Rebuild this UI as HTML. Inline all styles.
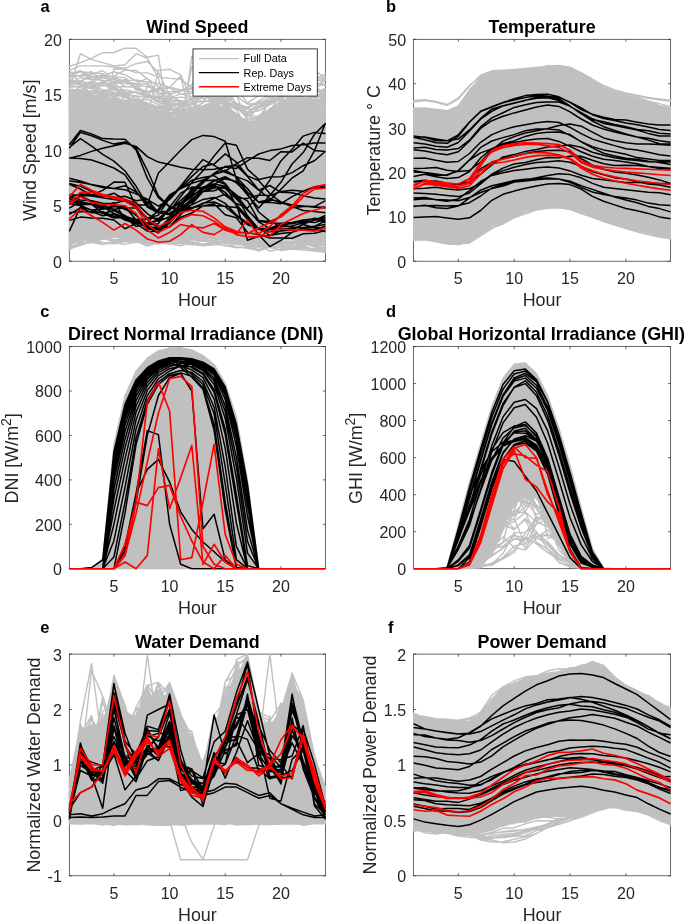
<!DOCTYPE html>
<html lang="en"><head><meta charset="utf-8"><title>Figure</title>
<style>html,body{margin:0;padding:0;background:#fff}svg{display:block;will-change:transform}text{font-family:"Liberation Sans", Arial, Helvetica, sans-serif;fill:#262626}.t{font-size:16.0px}.l{font-size:17.9px}.b{font-size:17.9px;font-weight:bold;fill:#000}.p{font-size:16.5px;font-weight:bold;fill:#000}.g{fill:none;stroke:#c0c0c0;stroke-width:1.4;stroke-linejoin:round;stroke-linecap:square}.k{fill:none;stroke:#000;stroke-width:1.5;stroke-linejoin:round}.r{fill:none;stroke:#f00;stroke-width:1.65;stroke-linejoin:round}.a{fill:none;stroke:#262626;stroke-width:0.7}</style></head><body>
<svg width="685" height="921" viewBox="0 0 685 921">
<rect width="685" height="921" fill="#fff"/>
<g id="panel-a">
<clipPath id="c0"><rect x="68.3" y="39.3" width="257.6" height="222.9"/></clipPath>
<rect class="a" x="69.3" y="39.3" width="256.2" height="221.9"/>
<path class="a" d="M113.9 261.2v-2.6 M113.9 39.3v2.6 M169.6 261.2v-2.6 M169.6 39.3v2.6 M225.2 261.2v-2.6 M225.2 39.3v2.6 M280.9 261.2v-2.6 M280.9 39.3v2.6 M69.3 261.2h2.6 M325.5 261.2h-2.6 M69.3 205.7h2.6 M325.5 205.7h-2.6 M69.3 150.2h2.6 M325.5 150.2h-2.6 M69.3 94.8h2.6 M325.5 94.8h-2.6 M69.3 39.3h2.6 M325.5 39.3h-2.6"/>
<g clip-path="url(#c0)">
<polygon points="69.3,99.2 80.4,98.7 91.6,98.1 102.7,99.2 113.9,100.3 125,103.1 136.1,105.9 147.3,110.3 158.4,113.6 169.6,117 180.7,117 191.8,115.3 203,113.6 214.1,109.2 225.2,112.5 236.4,121.4 247.5,129.2 258.7,125.8 269.8,117 280.9,110.3 292.1,107 303.2,103.7 314.4,102.5 325.5,101.4 325.5,241.8 314.4,240.7 303.2,239.6 292.1,239.6 280.9,239.6 269.8,240.1 258.7,240.7 247.5,239 236.4,237.3 225.2,235.4 214.1,233.5 203,233.5 191.8,233.5 180.7,234.6 169.6,235.7 158.4,235.1 147.3,234.6 136.1,233.7 125,232.9 113.9,232.6 102.7,232.4 91.6,233.5 80.4,234.6 69.3,239.6" fill="#c0c0c0" stroke="#c0c0c0" stroke-width="1.2" stroke-linejoin="round"/>
<path class="g" d="M69.3 105 80.4 99.7 91.6 100.7 102.7 93.6 113.9 100.3 125 106.3 136.1 104 147.3 111.7 158.4 118.1 169.6 118 180.7 120.3 191.8 120.3 203 118.5 214.1 113.9 225.2 115.1 236.4 125.3 247.5 133.3 258.7 131.2 269.8 119.5 280.9 113.6 292.1 110.8 303.2 111.1 314.4 106.3 325.5 102.3M69.3 99.7 80.4 103.3 91.6 101.8 102.7 107.8 113.9 101.8 125 105.2 136.1 109.2 147.3 109.1 158.4 118 169.6 117.8 180.7 123.5 191.8 120.7 203 120 214.1 108.3 225.2 107.2 236.4 119.9 247.5 126.2 258.7 125 269.8 115.1 280.9 111.7 292.1 112.8 303.2 111.9 314.4 105.8 325.5 96.7M69.3 99.4 80.4 93.9 91.6 95.7 102.7 98.3 113.9 101.3 125 103.7 136.1 104.3 147.3 114.8 158.4 112.8 169.6 117.3 180.7 118.8 191.8 118.9 203 111.1 214.1 109.1 225.2 116.2 236.4 123.8 247.5 134.6 258.7 132.4 269.8 123.2 280.9 115.4 292.1 113.8 303.2 113.8 314.4 106.1 325.5 101.9M69.3 94 80.4 96.5 91.6 96 102.7 95.9 113.9 99.1 125 107.5 136.1 106.1 147.3 107.7 158.4 111 169.6 118.2 180.7 118 191.8 117.4 203 115.4 214.1 106.2 225.2 106.5 236.4 116.3 247.5 124.9 258.7 121.6 269.8 114.8 280.9 109.3 292.1 108.3 303.2 104.3 314.4 96.3 325.5 95.7M69.3 93.3 80.4 97.3 91.6 96.6 102.7 98 113.9 101.4 125 101 136.1 101.6 147.3 105.3 158.4 109.2 169.6 114.4 180.7 116.1 191.8 114.6 203 112.2 214.1 110.6 225.2 109.2 236.4 116.5 247.5 123.5 258.7 124 269.8 113.6 280.9 102.9 292.1 99 303.2 99.6 314.4 100.3 325.5 99M69.3 103 80.4 103.7 91.6 104.5 102.7 99.3 113.9 103.4 125 109 136.1 108.9 147.3 113.4 158.4 117.4 169.6 118.5 180.7 118.3 191.8 116.9 203 113.6 214.1 110.3 225.2 116.8 236.4 126.5 247.5 135.2 258.7 130.2 269.8 124.2 280.9 121.1 292.1 114.1 303.2 113 314.4 114.8 325.5 108.4M69.3 97.9 80.4 97.9 91.6 100.1 102.7 103.2 113.9 104.8 125 105.8 136.1 110.9 147.3 112.6 158.4 111.1 169.6 114.4 180.7 109.9 191.8 113.9 203 107.4 214.1 103.2 225.2 107.8 236.4 116.1 247.5 122.4 258.7 124.6 269.8 112.3 280.9 102.9 292.1 102.2 303.2 98.4 314.4 100 325.5 98.6M69.3 92.2 80.4 89.2 91.6 92.7 102.7 92.1 113.9 97.1 125 101.1 136.1 104.5 147.3 106.4 158.4 109.2 169.6 109.3 180.7 113.1 191.8 111.1 203 106 214.1 101.1 225.2 109.6 236.4 115.3 247.5 124.8 258.7 119.8 269.8 110.4 280.9 100.8 292.1 99.2 303.2 102.4 314.4 103.1 325.5 96.9M69.3 92.3 80.4 93.8 91.6 97.7 102.7 94 113.9 95 125 93.9 136.1 96.6 147.3 104 158.4 108.3 169.6 114.3 180.7 114.2 191.8 112.2 203 109.1 214.1 100.5 225.2 105.6 236.4 113.5 247.5 125.5 258.7 118.1 269.8 108.6 280.9 105.1 292.1 100.4 303.2 99.4 314.4 102.4 325.5 96.1M69.3 107.9 80.4 106.4 91.6 102.7 102.7 104.8 113.9 104.2 125 109.1 136.1 113 147.3 116.2 158.4 119.6 169.6 120.7 180.7 120.8 191.8 114.6 203 116.4 214.1 113.7 225.2 120.2 236.4 127.6 247.5 132.8 258.7 132.2 269.8 122.7 280.9 113.6 292.1 111.4 303.2 109.8 314.4 105.3 325.5 105M69.3 100.6 80.4 92.9 91.6 93.2 102.7 94.7 113.9 95.2 125 96.8 136.1 101.8 147.3 108.1 158.4 107.1 169.6 122.1 180.7 119.2 191.8 112.8 203 113.9 214.1 103.2 225.2 109.6 236.4 116.5 247.5 127.7 258.7 123.5 269.8 112 280.9 107 292.1 105.1 303.2 100.9 314.4 102.1 325.5 98M69.3 101 80.4 98.6 91.6 95.4 102.7 96.4 113.9 104.9 125 105.2 136.1 103.6 147.3 109.8 158.4 115.8 169.6 118 180.7 119.8 191.8 115.8 203 114.8 214.1 106.6 225.2 110.7 236.4 123.4 247.5 129.3 258.7 124.1 269.8 118.6 280.9 113.2 292.1 116 303.2 106.4 314.4 106.5 325.5 110.4M69.3 101.7 80.4 101.7 91.6 102 102.7 107.4 113.9 101.6 125 101.2 136.1 106.9 147.3 117.2 158.4 118.5 169.6 120.1 180.7 117.5 191.8 115.4 203 114.9 214.1 104.3 225.2 113 236.4 118.1 247.5 131.7 258.7 125.6 269.8 117.9 280.9 109.8 292.1 109 303.2 110.4 314.4 113.5 325.5 108.8M69.3 102.8 80.4 104.6 91.6 97.9 102.7 98.9 113.9 103.3 125 107.1 136.1 100.3 147.3 110 158.4 116.3 169.6 118.1 180.7 116.4 191.8 115.1 203 116.8 214.1 114.8 225.2 114.3 236.4 123.1 247.5 135.5 258.7 126.3 269.8 115.6 280.9 111 292.1 108.8 303.2 104.6 314.4 105.7 325.5 107.6M69.3 107.2 80.4 103.3 91.6 100 102.7 101.4 113.9 104.1 125 110.4 136.1 114.6 147.3 111.7 158.4 118.2 169.6 124.4 180.7 121.1 191.8 119.9 203 119.7 214.1 109 225.2 113.4 236.4 118 247.5 135.5 258.7 129.3 269.8 119.3 280.9 113.1 292.1 108.3 303.2 104.5 314.4 104.5 325.5 107.1M69.3 101.4 80.4 102.7 91.6 99.1 102.7 97.5 113.9 101.6 125 103.8 136.1 108.9 147.3 114.8 158.4 116.4 169.6 117.6 180.7 119.6 191.8 123.8 203 116.9 214.1 116.2 225.2 116.4 236.4 119 247.5 128.7 258.7 129.8 269.8 123.9 280.9 111.1 292.1 108.2 303.2 103.4 314.4 100.5 325.5 101.3M69.3 105.3 80.4 111.2 91.6 108.7 102.7 107.3 113.9 110.2 125 114.7 136.1 112.3 147.3 115.8 158.4 120 169.6 120.1 180.7 120.5 191.8 122.4 203 113.4 214.1 109.7 225.2 113.9 236.4 124.2 247.5 126.2 258.7 129.8 269.8 123.7 280.9 118.6 292.1 118.3 303.2 111.6 314.4 109.5 325.5 108.4M69.3 94.2 80.4 96 91.6 92.5 102.7 91.2 113.9 97.3 125 104.6 136.1 105.6 147.3 106.4 158.4 111.3 169.6 116.2 180.7 113.8 191.8 120.3 203 116.7 214.1 113.3 225.2 112.3 236.4 122 247.5 131.3 258.7 126.5 269.8 120.2 280.9 110.6 292.1 107.7 303.2 103.7 314.4 103.2 325.5 97.8M69.3 97.9 80.4 96.3 91.6 91.4 102.7 90.7 113.9 92.3 125 95.5 136.1 100.8 147.3 110.6 158.4 115.2 169.6 113.4 180.7 111.5 191.8 107.9 203 107.9 214.1 100.5 225.2 109.7 236.4 117.2 247.5 121.3 258.7 122 269.8 108.5 280.9 104.4 292.1 101.9 303.2 103 314.4 96.1 325.5 95.5M69.3 102.9 80.4 103.4 91.6 106.2 102.7 107.9 113.9 104.4 125 103.9 136.1 107.9 147.3 115.6 158.4 117.9 169.6 121.6 180.7 119.6 191.8 118.1 203 118.7 214.1 113 225.2 119.7 236.4 124.5 247.5 129.2 258.7 131.1 269.8 120.2 280.9 116.7 292.1 108.9 303.2 103.9 314.4 105.2 325.5 101.8M69.3 105.4 80.4 107.9 91.6 104.4 102.7 105 113.9 107.5 125 112.2 136.1 111.2 147.3 111.7 158.4 117.4 169.6 125.6 180.7 123.2 191.8 120 203 116.5 214.1 114.1 225.2 117.4 236.4 128 247.5 138.9 258.7 131.4 269.8 120.7 280.9 112.2 292.1 110.6 303.2 108.2 314.4 106.5 325.5 107.3M69.3 98.3 80.4 99.4 91.6 102.8 102.7 108.4 113.9 110.3 125 115.2 136.1 109 147.3 114.3 158.4 120.4 169.6 125.8 180.7 126.2 191.8 122.6 203 122.7 214.1 110.6 225.2 117.1 236.4 127.7 247.5 133.2 258.7 125.4 269.8 114.7 280.9 112.3 292.1 109 303.2 106 314.4 103.9 325.5 103.1M69.3 103.2 80.4 102.3 91.6 99.6 102.7 92.6 113.9 99.5 125 100.4 136.1 106.7 147.3 114.8 158.4 117.4 169.6 120.6 180.7 121.6 191.8 118.3 203 116.3 214.1 110.9 225.2 112.1 236.4 123.9 247.5 132.8 258.7 131.2 269.8 121.9 280.9 113.4 292.1 103.7 303.2 102 314.4 104.7 325.5 106.8M69.3 102.4 80.4 99.1 91.6 95 102.7 99.3 113.9 100.6 125 107 136.1 100.3 147.3 105.9 158.4 108.6 169.6 112.3 180.7 111.6 191.8 110.6 203 112 214.1 105.9 225.2 110.4 236.4 116.3 247.5 128.5 258.7 126.8 269.8 115.2 280.9 105.5 292.1 103.9 303.2 103.9 314.4 102.7 325.5 102.7M69.3 101.7 80.4 98.3 91.6 97.2 102.7 100 113.9 98.9 125 100.4 136.1 101.2 147.3 113 158.4 112.7 169.6 115 180.7 112.5 191.8 112.7 203 115 214.1 111.5 225.2 110.3 236.4 122.6 247.5 129.6 258.7 122.7 269.8 117.3 280.9 108.8 292.1 114 303.2 105.8 314.4 107 325.5 104.1M69.3 94.1 80.4 91.3 91.6 94.6 102.7 92 113.9 95.4 125 96.7 136.1 102.6 147.3 105.2 158.4 113.1 169.6 114.2 180.7 116.2 191.8 114.6 203 110.8 214.1 106.6 225.2 110.8 236.4 117.7 247.5 124.3 258.7 126.7 269.8 115.1 280.9 106.8 292.1 106.7 303.2 101.7 314.4 104.7 325.5 97.7M69.3 101.5 80.4 96.8 91.6 99.2 102.7 99.3 113.9 104.5 125 103.9 136.1 104.3 147.3 111.2 158.4 112.3 169.6 117.7 180.7 122.8 191.8 116.8 203 111.8 214.1 108.4 225.2 113.3 236.4 127.1 247.5 133 258.7 128.1 269.8 112.4 280.9 109.1 292.1 107.2 303.2 106.8 314.4 107.2 325.5 102.5M69.3 101.8 80.4 104.2 91.6 97.7 102.7 108 113.9 110.5 125 113.7 136.1 109 147.3 113.3 158.4 118.4 169.6 125.5 180.7 122.7 191.8 120.3 203 120.6 214.1 119.5 225.2 123.3 236.4 128.7 247.5 134.4 258.7 130.7 269.8 122.3 280.9 120.6 292.1 114.5 303.2 112.9 314.4 109.5 325.5 106.1M69.3 99.1 80.4 104.4 91.6 103 102.7 100 113.9 98.3 125 103.8 136.1 113.6 147.3 117 158.4 120.7 169.6 119.7 180.7 121.2 191.8 120.9 203 120 214.1 113.1 225.2 120.5 236.4 127.8 247.5 137.2 258.7 131 269.8 124.3 280.9 119.5 292.1 108.8 303.2 104.4 314.4 104 325.5 105M69.3 96.7 80.4 91.6 91.6 92.3 102.7 90.8 113.9 96.1 125 101.7 136.1 99.9 147.3 99.4 158.4 104.6 169.6 108.1 180.7 112.2 191.8 115 203 112.4 214.1 102.5 225.2 112.8 236.4 121.2 247.5 132.9 258.7 125.6 269.8 112.6 280.9 110 292.1 106.2 303.2 97.7 314.4 98.1 325.5 101M69.3 105.4 80.4 103.4 91.6 103 102.7 100.4 113.9 103.9 125 103.2 136.1 105.6 147.3 114.2 158.4 116.6 169.6 118.2 180.7 123 191.8 118 203 116.2 214.1 106.2 225.2 107.2 236.4 122.7 247.5 134.4 258.7 128.6 269.8 117.3 280.9 111.3 292.1 107.9 303.2 100.5 314.4 104.1 325.5 101.6M69.3 103.5 80.4 97 91.6 98.6 102.7 101.5 113.9 103.4 125 100.6 136.1 106.8 147.3 109.4 158.4 112.9 169.6 116.4 180.7 119.7 191.8 115.2 203 109.5 214.1 107.7 225.2 114.9 236.4 126.8 247.5 131.8 258.7 128.4 269.8 119 280.9 111.8 292.1 112.5 303.2 104.6 314.4 102.8 325.5 102.3M69.3 96 80.4 96.8 91.6 90.9 102.7 90.6 113.9 101.4 125 100.8 136.1 105 147.3 106.1 158.4 112.9 169.6 116 180.7 113.4 191.8 112.1 203 108.3 214.1 107.1 225.2 113.2 236.4 120.3 247.5 126.3 258.7 122.4 269.8 113.6 280.9 112.1 292.1 107.1 303.2 102.6 314.4 96.4 325.5 91.6M69.3 101.3 80.4 101 91.6 101.9 102.7 105 113.9 105.3 125 106.3 136.1 109.3 147.3 113.9 158.4 118.2 169.6 119.7 180.7 119.1 191.8 120 203 115.2 214.1 109.1 225.2 111.6 236.4 122.7 247.5 131.8 258.7 131.9 269.8 119.3 280.9 119.1 292.1 113.9 303.2 109.5 314.4 104.4 325.5 103.8M69.3 98.3 80.4 105 91.6 106.4 102.7 100.3 113.9 102.6 125 106.6 136.1 105.7 147.3 109 158.4 118.5 169.6 120.4 180.7 121 191.8 117 203 117.3 214.1 110.8 225.2 122.6 236.4 127.4 247.5 127.9 258.7 123.9 269.8 111.8 280.9 107.3 292.1 107 303.2 107.1 314.4 106.5 325.5 100M69.3 100.4 80.4 95.6 91.6 94.5 102.7 92.1 113.9 88.1 125 92.4 136.1 99 147.3 103 158.4 106.8 169.6 108 180.7 114 191.8 114.6 203 116.6 214.1 106.3 225.2 108.5 236.4 118.6 247.5 127.3 258.7 123.9 269.8 116.1 280.9 108.2 292.1 104.7 303.2 95.9 314.4 95.1 325.5 97.5M69.3 72.9 80.4 71.8 91.6 72.8 102.7 73.6 113.9 84.7 125 81.3 136.1 84 147.3 83.7 158.4 92.9 169.6 98.4 180.7 93.7 191.8 97.2 203 101.8 214.1 99.3 225.2 96.5 236.4 96 247.5 104.2 258.7 103.2 269.8 97.8 280.9 97.8 292.1 95.1 303.2 84.4 314.4 82.7 325.5 77.8M69.3 82.5 80.4 80.6 91.6 84.7 102.7 84.3 113.9 89.8 125 93.7 136.1 102.4 147.3 106.4 158.4 107.3 169.6 110.6 180.7 106.5 191.8 97.3 203 93.7 214.1 95.3 225.2 104.1 236.4 116 247.5 127 258.7 121.1 269.8 108.9 280.9 101.4 292.1 97.5 303.2 93.9 314.4 94 325.5 96.3M69.3 75.4 80.4 70.5 91.6 78 102.7 74.6 113.9 77.7 125 81.2 136.1 85.2 147.3 86.6 158.4 90.1 169.6 87.7 180.7 90.1 191.8 91.7 203 86 214.1 79 225.2 80.8 236.4 88.3 247.5 103.2 258.7 95.5 269.8 90 280.9 82.7 292.1 83.6 303.2 88.4 314.4 80.3 325.5 76.4M69.3 89 80.4 90.7 91.6 82.5 102.7 83.2 113.9 83.4 125 91.6 136.1 92.8 147.3 96.9 158.4 98.2 169.6 98.7 180.7 97.1 191.8 98.7 203 96.7 214.1 100.2 225.2 100.4 236.4 107.2 247.5 118.4 258.7 118.9 269.8 109.2 280.9 107.1 292.1 99.6 303.2 94 314.4 97.1 325.5 94M69.3 90.2 80.4 91.5 91.6 92.8 102.7 84.8 113.9 86.4 125 96.9 136.1 103.6 147.3 105.3 158.4 106.3 169.6 105.9 180.7 114.1 191.8 104.3 203 106.8 214.1 101.1 225.2 100.1 236.4 117 247.5 120.4 258.7 106.5 269.8 102.7 280.9 100.1 292.1 99.7 303.2 93.7 314.4 96.6 325.5 98.3M69.3 74.8 80.4 76.3 91.6 74.1 102.7 70.7 113.9 78.9 125 86.6 136.1 86.8 147.3 96.2 158.4 101.2 169.6 102.7 180.7 100.5 191.8 103.7 203 101.1 214.1 91.8 225.2 88.9 236.4 108.7 247.5 108.5 258.7 102.3 269.8 100.4 280.9 99.6 292.1 91.4 303.2 88.9 314.4 85.8 325.5 80.3M69.3 77.8 80.4 71.1 91.6 79.8 102.7 80.1 113.9 81.5 125 79.6 136.1 90 147.3 92.2 158.4 101.7 169.6 100.1 180.7 101.2 191.8 100.6 203 93.5 214.1 91.4 225.2 94.9 236.4 104.7 247.5 112.7 258.7 110.8 269.8 104.8 280.9 98.4 292.1 102.3 303.2 95.2 314.4 87.6 325.5 92M69.3 96.1 80.4 90 91.6 85.4 102.7 93.4 113.9 93.3 125 97.5 136.1 104.1 147.3 107.3 158.4 109.5 169.6 107.9 180.7 103.6 191.8 108.7 203 108 214.1 100.1 225.2 98.4 236.4 120.3 247.5 119.4 258.7 117.3 269.8 101.6 280.9 99.6 292.1 100.8 303.2 96.3 314.4 89.5 325.5 90.1M69.3 87.2 80.4 86.2 91.6 88.8 102.7 81.2 113.9 88.7 125 97.1 136.1 104.7 147.3 108 158.4 108.3 169.6 116.3 180.7 106.7 191.8 104.3 203 94.4 214.1 101.3 225.2 101.9 236.4 109.1 247.5 112.6 258.7 103.8 269.8 103.8 280.9 95.1 292.1 91.3 303.2 92.3 314.4 92.1 325.5 89.2M69.3 70.1 80.4 83.4 91.6 81.7 102.7 95.6 113.9 86.7 125 86.5 136.1 87.4 147.3 91.6 158.4 88.4 169.6 94.9 180.7 90.9 191.8 89 203 88.1 214.1 83.6 225.2 88.4 236.4 103.6 247.5 107.1 258.7 101.2 269.8 94.6 280.9 85.4 292.1 79.8 303.2 84.8 314.4 83.7 325.5 83.9M69.3 85.3 80.4 87.4 91.6 82.2 102.7 77.7 113.9 79.2 125 83.9 136.1 84.1 147.3 95.4 158.4 97.4 169.6 104.1 180.7 104 191.8 99 203 92.1 214.1 84.6 225.2 91.6 236.4 106.6 247.5 116.2 258.7 108.2 269.8 96.2 280.9 85.4 292.1 89.4 303.2 84.7 314.4 81.1 325.5 80M69.3 90.7 80.4 91.2 91.6 91.8 102.7 91.8 113.9 86.8 125 101.1 136.1 108 147.3 115.6 158.4 117.1 169.6 123.9 180.7 115.9 191.8 111.4 203 109.6 214.1 107 225.2 107.7 236.4 114.9 247.5 121 258.7 121.4 269.8 108.6 280.9 109 292.1 97.8 303.2 109 314.4 105.6 325.5 105.8M69.3 97 80.4 85.3 91.6 82.2 102.7 75.5 113.9 71.8 125 74.7 136.1 81.1 147.3 82.1 158.4 99.6 169.6 107.2 180.7 114.6 191.8 109.2 203 102.8 214.1 97.6 225.2 99.2 236.4 107 247.5 115.4 258.7 120 269.8 109.7 280.9 105.5 292.1 102.1 303.2 88.8 314.4 89.7 325.5 95M69.3 92.2 80.4 91.6 91.6 91 102.7 94.9 113.9 93.3 125 91.7 136.1 99.4 147.3 104.2 158.4 107.3 169.6 105.1 180.7 102.6 191.8 107.5 203 106.2 214.1 108.9 225.2 114.2 236.4 119.9 247.5 123 258.7 115.5 269.8 109.7 280.9 109.5 292.1 102.3 303.2 99.1 314.4 95.5 325.5 94M69.3 84 80.4 77.5 91.6 79.8 102.7 76.6 113.9 76.8 125 77.6 136.1 88.8 147.3 92.3 158.4 87.9 169.6 88 180.7 94 191.8 93.1 203 91.1 214.1 95.1 225.2 98.4 236.4 102.9 247.5 109.4 258.7 108.4 269.8 103.5 280.9 96 292.1 93.6 303.2 93.5 314.4 98 325.5 93.8M69.3 78.2 80.4 75.3 91.6 71.7 102.7 82 113.9 77.5 125 81.9 136.1 87.7 147.3 92.6 158.4 91 169.6 87.1 180.7 89.9 191.8 88.1 203 92.4 214.1 85.8 225.2 86.3 236.4 103.8 247.5 112.4 258.7 103.8 269.8 103 280.9 95.1 292.1 86.7 303.2 90.5 314.4 87.9 325.5 83.9M69.3 86.8 80.4 86.6 91.6 86.1 102.7 89.6 113.9 90 125 89.6 136.1 92.1 147.3 94.4 158.4 97 169.6 101.7 180.7 106.4 191.8 98.9 203 98.6 214.1 96.9 225.2 104.8 236.4 119.4 247.5 126.1 258.7 124.4 269.8 118.2 280.9 105.8 292.1 92.2 303.2 96.9 314.4 88.7 325.5 92.3M69.3 79.1 80.4 85.3 91.6 92.9 102.7 81.5 113.9 86.1 125 94.2 136.1 92.1 147.3 96 158.4 102.6 169.6 106.5 180.7 104.6 191.8 102.1 203 97 214.1 95.4 225.2 100.3 236.4 106 247.5 113.1 258.7 106 269.8 100.7 280.9 95.6 292.1 97.9 303.2 86.1 314.4 92.8 325.5 89.3M69.3 92.1 80.4 95.5 91.6 95.6 102.7 98.6 113.9 104.7 125 100.6 136.1 113.2 147.3 115.9 158.4 116.8 169.6 110.5 180.7 108.8 191.8 112.9 203 116.6 214.1 103.2 225.2 102.9 236.4 109.7 247.5 128.8 258.7 124.6 269.8 109 280.9 109.3 292.1 101.7 303.2 96.3 314.4 92.6 325.5 88.3M69.3 83.5 80.4 84.5 91.6 87.8 102.7 82 113.9 86 125 94.8 136.1 95.8 147.3 97.9 158.4 96.2 169.6 95.8 180.7 101.2 191.8 103.1 203 101.5 214.1 101 225.2 101.8 236.4 106.6 247.5 113.8 258.7 117.5 269.8 111 280.9 94.7 292.1 95.8 303.2 87.4 314.4 83.7 325.5 85.3M69.3 110.5 80.4 105.8 91.6 117.3 102.7 118.5 113.9 110 125 120.5 136.1 126.4 147.3 85.7 158.4 93 169.6 93.9 180.7 91.4 191.8 84.5 203 73.2 214.1 71.2 225.2 71.5 236.4 76.4 247.5 85.9 258.7 79.3 269.8 71 280.9 72.5 292.1 63.1 303.2 118 314.4 108.2 325.5 120.2M69.3 120.3 80.4 118.4 91.6 112.4 102.7 117.3 113.9 120.8 125 113.7 136.1 121 147.3 131.8 158.4 122.9 169.6 125 180.7 138.3 191.8 56.2 203 68.2 214.1 71.7 225.2 76.2 236.4 76.3 247.5 80.5 258.7 78.8 269.8 80 280.9 78 292.1 114.1 303.2 112.1 314.4 112.9 325.5 122.4M69.3 107.5 80.4 111.8 91.6 116.6 102.7 112.6 113.9 68.7 125 69 136.1 72.6 147.3 72.9 158.4 76.9 169.6 78.4 180.7 79.1 191.8 87.6 203 86.1 214.1 92.9 225.2 94.2 236.4 137.1 247.5 141.5 258.7 141 269.8 136.4 280.9 121 292.1 121.7 303.2 118.4 314.4 113.3 325.5 115.1M69.3 82.8 80.4 82.5 91.6 73.3 102.7 77.3 113.9 75.9 125 70.1 136.1 70.4 147.3 78.6 158.4 86.3 169.6 94.3 180.7 104 191.8 128.9 203 131.9 214.1 130.3 225.2 131.2 236.4 139.9 247.5 141.1 258.7 145.7 269.8 134.8 280.9 121.2 292.1 114 303.2 115.6 314.4 118.2 325.5 109.9M69.3 110.2 80.4 113 91.6 118.8 102.7 109.9 113.9 115.5 125 124.2 136.1 127.3 147.3 127.2 158.4 135.5 169.6 91.6 180.7 90.9 191.8 85 203 74.7 214.1 79.5 225.2 84.4 236.4 78.2 247.5 92.4 258.7 79.5 269.8 87.2 280.9 78.5 292.1 118.4 303.2 124.9 314.4 119.4 325.5 109.6M69.3 116.7 80.4 107.9 91.6 111.6 102.7 109.6 113.9 112 125 117.1 136.1 114.6 147.3 128 158.4 121 169.6 135.1 180.7 123.3 191.8 66.7 203 71.6 214.1 67.6 225.2 63.5 236.4 81.9 247.5 93.9 258.7 89.8 269.8 79.9 280.9 75.4 292.1 118.3 303.2 111.9 314.4 115.3 325.5 119M69.3 106.3 80.4 118.1 91.6 113.4 102.7 118.6 113.9 114.2 125 118 136.1 126.9 147.3 126.2 158.4 129.9 169.6 136.4 180.7 137.6 191.8 124.9 203 71.4 214.1 65.9 225.2 73 236.4 75 247.5 84.6 258.7 85.4 269.8 86.8 280.9 74.2 292.1 71.8 303.2 114.6 314.4 112.7 325.5 118.8M69.3 66.4 80.4 62.6 91.6 58.1 102.7 52.7 113.9 52.5 125 48.2 136.1 48.2 147.3 57.3 158.4 55.1 169.6 130 180.7 125.4 191.8 130.1 203 121.1 214.1 125.9 225.2 121 236.4 141.8 247.5 136 258.7 136.5 269.8 126.1 280.9 125.3 292.1 119.3 303.2 116.7 314.4 115.5 325.5 117.2M69.3 79.6 80.4 81.1 91.6 76 102.7 80.7 113.9 81.2 125 80.6 136.1 79.9 147.3 81.9 158.4 83.5 169.6 87.3 180.7 76.1 191.8 123.5 203 121.4 214.1 121.2 225.2 119.5 236.4 134.7 247.5 144.1 258.7 134.6 269.8 135.3 280.9 117.1 292.1 122.1 303.2 122.7 314.4 118.3 325.5 107.1M69.3 89.2 80.4 53.7 91.6 59.3 102.7 62.6 113.9 65.9 125 64.8 136.1 53.7 147.3 58.2 158.4 78.1 169.6 117 180.7 122.5 191.8 122.9 203 123.4 214.1 123.8 225.2 124.2 236.4 124.6 247.5 125.1 258.7 125.5 269.8 125.9 280.9 126.4 292.1 126.8 303.2 127.2 314.4 127.6 325.5 128.1M69.3 70.4 80.4 65.9 91.6 65.9 102.7 65.9 113.9 67 125 68.1 136.1 63.7 147.3 61.5 158.4 72.6 169.6 94.8 180.7 117 191.8 117.8 203 118.7 214.1 119.5 225.2 120.4 236.4 121.2 247.5 122.1 258.7 122.9 269.8 123.8 280.9 124.6 292.1 125.5 303.2 126.4 314.4 127.2 325.5 128.1M69.3 128.1 80.4 126.5 91.6 124.9 102.7 123.3 113.9 121.7 125 120.1 136.1 118.5 147.3 117 158.4 70.4 169.6 69.3 180.7 74.8 191.8 100.3 203 78.1 214.1 54.8 225.2 67 236.4 94.8 247.5 122.5 258.7 123.3 269.8 124.1 280.9 124.9 292.1 125.7 303.2 126.5 314.4 127.3 325.5 128.1M69.3 128.1 80.4 127.1 91.6 126 102.7 125 113.9 124 125 123 136.1 122 147.3 121 158.4 120 169.6 119 180.7 118 191.8 117 203 67 214.1 59.3 225.2 59.3 236.4 78.1 247.5 92.6 258.7 83.7 269.8 72.6 280.9 70.4 292.1 69.3 303.2 67 314.4 70.4 325.5 78.1M69.3 128.1 80.4 127.7 91.6 127.4 102.7 127.1 113.9 126.8 125 126.4 136.1 126.1 147.3 125.8 158.4 125.4 169.6 125.1 180.7 124.8 191.8 124.5 203 124.1 214.1 123.8 225.2 123.5 236.4 123.2 247.5 122.8 258.7 122.5 269.8 100.3 280.9 83.7 292.1 74.8 303.2 72.6 314.4 79.2 325.5 73.7M69.3 80.4 80.4 83.7 91.6 89.2 102.7 85.9 113.9 82.6 125 81.5 136.1 83.7 147.3 78.1 158.4 94.8 169.6 105.9 180.7 117 191.8 117.8 203 118.7 214.1 119.5 225.2 120.4 236.4 121.2 247.5 122.1 258.7 122.9 269.8 123.8 280.9 124.6 292.1 125.5 303.2 126.4 314.4 127.2 325.5 128.1M69.3 239.8 80.4 235.5 91.6 232.5 102.7 233.9 113.9 236 125 235.6 136.1 235.7 147.3 236.3 158.4 237.7 169.6 236.6 180.7 237.1 191.8 231.1 203 232.9 214.1 236.7 225.2 237.6 236.4 242.7 247.5 240.1 258.7 243.6 269.8 244.5 280.9 242.1 292.1 243.8 303.2 241.1 314.4 243 325.5 241.8M69.3 241.2 80.4 235.6 91.6 233.5 102.7 232.6 113.9 234.9 125 236.9 136.1 237.3 147.3 236 158.4 235.1 169.6 233.6 180.7 237.3 191.8 235.1 203 235.4 214.1 235.7 225.2 236.9 236.4 239.2 247.5 241 258.7 243.4 269.8 241.3 280.9 239.1 292.1 237.7 303.2 240.9 314.4 243.9 325.5 244.2M69.3 248.1 80.4 242.5 91.6 242.2 102.7 244.4 113.9 242.9 125 241.4 136.1 241.6 147.3 244.4 158.4 241 169.6 243.3 180.7 243.5 191.8 244.2 203 245.9 214.1 244.8 225.2 244.9 236.4 246.9 247.5 247.6 258.7 246.9 269.8 247 280.9 250.4 292.1 246.7 303.2 246.2 314.4 249.5 325.5 251.7M69.3 240.8 80.4 237 91.6 233.9 102.7 232.9 113.9 232.5 125 233.9 136.1 233.8 147.3 236.8 158.4 230.7 169.6 236.5 180.7 236.5 191.8 233.3 203 232.3 214.1 235.4 225.2 239.7 236.4 241.9 247.5 243 258.7 244.1 269.8 242.4 280.9 239.4 292.1 238.6 303.2 241.2 314.4 241.2 325.5 241.4M69.3 248.8 80.4 245.4 91.6 241.9 102.7 242.5 113.9 242.7 125 244.4 136.1 242.1 147.3 242.1 158.4 243.5 169.6 243.6 180.7 245.9 191.8 242.3 203 245.3 214.1 243.9 225.2 245.5 236.4 247.9 247.5 246.6 258.7 244.7 269.8 251.2 280.9 248.6 292.1 246.8 303.2 248.3 314.4 248.5 325.5 252.6M69.3 246.6 80.4 244.7 91.6 240.4 102.7 237.7 113.9 239.5 125 239.2 136.1 240 147.3 241.6 158.4 243.9 169.6 242.4 180.7 243.7 191.8 238.5 203 241.2 214.1 239.7 225.2 243.2 236.4 243.8 247.5 246 258.7 246.6 269.8 247.9 280.9 249.4 292.1 247.7 303.2 247.3 314.4 250.3 325.5 250.5M69.3 244.3 80.4 241.5 91.6 238.3 102.7 237.4 113.9 235.4 125 236.1 136.1 238.1 147.3 238.3 158.4 236.8 169.6 240.1 180.7 238.9 191.8 237.4 203 237.4 214.1 238.2 225.2 241.4 236.4 242.2 247.5 244.6 258.7 247.3 269.8 246 280.9 242.7 292.1 242.5 303.2 242.5 314.4 243.3 325.5 246M69.3 242.3 80.4 236.7 91.6 237 102.7 235.9 113.9 233.5 125 233.2 136.1 236.8 147.3 238.5 158.4 233 169.6 237.1 180.7 237.5 191.8 234.5 203 236.1 214.1 235.9 225.2 235.6 236.4 236.7 247.5 240.2 258.7 239.8 269.8 241.1 280.9 241.3 292.1 241.1 303.2 241.6 314.4 241.4 325.5 242.5M69.3 244 80.4 239 91.6 237.2 102.7 236.9 113.9 235.1 125 237.2 136.1 239.8 147.3 234.8 158.4 239.3 169.6 238.9 180.7 237.8 191.8 237.8 203 240.5 214.1 236.2 225.2 236.9 236.4 239.6 247.5 242.6 258.7 241.6 269.8 245.7 280.9 243.2 292.1 241.9 303.2 243.4 314.4 246.3 325.5 248M69.3 244 80.4 239.3 91.6 239.4 102.7 236.2 113.9 235 125 234.2 136.1 236.2 147.3 235.4 158.4 235.4 169.6 240.2 180.7 238.3 191.8 238.6 203 238.5 214.1 236.5 225.2 238.4 236.4 237.6 247.5 237.5 258.7 241.4 269.8 242.5 280.9 242.4 292.1 242.3 303.2 241.3 314.4 244.3 325.5 243.7M69.3 247.4 80.4 244.2 91.6 239.6 102.7 242.5 113.9 243.8 125 241.5 136.1 242.3 147.3 243.1 158.4 244 169.6 241.8 180.7 243.6 191.8 244.7 203 244.7 214.1 243.3 225.2 241.9 236.4 247.1 247.5 247.6 258.7 249.1 269.8 247.4 280.9 246.8 292.1 247.6 303.2 249.9 314.4 251.1 325.5 252.2M69.3 245.5 80.4 235.5 91.6 238.3 102.7 237.7 113.9 236.1 125 235.3 136.1 235.8 147.3 236.8 158.4 239.2 169.6 237.4 180.7 236.6 191.8 238.4 203 234.1 214.1 236.1 225.2 236.4 236.4 241.9 247.5 244.2 258.7 245 269.8 244.4 280.9 241 292.1 244.6 303.2 242.6 314.4 245.1 325.5 244.1M69.3 241 80.4 231.9 91.6 234.6 102.7 233.1 113.9 234.8 125 232.7 136.1 232.9 147.3 233 158.4 236.5 169.6 233.2 180.7 237 191.8 235.1 203 233.7 214.1 234.9 225.2 236.2 236.4 238.6 247.5 240 258.7 244 269.8 239.6 280.9 238.5 292.1 239 303.2 239 314.4 240.3 325.5 244M69.3 242.4 80.4 235.7 91.6 239 102.7 236.5 113.9 236.2 125 236 136.1 240 147.3 242.5 158.4 244.1 169.6 242 180.7 235.5 191.8 236.3 203 239.3 214.1 237.6 225.2 240.1 236.4 241.4 247.5 243.9 258.7 247.3 269.8 246 280.9 243.1 292.1 243 303.2 241.5 314.4 246 325.5 244.5M69.3 249.7 80.4 243.6 91.6 242.7 102.7 239.1 113.9 240.1 125 240 136.1 240.3 147.3 241.6 158.4 242.5 169.6 241.9 180.7 241.9 191.8 239.7 203 241 214.1 242.1 225.2 245.9 236.4 246.9 247.5 248.4 258.7 250.6 269.8 245.7 280.9 250.5 292.1 249 303.2 250 314.4 249.9 325.5 247.7M69.3 247.3 80.4 242.8 91.6 242.9 102.7 238.3 113.9 242 125 241.3 136.1 241.4 147.3 246 158.4 242.8 169.6 244.1 180.7 242.2 191.8 241.8 203 244.1 214.1 241.8 225.2 243.2 236.4 243.5 247.5 245.5 258.7 251 269.8 246.8 280.9 245.7 292.1 245.6 303.2 246 314.4 249.3 325.5 249M69.3 245.9 80.4 239.6 91.6 235.6 102.7 236.6 113.9 240.6 125 240.2 136.1 234.5 147.3 239.5 158.4 238.7 169.6 239.1 180.7 240.4 191.8 239.8 203 237.1 214.1 238.3 225.2 240.4 236.4 240.7 247.5 242.8 258.7 242.8 269.8 243.7 280.9 242.8 292.1 243.4 303.2 242.3 314.4 242.9 325.5 246.2M69.3 241.9 80.4 234.6 91.6 235.7 102.7 238.2 113.9 236.7 125 235 136.1 236.7 147.3 238 158.4 235.4 169.6 237.7 180.7 235.1 191.8 235.1 203 238.1 214.1 238.2 225.2 239.1 236.4 239.7 247.5 242.8 258.7 245.9 269.8 245.2 280.9 243.7 292.1 244 303.2 243.6 314.4 240.5 325.5 243M69.3 243.3 80.4 239.7 91.6 239.2 102.7 235.9 113.9 235.7 125 236.6 136.1 237.9 147.3 236.5 158.4 239.7 169.6 240.7 180.7 239.7 191.8 244.3 203 239.8 214.1 240.3 225.2 238 236.4 241.3 247.5 241 258.7 244.1 269.8 245.3 280.9 243.5 292.1 243.3 303.2 244.6 314.4 243.1 325.5 243.1M69.3 240.2 80.4 235.7 91.6 237.7 102.7 235.5 113.9 239.6 125 238.1 136.1 242 147.3 240.3 158.4 237.6 169.6 238.9 180.7 235.3 191.8 236.2 203 236.6 214.1 237.4 225.2 238.2 236.4 240.8 247.5 240.5 258.7 240.9 269.8 242.1 280.9 244.6 292.1 242.6 303.2 240.7 314.4 242.4 325.5 244.3M69.3 244.6 80.4 236.4 91.6 235 102.7 237.5 113.9 237.3 125 237 136.1 239.5 147.3 241.1 158.4 239.1 169.6 237.6 180.7 238.8 191.8 237.3 203 237.4 214.1 237.9 225.2 241.5 236.4 244.6 247.5 245.1 258.7 247 269.8 246.5 280.9 246.1 292.1 246.6 303.2 243.6 314.4 246.8 325.5 249.7M69.3 240.9 80.4 239.1 91.6 238.2 102.7 233.9 113.9 235.3 125 235.1 136.1 237.8 147.3 238.9 158.4 238.3 169.6 235.2 180.7 235 191.8 237.8 203 235.3 214.1 233.8 225.2 235.7 236.4 240.8 247.5 241.5 258.7 239.2 269.8 242.6 280.9 241.1 292.1 242.6 303.2 244 314.4 244.1 325.5 242.4M69.3 243.2 80.4 236.8 91.6 235 102.7 237.9 113.9 234.3 125 238.1 136.1 238.9 147.3 237.4 158.4 237.2 169.6 238.8 180.7 239.2 191.8 237.1 203 236.6 214.1 237.5 225.2 239.1 236.4 239.4 247.5 238.7 258.7 241.1 269.8 244.9 280.9 242.4 292.1 241.3 303.2 245.1 314.4 244.4 325.5 243.2M69.3 243.5 80.4 238.5 91.6 235.8 102.7 233.1 113.9 234.8 125 235 136.1 237.3 147.3 235.6 158.4 234.9 169.6 237.8 180.7 238.2 191.8 232.7 203 233.4 214.1 236.7 225.2 240.9 236.4 241.2 247.5 239.8 258.7 243.5 269.8 243.1 280.9 243 292.1 241.2 303.2 239.4 314.4 244.5 325.5 245.1M69.3 237.8 80.4 236.3 91.6 234 102.7 233.8 113.9 235.3 125 230.8 136.1 235.3 147.3 234.1 158.4 236.3 169.6 235.5 180.7 233.8 191.8 234.1 203 234.7 214.1 235 225.2 235 236.4 238.1 247.5 239.9 258.7 243.3 269.8 242.7 280.9 238.8 292.1 238.9 303.2 240.3 314.4 238.5 325.5 241.3M69.3 245.6 80.4 239 91.6 241.1 102.7 238.1 113.9 236.5 125 238.8 136.1 239.5 147.3 239.8 158.4 240.2 169.6 238.4 180.7 240.9 191.8 236.8 203 240.3 214.1 240.4 225.2 242.5 236.4 243.3 247.5 245.4 258.7 245.5 269.8 245.3 280.9 241.1 292.1 243.1 303.2 244.8 314.4 245.3 325.5 245.9M69.3 237.2 80.4 235.7 91.6 234.3 102.7 234.6 113.9 235.1 125 234.6 136.1 234.2 147.3 236.6 158.4 236.1 169.6 238.7 180.7 237.7 191.8 232 203 234.6 214.1 234.3 225.2 239.1 236.4 236.9 247.5 240.4 258.7 240.3 269.8 241.9 280.9 242.9 292.1 242.9 303.2 241.5 314.4 241.6 325.5 241.5M69.3 241.6 80.4 236.8 91.6 238.4 102.7 232.7 113.9 232.5 125 233.2 136.1 237.3 147.3 236.2 158.4 235.2 169.6 237.8 180.7 237.2 191.8 236.6 203 234.9 214.1 235.8 225.2 238.2 236.4 242.2 247.5 244.8 258.7 242.4 269.8 239.5 280.9 239.5 292.1 238.7 303.2 241.8 314.4 243 325.5 243.4"/>
<path class="k" d="M69.3 144.8 80.4 130.4 91.6 133.9 102.7 138.6 113.9 139.1 125 139.3 136.1 149.9 147.3 178.2 158.4 197.7 169.6 207 180.7 211.6 191.8 208.7 203 203.1 214.1 202 225.2 206.6 236.4 215.8 247.5 224.7 258.7 228.8 269.8 228.3 280.9 226.5 292.1 225.9 303.2 222.8 314.4 220.2 325.5 218.8M69.3 148.2 80.4 132.2 91.6 135.7 102.7 140.4 113.9 144.1 125 141.9 136.1 148.1 147.3 170.3 158.4 195.7 169.6 206.5 180.7 209.2 191.8 204.9 203 199.4 214.1 197.4 225.2 203.4 236.4 214.8 247.5 223.2 258.7 228.7 269.8 229.6 280.9 228.6 292.1 228.2 303.2 227.5 314.4 226.5 325.5 224.3M69.3 147.5 80.4 138.6 91.6 146.2 102.7 154.3 113.9 161.1 125 171 136.1 186.3 147.3 204.8 158.4 212.4 169.6 214.8 180.7 208.6 191.8 198.9 203 191.5 214.1 186.3 225.2 188.4 236.4 198.9 247.5 210.2 258.7 220.9 269.8 223 280.9 223.3 292.1 222.4 303.2 220 314.4 218.8 325.5 217.8M69.3 158.3 80.4 155.4 91.6 151.4 102.7 148.2 113.9 145.7 125 143.2 136.1 146.4 147.3 156.6 158.4 162.1 169.6 164.5 180.7 167.3 191.8 169.3 203 169.7 214.1 169.3 225.2 166.9 236.4 168.4 247.5 160.8 258.7 154 269.8 150.6 280.9 148.9 292.1 145.5 303.2 144.7 314.4 143.1 325.5 143.1M69.3 158 80.4 158.5 91.6 160 102.7 163.8 113.9 168 125 174.9 136.1 191 147.3 207 158.4 213.1 169.6 213.4 180.7 206.2 191.8 194.1 203 182.9 214.1 173.3 225.2 166.5 236.4 165.4 247.5 176.4 258.7 190 269.8 198.5 280.9 202.9 292.1 205.3 303.2 206 314.4 207.3 325.5 207M69.3 194.5 80.4 195.6 91.6 196 102.7 197.8 113.9 199.6 125 200.9 136.1 205 147.3 205.1 158.4 173 169.6 161.7 180.7 150.3 191.8 139.6 203 135.4 214.1 136.6 225.2 141.2 236.4 179.3 247.5 192.2 258.7 202.1 269.8 199.6 280.9 201.9 292.1 204.9 303.2 206 314.4 206.7 325.5 208M69.3 180.7 80.4 182.4 91.6 184.4 102.7 186.4 113.9 188.4 125 185.7 136.1 192.2 147.3 202 158.4 211.9 169.6 210.9 180.7 196.5 191.8 182.6 203 170.7 214.1 156 225.2 143.1 236.4 145.3 247.5 169.1 258.7 179.4 269.8 177.1 280.9 176.8 292.1 172.6 303.2 165.7 314.4 160.8 325.5 151.3M69.3 183.5 80.4 186.3 91.6 191.3 102.7 195.1 113.9 197.4 125 196.2 136.1 200.7 147.3 199.1 158.4 212.9 169.6 213.9 180.7 209.2 191.8 200.6 203 188.1 214.1 180.3 225.2 178.8 236.4 181.5 247.5 195.1 258.7 208.1 269.8 195.5 280.9 182.3 292.1 164 303.2 152.6 314.4 134.5 325.5 123.4M69.3 198.8 80.4 201.7 91.6 204.1 102.7 209.3 113.9 206.4 125 207.7 136.1 215.5 147.3 224.9 158.4 223.7 169.6 207 180.7 193.1 191.8 187.1 203 187.6 214.1 184.8 225.2 195.5 236.4 203.5 247.5 207.9 258.7 195.2 269.8 180.2 280.9 160.9 292.1 149.3 303.2 136.1 314.4 132.4 325.5 133.4M69.3 197.2 80.4 193.9 91.6 194.4 102.7 196.7 113.9 193.2 125 199.7 136.1 202.8 147.3 213.6 158.4 221.4 169.6 216.7 180.7 203.5 191.8 191.8 203 180.5 214.1 174.2 225.2 170.1 236.4 176.9 247.5 188.7 258.7 202.6 269.8 200.4 280.9 189.3 292.1 178 303.2 170.9 314.4 150.9 325.5 123M69.3 202.7 80.4 201.9 91.6 204.5 102.7 206.7 113.9 213.4 125 217.5 136.1 226.5 147.3 223.6 158.4 209.1 169.6 195 180.7 188.5 191.8 183.2 203 180 214.1 174.3 225.2 171.1 236.4 163.6 247.5 157.7 258.7 158.3 269.8 160.5 280.9 151.7 292.1 151.9 303.2 143.2 314.4 150.4 325.5 151.6M69.3 212.4 80.4 211.7 91.6 211.4 102.7 215.8 113.9 214 125 220 136.1 223.6 147.3 231.2 158.4 231.4 169.6 223.2 180.7 208.7 191.8 187.9 203 188.2 214.1 184.4 225.2 178.3 236.4 181.5 247.5 188.4 258.7 202.5 269.8 202.3 280.9 203.7 292.1 196.6 303.2 191.2 314.4 186.8 325.5 186M69.3 200.6 80.4 204.7 91.6 204.3 102.7 208.7 113.9 206.8 125 206.8 136.1 220 147.3 224.5 158.4 220.3 169.6 217.5 180.7 204.3 191.8 196.9 203 187 214.1 184.1 225.2 186.2 236.4 194.8 247.5 209.5 258.7 221.9 269.8 228.6 280.9 225.2 292.1 227.1 303.2 227.8 314.4 226.3 325.5 220.9M69.3 204.4 80.4 195.9 91.6 201.2 102.7 208.3 113.9 209.2 125 207.8 136.1 208.1 147.3 219.3 158.4 228.3 169.6 226.5 180.7 214.5 191.8 204.2 203 191.5 214.1 188 225.2 186.7 236.4 195.7 247.5 215.8 258.7 228.7 269.8 231.7 280.9 230.9 292.1 230 303.2 224.1 314.4 220.1 325.5 215.5M69.3 198.5 80.4 204.1 91.6 203.9 102.7 205.8 113.9 202.6 125 218.5 136.1 222.1 147.3 223.5 158.4 219.8 169.6 209.9 180.7 200.6 191.8 190.5 203 180.9 214.1 180 225.2 184.4 236.4 205.9 247.5 219.4 258.7 228.4 269.8 235.3 280.9 230.7 292.1 230.1 303.2 224.5 314.4 227.7 325.5 231.8M69.3 214.4 80.4 207.8 91.6 212.7 102.7 211.8 113.9 216.2 125 218.5 136.1 219.3 147.3 227.1 158.4 233 169.6 220.2 180.7 209.6 191.8 202.2 203 191.6 214.1 190.8 225.2 186.6 236.4 195.3 247.5 200.9 258.7 220.6 269.8 221.6 280.9 216.6 292.1 207.7 303.2 206.5 314.4 206.6 325.5 200.7M69.3 220.4 80.4 217.1 91.6 218.1 102.7 218.3 113.9 220 125 228.7 136.1 223.5 147.3 222.8 158.4 226 169.6 227 180.7 217.2 191.8 213 203 205.9 214.1 205.4 225.2 206.3 236.4 207.4 247.5 218.4 258.7 234.6 269.8 238.1 280.9 238 292.1 238.2 303.2 233.7 314.4 233.2 325.5 230.5M69.3 208.2 80.4 201.6 91.6 204.2 102.7 205.2 113.9 209.4 125 215.7 136.1 222.2 147.3 226.1 158.4 229.2 169.6 218 180.7 209.7 191.8 207.5 203 206.1 214.1 203.8 225.2 214.8 236.4 217.7 247.5 232.4 258.7 234.8 269.8 246.6 280.9 240.3 292.1 232.4 303.2 228.1 314.4 227.4 325.5 228.6M69.3 231.4 80.4 206.9 91.6 210.1 102.7 209.3 113.9 205.1 125 209.3 136.1 214.7 147.3 226.8 158.4 228 169.6 222.4 180.7 211.8 191.8 199.7 203 189.3 214.1 185.1 225.2 192.3 236.4 204.2 247.5 240.3 258.7 236.1 269.8 235.6 280.9 233.4 292.1 232.2 303.2 228.9 314.4 229.9 325.5 225.9M69.3 184.2 80.4 189 91.6 195.3 102.7 190.4 113.9 182.1 125 182.2 136.1 206.8 147.3 218.7 158.4 215.1 169.6 198.2 180.7 186 191.8 172.3 203 159.6 214.1 165.4 225.2 172.3 236.4 176.6 247.5 180.9 258.7 190.3 269.8 185.5 280.9 192.3 292.1 192.8 303.2 195.7 314.4 197.9 325.5 199M69.3 201.8 80.4 203.7 91.6 204.2 102.7 213.4 113.9 210.5 125 216.3 136.1 219.6 147.3 219.1 158.4 211 169.6 197.3 180.7 188 191.8 180.3 203 177.4 214.1 175.6 225.2 183.5 236.4 198 247.5 198.4 258.7 195 269.8 195.6 280.9 191.5 292.1 190.3 303.2 191.2 314.4 187.6 325.5 187.7M69.3 196.7 80.4 200 91.6 200.8 102.7 203.3 113.9 203.4 125 200.5 136.1 207.3 147.3 217.7 158.4 218.5 169.6 209.1 180.7 203 191.8 195.2 203 189.5 214.1 181 225.2 176.7 236.4 182.8 247.5 193.9 258.7 212 269.8 221.2 280.9 226.8 292.1 222.5 303.2 221.2 314.4 218.2 325.5 222.5M69.3 203.8 80.4 205.4 91.6 210.2 102.7 213.3 113.9 218 125 217.3 136.1 220 147.3 228.9 158.4 229.5 169.6 219.1 180.7 212.7 191.8 207.8 203 203.7 214.1 198.4 225.2 194.3 236.4 204.4 247.5 217.2 258.7 229.5 269.8 228.3 280.9 224.2 292.1 223.8 303.2 221.3 314.4 222.6 325.5 219.5M69.3 178.3 80.4 180.9 91.6 184.7 102.7 187.5 113.9 188.4 125 189.8 136.1 193.9 147.3 199.3 158.4 206.1 169.6 199.5 180.7 187.5 191.8 176.4 203 166.5 214.1 164.1 225.2 153.9 236.4 162.1 247.5 175.9 258.7 180.6 269.8 193.6 280.9 202.2 292.1 206.6 303.2 210.5 314.4 211.5 325.5 212.7"/>
<path class="r" d="M69.3 196.8 80.4 184.6 91.6 190.2 102.7 194.6 113.9 196.8 125 199.1 136.1 204.6 147.3 219 158.4 226.8 169.6 221.3 180.7 212.4 191.8 210.2 203 211.3 214.1 217.9 225.2 226.8 236.4 231.2 247.5 233.5 258.7 233.5 269.8 226.8 280.9 214.6 292.1 205.7 303.2 193.5 314.4 186.9 325.5 184.6M69.3 203.5 80.4 192.4 91.6 192.4 102.7 195.7 113.9 198 125 201.3 136.1 207.9 147.3 224.6 158.4 232.4 169.6 226.8 180.7 219 191.8 214.6 203 215.7 214.1 221.3 225.2 229 236.4 232.4 247.5 233.5 258.7 227.9 269.8 222.4 280.9 216.8 292.1 207.9 303.2 196.8 314.4 189.1 325.5 188M69.3 204.6 80.4 196.8 91.6 202.4 102.7 204.6 113.9 204.6 125 205.7 136.1 213.5 147.3 230.1 158.4 237.9 169.6 232.4 180.7 224.6 191.8 226.8 203 227.9 214.1 223.5 225.2 230.1 236.4 233.5 247.5 219.9 258.7 235.7 269.8 236.2 280.9 224.6 292.1 219 303.2 213.5 314.4 210.2 325.5 206.8M69.3 219 80.4 209.1 91.6 215.7 102.7 222.4 113.9 230.1 125 223.5 136.1 230.1 147.3 239 158.4 242.3 169.6 241.2 180.7 234.6 191.8 224.6 203 232.4 214.1 234.6 225.2 227.9 236.4 234.6 247.5 236.8 258.7 236.8 269.8 231.2 280.9 229 292.1 230.1 303.2 230.1 314.4 231.2 325.5 227.9"/>
</g>
<rect x="193" y="48.9" width="124.3" height="47.2" fill="#fff" stroke="#262626" stroke-width="0.9"/>
<line x1="198.8" x2="239" y1="58.6" y2="58.6" stroke="#c0c0c0" stroke-width="1.2"/><text x="243.6" y="62.4" style="font-size:10.8px;fill:#000">Full Data</text>
<line x1="198.8" x2="239" y1="72.7" y2="72.7" stroke="#000" stroke-width="1.3"/><text x="243.6" y="76.5" style="font-size:10.8px;fill:#000">Rep. Days</text>
<line x1="198.8" x2="239" y1="86.8" y2="86.8" stroke="#f00" stroke-width="1.4"/><text x="243.6" y="90.6" style="font-size:10.8px;fill:#000">Extreme Days</text>
<text class="t" text-anchor="middle" x="113.9" y="284.2">5</text><text class="t" text-anchor="middle" x="169.6" y="284.2">10</text><text class="t" text-anchor="middle" x="225.2" y="284.2">15</text><text class="t" text-anchor="middle" x="280.9" y="284.2">20</text>
<text class="t" text-anchor="end" x="61.8" y="267.6">0</text><text class="t" text-anchor="end" x="61.8" y="212.1">5</text><text class="t" text-anchor="end" x="61.8" y="156.7">10</text><text class="t" text-anchor="end" x="61.8" y="101.2">15</text><text class="t" text-anchor="end" x="61.8" y="45.7">20</text>
<text class="l" text-anchor="middle" x="197.4" y="306">Hour</text>
<text class="b" text-anchor="middle" x="197.4" y="32.8">Wind Speed</text>
<text class="l" text-anchor="middle" transform="translate(36 150.2) rotate(-90)">Wind Speed [m/s]</text>
<text class="p" x="40.4" y="12.3">a</text>
</g>
<g id="panel-b">
<clipPath id="c1"><rect x="412.6" y="39.3" width="258.4" height="222.9"/></clipPath>
<rect class="a" x="413.6" y="39.3" width="257" height="221.9"/>
<path class="a" d="M458.3 261.2v-2.6 M458.3 39.3v2.6 M514.2 261.2v-2.6 M514.2 39.3v2.6 M570 261.2v-2.6 M570 39.3v2.6 M625.9 261.2v-2.6 M625.9 39.3v2.6 M413.6 261.2h2.6 M670.6 261.2h-2.6 M413.6 216.8h2.6 M670.6 216.8h-2.6 M413.6 172.4h2.6 M670.6 172.4h-2.6 M413.6 128.1h2.6 M670.6 128.1h-2.6 M413.6 83.7h2.6 M670.6 83.7h-2.6 M413.6 39.3h2.6 M670.6 39.3h-2.6"/>
<g clip-path="url(#c1)">
<polygon points="413.6,109.9 424.8,109 435.9,110.3 447.1,111.6 458.3,106.8 469.5,90.8 480.6,79.2 491.8,74.4 503,72.1 514.2,71.3 525.3,69.9 536.5,68.6 547.7,66.8 558.9,66.8 570,69 581.2,74.4 592.4,81 603.6,88.1 614.7,92.6 625.9,96.1 637.1,99.7 648.3,102.8 659.4,105.9 670.6,108.5 670.6,236.3 659.4,234.1 648.3,231.5 637.1,228.8 625.9,225.7 614.7,222.6 603.6,219 592.4,215 581.2,210.6 570,206.6 558.9,204.4 547.7,204.8 536.5,207.1 525.3,210.6 514.2,215 503,220.4 491.8,225.7 480.6,232.8 469.5,239.9 458.3,241.7 447.1,240.8 435.9,239 424.8,237.2 413.6,238.1" fill="#c0c0c0" stroke="#c0c0c0" stroke-width="1.2" stroke-linejoin="round"/>
<path class="g" d="M413.6 110 424.8 108.8 435.9 110.4 447.1 111.4 458.3 106.1 469.5 91.2 480.6 79.8 491.8 74.8 503 73.5 514.2 73.9 525.3 71.9 536.5 70.5 547.7 68 558.9 67.8 570 69.8 581.2 75.2 592.4 81.6 603.6 89 614.7 93.6 625.9 96.6 637.1 100.2 648.3 102.9 659.4 106 670.6 108.8M413.6 109.8 424.8 109.5 435.9 110.7 447.1 112.8 458.3 107.8 469.5 91.7 480.6 80.6 491.8 76.5 503 74 514.2 72.8 525.3 71.6 536.5 70.4 547.7 67.9 558.9 67.9 570 70.3 581.2 75.1 592.4 81.7 603.6 89.1 614.7 93.1 625.9 96.8 637.1 99.9 648.3 103.4 659.4 106.4 670.6 108.5M413.6 109.3 424.8 108.3 435.9 109.3 447.1 110.8 458.3 105.8 469.5 90.1 480.6 77.7 491.8 73.6 503 71 514.2 70.9 525.3 69.3 536.5 67.4 547.7 66.4 558.9 65.6 570 68.5 581.2 74.3 592.4 80.8 603.6 88.4 614.7 92.3 625.9 95.6 637.1 100.5 648.3 104.1 659.4 107.2 670.6 109.4M413.6 111.2 424.8 109.9 435.9 111.7 447.1 112.8 458.3 108.6 469.5 92.2 480.6 79.8 491.8 75.7 503 74.6 514.2 74.2 525.3 72 536.5 70.7 547.7 68.1 558.9 68.7 570 71.2 581.2 76.3 592.4 82.2 603.6 89.3 614.7 94.2 625.9 97.4 637.1 100.8 648.3 103.6 659.4 106.8 670.6 109.7M413.6 110.9 424.8 109.5 435.9 110 447.1 111 458.3 106.6 469.5 91.3 480.6 78.8 491.8 74.1 503 71.9 514.2 70.8 525.3 69.7 536.5 68.2 547.7 65.6 558.9 65.9 570 67.2 581.2 72.6 592.4 79.3 603.6 86.1 614.7 90.4 625.9 93.7 637.1 97.3 648.3 101 659.4 103.6 670.6 106.6M413.6 109.6 424.8 108.6 435.9 110.1 447.1 111.5 458.3 106.5 469.5 89.8 480.6 78.6 491.8 74.7 503 72.8 514.2 71.6 525.3 70.4 536.5 69.4 547.7 67.2 558.9 66.9 570 69.3 581.2 74.6 592.4 81.6 603.6 88.9 614.7 93.5 625.9 97.6 637.1 100.8 648.3 103.8 659.4 107 670.6 109.5M413.6 109.7 424.8 109 435.9 110.6 447.1 111.1 458.3 107 469.5 91 480.6 78.9 491.8 74.6 503 72.7 514.2 72 525.3 71.3 536.5 69 547.7 67.2 558.9 67.5 570 69.8 581.2 74.8 592.4 81.4 603.6 88.8 614.7 92.7 625.9 96.6 637.1 100.1 648.3 103 659.4 106.3 670.6 108.8M413.6 108.3 424.8 108 435.9 109.4 447.1 111.4 458.3 107.3 469.5 91.6 480.6 80.3 491.8 75.6 503 73.3 514.2 71.9 525.3 69.6 536.5 67.5 547.7 66.1 558.9 65.5 570 67.3 581.2 73.5 592.4 80.7 603.6 88.1 614.7 91.8 625.9 95.7 637.1 99.6 648.3 102.2 659.4 105.7 670.6 108.6M413.6 109.6 424.8 109.9 435.9 111.7 447.1 112.5 458.3 108.2 469.5 91.6 480.6 80.1 491.8 74.9 503 72.5 514.2 72.5 525.3 71.3 536.5 70.3 547.7 68.1 558.9 67.1 570 69.5 581.2 74.7 592.4 82.3 603.6 89.3 614.7 93.7 625.9 97.1 637.1 100.2 648.3 102.6 659.4 105.8 670.6 108.3M413.6 111.4 424.8 110.7 435.9 113 447.1 114.1 458.3 109.7 469.5 93.5 480.6 81.8 491.8 76.9 503 73.8 514.2 73.2 525.3 72.1 536.5 70.8 547.7 69 558.9 69.5 570 71.4 581.2 76.6 592.4 83.5 603.6 91.2 614.7 94.9 625.9 97.9 637.1 101.1 648.3 103.9 659.4 106.4 670.6 109.2M413.6 111.5 424.8 111 435.9 112.3 447.1 113.7 458.3 108.6 469.5 91.9 480.6 80.4 491.8 75.1 503 72 514.2 70.6 525.3 69.7 536.5 69.1 547.7 66.5 558.9 67.5 570 70.8 581.2 77.1 592.4 82.9 603.6 90.6 614.7 95 625.9 98.4 637.1 101.2 648.3 105 659.4 107.9 670.6 110.3M413.6 111.3 424.8 110.3 435.9 111.7 447.1 112.6 458.3 107.4 469.5 92 480.6 80.3 491.8 76.3 503 74 514.2 73.4 525.3 72.1 536.5 70.1 547.7 67.2 558.9 67.3 570 69.8 581.2 75.4 592.4 81.8 603.6 89 614.7 93.1 625.9 96.1 637.1 99.6 648.3 103.1 659.4 106.1 670.6 109.3M413.6 110.9 424.8 109.3 435.9 110.4 447.1 112.3 458.3 109.4 469.5 94.1 480.6 82.2 491.8 77.4 503 74.2 514.2 73.8 525.3 72.1 536.5 70.6 547.7 68.7 558.9 69.5 570 71.7 581.2 76.8 592.4 83.5 603.6 91.1 614.7 95.6 625.9 99.4 637.1 102.5 648.3 105 659.4 107.9 670.6 110.4M413.6 109.3 424.8 109.3 435.9 110.5 447.1 111.3 458.3 106.7 469.5 90.4 480.6 79.7 491.8 74.7 503 72.4 514.2 71.1 525.3 69.7 536.5 67.2 547.7 67.3 558.9 67.8 570 70.1 581.2 75.1 592.4 81.9 603.6 89 614.7 93.9 625.9 97.8 637.1 101.3 648.3 103.3 659.4 106.6 670.6 107.8M413.6 110.8 424.8 109.5 435.9 110.4 447.1 112.5 458.3 108.5 469.5 91.8 480.6 80.9 491.8 75.4 503 72.8 514.2 72.8 525.3 71 536.5 69.3 547.7 66.9 558.9 67.1 570 69.2 581.2 74.5 592.4 81.4 603.6 87.8 614.7 92 625.9 95.1 637.1 98.9 648.3 101.7 659.4 105.7 670.6 108.8M413.6 110.7 424.8 110 435.9 111.2 447.1 113.2 458.3 108.2 469.5 92.1 480.6 80.7 491.8 76.3 503 72.9 514.2 71.8 525.3 71 536.5 69.9 547.7 68.9 558.9 69.5 570 72.3 581.2 77.5 592.4 83.5 603.6 89.8 614.7 94.1 625.9 97 637.1 100.3 648.3 103.9 659.4 107.3 670.6 109.7M413.6 236.6 424.8 236.6 435.9 239.3 447.1 239.9 458.3 241 469.5 238.5 480.6 231.4 491.8 225.2 503 219.1 514.2 213.7 525.3 208.7 536.5 205.1 547.7 203.6 558.9 203.3 570 205.1 581.2 209.6 592.4 214.1 603.6 217.6 614.7 221.9 625.9 225.2 637.1 228.2 648.3 230.4 659.4 233.2 670.6 235.9M413.6 238.2 424.8 237 435.9 238.6 447.1 240.4 458.3 240.8 469.5 238.3 480.6 232.1 491.8 224.7 503 219.6 514.2 214.5 525.3 210.1 536.5 205.9 547.7 203.9 558.9 203.7 570 206.6 581.2 210.6 592.4 215 603.6 219.4 614.7 222.9 625.9 225.6 637.1 228 648.3 230.9 659.4 232.6 670.6 234.6M413.6 236.3 424.8 235.5 435.9 237.6 447.1 239.4 458.3 240.2 469.5 238.1 480.6 230 491.8 222.1 503 216.9 514.2 211.5 525.3 207.9 536.5 205.6 547.7 203.4 558.9 202.8 570 204.3 581.2 207.3 592.4 212 603.6 215.8 614.7 219.2 625.9 222.6 637.1 225.6 648.3 228.5 659.4 230.7 670.6 233.8M413.6 233 424.8 231.7 435.9 233 447.1 235.2 458.3 235.6 469.5 233.6 480.6 225.9 491.8 219.5 503 214.9 514.2 209.1 525.3 205.5 536.5 202.7 547.7 199.8 558.9 199.2 570 202.5 581.2 205.7 592.4 210.7 603.6 214.8 614.7 218.2 625.9 220.2 637.1 223.4 648.3 225.7 659.4 228.6 670.6 230.7M413.6 235.5 424.8 234.8 435.9 237 447.1 238.5 458.3 238.6 469.5 236.2 480.6 229.2 491.8 221.8 503 217.3 514.2 211.8 525.3 207.2 536.5 203.8 547.7 201.8 558.9 201.3 570 203.8 581.2 207.9 592.4 212 603.6 217 614.7 219.8 625.9 222.7 637.1 225.8 648.3 229 659.4 231.8 670.6 234.2M413.6 236.5 424.8 235.2 435.9 237.1 447.1 240 458.3 241.2 469.5 239.3 480.6 231.8 491.8 225.4 503 220 514.2 214.5 525.3 210.2 536.5 206.6 547.7 203.1 558.9 202.7 570 204.1 581.2 208.2 592.4 213.3 603.6 217.2 614.7 221.1 625.9 224.3 637.1 228.5 648.3 230.9 659.4 233.7 670.6 235.3M413.6 239 424.8 238.5 435.9 240.1 447.1 241.9 458.3 243.1 469.5 240.2 480.6 233.2 491.8 225.6 503 219.6 514.2 214.4 525.3 209.9 536.5 206.3 547.7 203.9 558.9 203.5 570 205.7 581.2 209.9 592.4 214.9 603.6 219.2 614.7 223.2 625.9 226.2 637.1 228.7 648.3 231.9 659.4 234.9 670.6 237.5M413.6 238.1 424.8 237.5 435.9 239.2 447.1 242.2 458.3 243 469.5 240.9 480.6 234.1 491.8 227.8 503 221.9 514.2 216.5 525.3 211 536.5 207.8 547.7 205.6 558.9 205.4 570 207.5 581.2 212.4 592.4 215.9 603.6 219.6 614.7 223.3 625.9 226.6 637.1 229.4 648.3 231.9 659.4 234.9 670.6 237.2M413.6 238.5 424.8 237.7 435.9 239.5 447.1 241.4 458.3 242.8 469.5 241.3 480.6 233.7 491.8 225.9 503 220.6 514.2 217.1 525.3 212.9 536.5 208.7 547.7 205.3 558.9 204.1 570 206.5 581.2 210.7 592.4 215.3 603.6 218.4 614.7 222 625.9 225.7 637.1 228.3 648.3 230.7 659.4 234.5 670.6 236.9M413.6 235.7 424.8 235.5 435.9 237.3 447.1 238.6 458.3 239.3 469.5 237.9 480.6 230.8 491.8 223.3 503 217.8 514.2 213.2 525.3 207.6 536.5 204.2 547.7 202.9 558.9 202.6 570 206.2 581.2 210.2 592.4 214.4 603.6 217 614.7 220.6 625.9 223.5 637.1 226.4 648.3 229.1 659.4 232.2 670.6 233.8M413.6 236.4 424.8 235.3 435.9 237.7 447.1 239.9 458.3 240.9 469.5 239.2 480.6 231.8 491.8 224.8 503 220 514.2 213.8 525.3 208.8 536.5 205.5 547.7 204 558.9 203.9 570 206.4 581.2 210.8 592.4 215.5 603.6 219.2 614.7 222.4 625.9 225.3 637.1 228.8 648.3 231.2 659.4 232.9 670.6 235.1M413.6 236 424.8 235.4 435.9 237.8 447.1 239.4 458.3 240.8 469.5 239.2 480.6 231.6 491.8 225 503 220.6 514.2 214.8 525.3 210 536.5 207.2 547.7 205.1 558.9 204 570 206.2 581.2 209.8 592.4 214.5 603.6 218.9 614.7 222.7 625.9 225.9 637.1 228.9 648.3 232.7 659.4 236 670.6 237.8M413.6 237.6 424.8 236.6 435.9 238.7 447.1 241 458.3 241.5 469.5 239.4 480.6 232.3 491.8 225.7 503 220.1 514.2 214.6 525.3 210.1 536.5 206.5 547.7 204.3 558.9 203.5 570 205.4 581.2 208.6 592.4 212.5 603.6 216.9 614.7 221.2 625.9 224.1 637.1 227.6 648.3 229.6 659.4 233.1 670.6 235.5M413.6 235 424.8 233.7 435.9 235.2 447.1 237.3 458.3 237.7 469.5 236 480.6 228.9 491.8 220.7 503 215.8 514.2 210.6 525.3 207 536.5 202.8 547.7 201.2 558.9 201.2 570 203.6 581.2 208 592.4 213 603.6 216.9 614.7 220.5 625.9 223.4 637.1 226.8 648.3 229.7 659.4 232.2 670.6 234.2M413.6 236.7 424.8 235.9 435.9 237.2 447.1 238.7 458.3 239.4 469.5 236.9 480.6 230.3 491.8 222.6 503 217.5 514.2 212.8 525.3 208.3 536.5 205.5 547.7 202.4 558.9 202 570 205.1 581.2 209.6 592.4 214.2 603.6 218.4 614.7 221.6 625.9 224.2 637.1 226.8 648.3 229.4 659.4 232.6 670.6 234.3M413.6 237.3 424.8 236.4 435.9 238.1 447.1 239.9 458.3 239.9 469.5 237.5 480.6 230.2 491.8 223.7 503 219.4 514.2 214.2 525.3 209.9 536.5 206.5 547.7 204.9 558.9 204.7 570 206.6 581.2 209.9 592.4 214.3 603.6 218.1 614.7 221.4 625.9 224.4 637.1 226.8 648.3 229.7 659.4 232.2 670.6 235M413.6 100.5 424.8 99.7 435.9 101.4 447.1 104.5 458.3 97.9 469.5 85.5 480.6 76.6 491.8 72.1 503 71 514.2 69.9 525.3 68.7 536.5 67.6 547.7 66.4 558.9 67 570 67.7 581.2 72.6 592.4 79.2 603.6 85.5 614.7 89.9 625.9 93 637.1 95.2 648.3 97.4 659.4 99 670.6 100.5M413.6 101.9 424.8 100.5 435.9 102.3 447.1 105.4 458.3 99.2 469.5 86.3 480.6 75.2 491.8 70.8 503 70.1 514.2 69.5 525.3 68.4 536.5 67.4 547.7 66.4 558.9 67.5 570 68.6 581.2 73.9 592.4 80.1 603.6 85.9 614.7 90.3 625.9 93.9 637.1 96.1 648.3 98.3 659.4 99.9 670.6 101.4M413.6 240.5 424.8 239.5 435.9 241 447.1 243 458.3 244.1 469.5 243 480.6 235.8 491.8 228.2 503 224 514.2 217.9 525.3 213.9 536.5 210.1 547.7 208.2 558.9 207.8 570 209.6 581.2 213.7 592.4 217.4 603.6 221.6 614.7 225 625.9 228.5 637.1 231.8 648.3 234.7 659.4 237.1 670.6 238.7M413.6 240.3 424.8 239.9 435.9 241.9 447.1 244 458.3 244.5 469.5 242.6 480.6 235.8 491.8 228.7 503 222.9 514.2 217.3 525.3 213.1 536.5 209.2 547.7 206.8 558.9 206.6 570 208.8 581.2 212.1 592.4 217.1 603.6 220.7 614.7 224.4 625.9 227.4 637.1 230.4 648.3 233.1 659.4 235.9 670.6 238.2"/>
<path class="k" d="M413.6 136 424.8 137.4 435.9 140.7 447.1 140.8 458.3 134.8 469.5 122.1 480.6 111.3 491.8 106.8 503 102.5 514.2 98.8 525.3 95.6 536.5 94.5 547.7 94.3 558.9 96.8 570 102.3 581.2 109.5 592.4 114.3 603.6 117.3 614.7 119.4 625.9 120.1 637.1 122.2 648.3 124.1 659.4 125.1 670.6 125M413.6 137.3 424.8 139.8 435.9 142.8 447.1 143.3 458.3 136.4 469.5 122.2 480.6 111.6 491.8 107.1 503 102.8 514.2 99.9 525.3 97.6 536.5 95.7 547.7 96.3 558.9 99 570 106 581.2 113.8 592.4 119.6 603.6 121.7 614.7 124.5 625.9 126.8 637.1 129.4 648.3 130.7 659.4 133.3 670.6 133.9M413.6 142.8 424.8 144.1 435.9 146.2 447.1 147.3 458.3 142.5 469.5 131 480.6 119.2 491.8 111.4 503 105.9 514.2 103.2 525.3 100.2 536.5 98.3 547.7 97.7 558.9 100.4 570 106.3 581.2 112.6 592.4 118.8 603.6 123.4 614.7 125.4 625.9 127.7 637.1 130.1 648.3 133.4 659.4 136 670.6 135.9M413.6 147.9 424.8 147.2 435.9 149.4 447.1 150.1 458.3 148.5 469.5 140.2 480.6 126.9 491.8 117.9 503 112.8 514.2 107.4 525.3 104.8 536.5 102.5 547.7 101.9 558.9 102 570 106 581.2 113.6 592.4 121 603.6 126.7 614.7 130.4 625.9 133.9 637.1 137 648.3 138.2 659.4 140.7 670.6 142.3M413.6 149.8 424.8 151 435.9 153.2 447.1 154.8 458.3 151.7 469.5 141 480.6 128.4 491.8 120.7 503 116.3 514.2 112.9 525.3 110 536.5 107.1 547.7 105.1 558.9 106.4 570 111.8 581.2 119 592.4 125 603.6 129.1 614.7 131.9 625.9 134.4 637.1 137.1 648.3 140.1 659.4 143.7 670.6 144M413.6 136.9 424.8 137 435.9 139 447.1 140.8 458.3 139.1 469.5 129.9 480.6 118.4 491.8 109.2 503 105.7 514.2 103.1 525.3 100.4 536.5 97.1 547.7 96.4 558.9 97.2 570 102.2 581.2 108 592.4 114.7 603.6 118.6 614.7 120.5 625.9 123.1 637.1 124.8 648.3 127.1 659.4 129.5 670.6 130.6M413.6 158.3 424.8 157.9 435.9 160.2 447.1 162.2 458.3 161.5 469.5 153.5 480.6 142.3 491.8 134.6 503 130.1 514.2 126.7 525.3 124.8 536.5 122.8 547.7 121.6 558.9 122.5 570 127.3 581.2 133.6 592.4 139.1 603.6 142.5 614.7 145.6 625.9 148.8 637.1 150 648.3 152.2 659.4 154.8 670.6 155.9M413.6 168.4 424.8 168.2 435.9 167.6 447.1 170.2 458.3 171.5 469.5 170.4 480.6 162.1 491.8 150.2 503 141.1 514.2 136.6 525.3 133 536.5 130.8 547.7 128.4 558.9 125.6 570 124.1 581.2 126.2 592.4 132.1 603.6 137.9 614.7 140.7 625.9 142.7 637.1 144 648.3 144.1 659.4 144.5 670.6 145.2M413.6 172 424.8 172.6 435.9 173.9 447.1 175.4 458.3 170.6 469.5 159.7 480.6 147.4 491.8 141 503 137.6 514.2 134.6 525.3 130.8 536.5 128.9 547.7 128.9 558.9 129.9 570 135.4 581.2 141.7 592.4 146.6 603.6 149.9 614.7 152.1 625.9 154.3 637.1 157.6 648.3 158.9 659.4 160.5 670.6 160.6M413.6 176.5 424.8 174.3 435.9 176.8 447.1 178.5 458.3 177.6 469.5 171.5 480.6 158 491.8 148.7 503 143.6 514.2 140.9 525.3 136.4 536.5 133.6 547.7 132.3 558.9 132 570 134.6 581.2 141.9 592.4 147.9 603.6 153.3 614.7 155.9 625.9 158.3 637.1 159.3 648.3 161.3 659.4 162.5 670.6 164.4M413.6 170.4 424.8 172.7 435.9 175.4 447.1 174.8 458.3 171 469.5 160 480.6 152.9 491.8 148.9 503 144.9 514.2 142.5 525.3 140.6 536.5 139.1 547.7 138.6 558.9 141.4 570 146.4 581.2 151.8 592.4 156.3 603.6 159.2 614.7 160.5 625.9 162 637.1 163.8 648.3 166.4 659.4 168.6 670.6 169.1M413.6 181.9 424.8 181.2 435.9 181 447.1 183.2 458.3 184.5 469.5 181.7 480.6 174.2 491.8 164.9 503 156.9 514.2 154.6 525.3 151.4 536.5 149.5 547.7 147.1 558.9 146.1 570 144.9 581.2 147.3 592.4 152.3 603.6 155.2 614.7 157.8 625.9 159.4 637.1 160.5 648.3 161.7 659.4 162.1 670.6 161.9M413.6 181.5 424.8 180.3 435.9 182 447.1 183.6 458.3 184.4 469.5 178.8 480.6 168.7 491.8 162.5 503 158.6 514.2 156.4 525.3 153.6 536.5 151.5 547.7 150.4 558.9 150.2 570 151.7 581.2 158.5 592.4 165.2 603.6 169.2 614.7 172 625.9 173.2 637.1 175.1 648.3 177.3 659.4 179.9 670.6 183.4M413.6 188.7 424.8 188.3 435.9 187.2 447.1 188.9 458.3 190 469.5 188.6 480.6 183.4 491.8 174.1 503 168.1 514.2 164 525.3 162.6 536.5 159.7 547.7 157.6 558.9 157.7 570 156.3 581.2 156.3 592.4 160.3 603.6 163.7 614.7 165.4 625.9 165.3 637.1 165.6 648.3 166.4 659.4 167.4 670.6 168.3M413.6 193.1 424.8 193.5 435.9 194.3 447.1 195.5 458.3 196.6 469.5 193 480.6 183.9 491.8 174.6 503 170.6 514.2 167.3 525.3 164.6 536.5 162.4 547.7 161.7 558.9 160.7 570 162.2 581.2 166.3 592.4 171.9 603.6 174.9 614.7 177.9 625.9 179 637.1 181.7 648.3 183.9 659.4 184.9 670.6 187.2M413.6 197.9 424.8 197.6 435.9 199.8 447.1 201.2 458.3 198.9 469.5 190.6 480.6 181.5 491.8 175.4 503 172.7 514.2 170.6 525.3 169.2 536.5 167.7 547.7 167.1 558.9 168 570 170.9 581.2 175.2 592.4 178.5 603.6 179.8 614.7 181.2 625.9 182.4 637.1 182.4 648.3 182.4 659.4 183.6 670.6 183.5M413.6 205.9 424.8 205.7 435.9 205.6 447.1 206 458.3 205.5 469.5 202.7 480.6 196 491.8 188 503 184.4 514.2 181.6 525.3 179.9 536.5 177.8 547.7 175.4 558.9 173.8 570 174.6 581.2 177.8 592.4 183.4 603.6 187.3 614.7 188.6 625.9 189.7 637.1 190.9 648.3 192.2 659.4 192.8 670.6 194.7M413.6 206.4 424.8 205.2 435.9 207.8 447.1 208.4 458.3 206.1 469.5 197.8 480.6 190.2 491.8 185.8 503 183.2 514.2 180.4 525.3 179.2 536.5 178.6 547.7 177.9 558.9 179 570 182.2 581.2 187.4 592.4 192 603.6 194.6 614.7 196.6 625.9 198.1 637.1 200.1 648.3 203.1 659.4 204.8 670.6 205.4M413.6 199.7 424.8 198.7 435.9 199.6 447.1 200.1 458.3 200.7 469.5 197.5 480.6 192.5 491.8 188.6 503 186.1 514.2 182.1 525.3 180.9 536.5 179.8 547.7 178.8 558.9 178.9 570 181.2 581.2 185.6 592.4 189.4 603.6 193.3 614.7 197 625.9 199.9 637.1 202.7 648.3 206.4 659.4 208.6 670.6 211.9M413.6 217.6 424.8 217.1 435.9 216.6 447.1 217.9 458.3 219.2 469.5 217.8 480.6 210.5 491.8 200.3 503 194.3 514.2 191.1 525.3 188.3 536.5 186.1 547.7 184 558.9 183.4 570 184.6 581.2 189.1 592.4 196.4 603.6 201.3 614.7 204.9 625.9 208.5 637.1 210.8 648.3 213.4 659.4 216.9 670.6 218.7"/>
<path class="r" d="M413.6 189.3 424.8 183.1 435.9 184.4 447.1 185.8 458.3 186.6 469.5 181.8 480.6 165.8 491.8 150.2 503 145.8 514.2 143.6 525.3 142.7 536.5 143.1 547.7 143.6 558.9 144.5 570 150.2 581.2 160.9 592.4 165.3 603.6 167.1 614.7 168 625.9 168.4 637.1 168.9 648.3 169.3 659.4 169.8 670.6 170.2M413.6 186.6 424.8 180.4 435.9 181.8 447.1 183.1 458.3 184 469.5 178.7 480.6 162.7 491.8 152 503 147.6 514.2 145.4 525.3 144.5 536.5 144.5 547.7 145.8 558.9 147.6 570 152.9 581.2 162.7 592.4 167.1 603.6 169.3 614.7 170.7 625.9 172 637.1 172.9 648.3 173.8 659.4 174.7 670.6 175.5M413.6 188.4 424.8 184 435.9 185.3 447.1 186.6 458.3 188.4 469.5 185.8 480.6 174.2 491.8 161.8 503 159.1 514.2 156.5 525.3 153.8 536.5 152.5 547.7 152.9 558.9 154.7 570 158.2 581.2 166.2 592.4 170.7 603.6 174.2 614.7 176.9 625.9 179.1 637.1 180.9 648.3 182.2 659.4 183.5 670.6 184.4M413.6 184.9 424.8 181.3 435.9 183.1 447.1 184.9 458.3 186.2 469.5 183.5 480.6 170.7 491.8 163.6 503 162.2 514.2 160 525.3 157.4 536.5 155.6 547.7 155.1 558.9 156 570 159.1 581.2 168 592.4 174.2 603.6 178.2 614.7 180.9 625.9 183.1 637.1 185.3 648.3 187.1 659.4 188.9 670.6 190.2"/>
</g>
<text class="t" text-anchor="middle" x="458.3" y="284.2">5</text><text class="t" text-anchor="middle" x="514.2" y="284.2">10</text><text class="t" text-anchor="middle" x="570" y="284.2">15</text><text class="t" text-anchor="middle" x="625.9" y="284.2">20</text>
<text class="t" text-anchor="end" x="406.1" y="267.6">0</text><text class="t" text-anchor="end" x="406.1" y="223.2">10</text><text class="t" text-anchor="end" x="406.1" y="178.8">20</text><text class="t" text-anchor="end" x="406.1" y="134.5">30</text><text class="t" text-anchor="end" x="406.1" y="90.1">40</text><text class="t" text-anchor="end" x="406.1" y="45.7">50</text>
<text class="l" text-anchor="middle" x="542.1" y="306">Hour</text>
<text class="b" text-anchor="middle" x="542.1" y="32.8">Temperature</text>
<text class="l" text-anchor="middle" transform="translate(380 150.2) rotate(-90)">Temperature ° C</text>
<text class="p" x="386" y="11.7">b</text>
</g>
<g id="panel-c">
<clipPath id="c2"><rect x="68.3" y="346.6" width="257.6" height="223.1"/></clipPath>
<rect class="a" x="69.3" y="346.6" width="256.2" height="222.1"/>
<path class="a" d="M113.9 568.7v-2.6 M113.9 346.6v2.6 M169.6 568.7v-2.6 M169.6 346.6v2.6 M225.2 568.7v-2.6 M225.2 346.6v2.6 M280.9 568.7v-2.6 M280.9 346.6v2.6 M69.3 568.7h2.6 M325.5 568.7h-2.6 M69.3 524.3h2.6 M325.5 524.3h-2.6 M69.3 479.9h2.6 M325.5 479.9h-2.6 M69.3 435.4h2.6 M325.5 435.4h-2.6 M69.3 391h2.6 M325.5 391h-2.6 M69.3 346.6h2.6 M325.5 346.6h-2.6"/>
<g clip-path="url(#c2)">
<polygon points="69.3,568.7 80.4,568.7 91.6,567.6 102.7,558.7 113.9,444.3 125,395.5 136.1,371 147.3,358.1 158.4,350.8 169.6,348.2 180.7,347.5 191.8,349.9 203,355.5 214.1,364.4 225.2,383.2 236.4,417 247.5,479.9 258.7,568.7 269.8,568.7 280.9,568.7 292.1,568.7 303.2,568.7 314.4,568.7 325.5,568.7 325.5,568.7 314.4,568.7 303.2,568.7 292.1,568.7 280.9,568.7 269.8,568.7 258.7,568.7 247.5,568.7 236.4,568.7 225.2,568.7 214.1,568.7 203,568.7 191.8,568.7 180.7,568.7 169.6,568.7 158.4,568.7 147.3,568.7 136.1,568.7 125,568.7 113.9,568.7 102.7,568.7 91.6,568.7 80.4,568.7 69.3,568.7" fill="#c0c0c0" stroke="#c0c0c0" stroke-width="1.2" stroke-linejoin="round"/>
<path class="k" d="M69.3 568.7 80.4 568.7 91.6 567.6 102.7 559.8 113.9 451.9 125 404.3 136.1 379.9 147.3 367.7 158.4 361 169.6 357.7 180.7 357.7 191.8 358.8 203 362.1 214.1 368.9 225.2 387 236.4 424.4 247.5 484.3 258.7 568.7 269.8 568.7 280.9 568.7 292.1 568.7 303.2 568.7 314.4 568.7 325.5 568.7M69.3 568.7 80.4 568.7 91.6 568.7 102.7 568.7 113.9 454.2 125 406.5 136.1 381.2 147.3 368.4 158.4 361.5 169.6 358.1 180.7 358.1 191.8 359.3 203 362.8 214.1 370.1 225.2 389.4 236.4 428.6 247.5 490.7 258.7 568.7 269.8 568.7 280.9 568.7 292.1 568.7 303.2 568.7 314.4 568.7 325.5 568.7M69.3 568.7 80.4 568.7 91.6 568.7 102.7 568.7 113.9 456.5 125 408.7 136.1 382.5 147.3 369.2 158.4 362 169.6 358.4 180.7 361.9 191.8 367.7 203 374.4 214.1 392.3 225.2 434.6 236.4 502.8 247.5 568.7 258.7 568.7 269.8 568.7 280.9 568.7 292.1 568.7 303.2 568.7 314.4 568.7 325.5 568.7M69.3 568.7 80.4 568.7 91.6 568.7 102.7 568.7 113.9 460.1 125 412 136.1 384.4 147.3 370.3 158.4 362.7 169.6 358.9 180.7 358.7 191.8 359.8 203 363.5 214.1 371.3 225.2 391.8 236.4 433 247.5 497.1 258.7 568.7 269.8 568.7 280.9 568.7 292.1 568.7 303.2 568.7 314.4 568.7 325.5 568.7M69.3 568.7 80.4 568.7 91.6 568.7 102.7 568.7 113.9 463.6 125 415.2 136.1 386.4 147.3 371.4 158.4 363.4 169.6 359.5 180.7 365.1 191.8 374.3 203 384.5 214.1 413.9 225.2 484 236.4 559.7 247.5 568.7 258.7 568.7 269.8 568.7 280.9 568.7 292.1 568.7 303.2 568.7 314.4 568.7 325.5 568.7M69.3 568.7 80.4 568.7 91.6 568.7 102.7 568.7 113.9 468.2 125 419.6 136.1 388.9 147.3 372.8 158.4 364.3 169.6 360.2 180.7 359.6 191.8 360.5 203 364.4 214.1 372.9 225.2 395.2 236.4 438.9 247.5 505.6 258.7 568.7 269.8 568.7 280.9 568.7 292.1 568.7 303.2 568.7 314.4 568.7 325.5 568.7M69.3 568.7 80.4 568.7 91.6 568.7 102.7 568.7 113.9 474.1 125 425 136.1 392.2 147.3 374.7 158.4 365.5 169.6 361.1 180.7 361.9 191.8 364.9 203 370.5 214.1 384.4 225.2 418.6 236.4 478.3 247.5 553.1 258.7 568.7 269.8 568.7 280.9 568.7 292.1 568.7 303.2 568.7 314.4 568.7 325.5 568.7M69.3 568.7 80.4 568.7 91.6 568.7 102.7 568.7 113.9 481.1 125 431.6 136.1 396 147.3 376.9 158.4 366.9 169.6 362.1 180.7 367.4 191.8 377.2 203 389.3 214.1 430.3 225.2 509.8 236.4 568.7 247.5 568.7 258.7 568.7 269.8 568.7 280.9 568.7 292.1 568.7 303.2 568.7 314.4 568.7 325.5 568.7M69.3 568.7 80.4 568.7 91.6 568.7 102.7 568.7 113.9 489.3 125 439.2 136.1 400.5 147.3 379.4 158.4 368.5 169.6 363.4 180.7 361.4 191.8 361.4 203 365.6 214.1 375.1 225.2 399.5 236.4 446.4 247.5 516 258.7 568.7 269.8 568.7 280.9 568.7 292.1 568.7 303.2 568.7 314.4 568.7 325.5 568.7M69.3 568.7 80.4 568.7 91.6 568.7 102.7 568.7 113.9 498.6 125 447.9 136.1 405.7 147.3 382.4 158.4 370.4 169.6 364.8 180.7 365.6 191.8 369.9 203 377.7 214.1 399.1 225.2 448.4 236.4 523.3 247.5 568.7 258.7 568.7 269.8 568.7 280.9 568.7 292.1 568.7 303.2 568.7 314.4 568.7 325.5 568.7M69.3 568.7 80.4 568.7 91.6 568.7 102.7 568.7 113.9 510.3 125 458.8 136.1 412.1 147.3 386 158.4 372.7 169.6 366.6 180.7 363.3 191.8 362.6 203 367.3 214.1 378.2 225.2 405.9 236.4 457.4 247.5 530.1 258.7 568.7 269.8 568.7 280.9 568.7 292.1 568.7 303.2 568.7 314.4 568.7 325.5 568.7M69.3 568.7 80.4 568.7 91.6 568.7 102.7 568.7 113.9 524.3 125 471.8 136.1 419.8 147.3 390.4 158.4 375.5 169.6 368.7 180.7 366 191.8 366.7 203 373.1 214.1 389.5 225.2 429.1 236.4 494.7 247.5 565.6 258.7 568.7 269.8 568.7 280.9 568.7 292.1 568.7 303.2 568.7 314.4 568.7 325.5 568.7M69.3 568.7 80.4 568.7 91.6 568.7 102.7 568.7 113.9 540.7 125 487.1 136.1 428.9 147.3 395.6 158.4 378.8 169.6 371.2 180.7 365.8 191.8 363.7 203 368.8 214.1 381 225.2 411.6 236.4 467 247.5 541.4 258.7 568.7 269.8 568.7 280.9 568.7 292.1 568.7 303.2 568.7 314.4 568.7 325.5 568.7M69.3 568.7 80.4 568.7 91.6 568.7 102.7 568.7 113.9 557 125 502.3 136.1 437.9 147.3 400.7 158.4 382 169.6 373.7 180.7 370.5 191.8 372.3 203 381.5 214.1 407.2 225.2 466.6 236.4 546.4 247.5 568.7 258.7 568.7 269.8 568.7 280.9 568.7 292.1 568.7 303.2 568.7 314.4 568.7 325.5 568.7M69.3 568.7 80.4 568.7 91.6 568.7 102.7 568.7 113.9 568.7 125 513.2 136.1 444.3 147.3 404.3 158.4 384.4 169.6 375.5 180.7 372.9 191.8 376.2 203 387.7 214.1 424.3 225.2 501.3 236.4 567.5 247.5 568.7 258.7 568.7 269.8 568.7 280.9 568.7 292.1 568.7 303.2 568.7 314.4 568.7 325.5 568.7M69.3 568.7 80.4 568.7 91.6 568.7 102.7 568.7 113.9 568.7 125 546.5 136.1 493.2 147.3 430.6 158.4 434.6 169.6 524.3 180.7 564.3 191.8 568.7 203 568.7 214.1 568.7 225.2 568.7 236.4 568.7 247.5 568.7 258.7 568.7 269.8 568.7 280.9 568.7 292.1 568.7 303.2 568.7 314.4 568.7 325.5 568.7M69.3 568.7 80.4 568.7 91.6 568.7 102.7 568.7 113.9 568.7 125 550.9 136.1 493.2 147.3 469.4 158.4 459.4 169.6 482.1 180.7 511.8 191.8 529.4 203 542 214.1 551.8 225.2 562 236.4 568.7 247.5 568.7 258.7 568.7 269.8 568.7 280.9 568.7 292.1 568.7 303.2 568.7 314.4 568.7 325.5 568.7M69.3 568.7 80.4 568.7 91.6 568.7 102.7 568.7 113.9 568.7 125 555.4 136.1 502.1 147.3 435.4 158.4 395.5 169.6 377.7 180.7 373.3 191.8 391 203 528.7 214.1 514.3 225.2 559.8 236.4 568.7 247.5 568.7 258.7 568.7 269.8 568.7 280.9 568.7 292.1 568.7 303.2 568.7 314.4 568.7 325.5 568.7"/>
<path class="r" d="M69.3 568.7 80.4 568.7 91.6 568.7 102.7 568.7 113.9 568.7 125 544.3 136.1 502.1 147.3 402.1 158.4 382.1 169.6 411 180.7 559.8 191.8 557.6 203 502.1 214.1 444.3 225.2 534.3 236.4 564.3 247.5 568.7 258.7 568.7 269.8 568.7 280.9 568.7 292.1 568.7 303.2 568.7 314.4 568.7 325.5 568.7M69.3 568.7 80.4 568.7 91.6 568.7 102.7 568.7 113.9 568.7 125 555.4 136.1 513.2 147.3 462.1 158.4 413.2 169.6 378.8 180.7 376.4 191.8 386.6 203 546.5 214.1 564.3 225.2 568.7 236.4 568.7 247.5 568.7 258.7 568.7 269.8 568.7 280.9 568.7 292.1 568.7 303.2 568.7 314.4 568.7 325.5 568.7M69.3 568.7 80.4 568.7 91.6 568.7 102.7 568.7 113.9 568.7 125 562 136.1 568.7 147.3 555.4 158.4 448.8 169.6 508.7 180.7 477.6 191.8 445.4 203 564.3 214.1 544.3 225.2 562 236.4 568.7 247.5 568.7 258.7 568.7 269.8 568.7 280.9 568.7 292.1 568.7 303.2 568.7 314.4 568.7 325.5 568.7M69.3 568.7 80.4 568.7 91.6 568.7 102.7 568.7 113.9 568.7 125 554.3 136.1 502.1 147.3 505.6 158.4 487.6 169.6 485.4 180.7 516.5 191.8 540.9 203 562 214.1 568.7 225.2 555.4 236.4 568.7 247.5 568.7 258.7 568.7 269.8 568.7 280.9 568.7 292.1 568.7 303.2 568.7 314.4 568.7 325.5 568.7"/>
</g>
<text class="t" text-anchor="middle" x="113.9" y="591.7">5</text><text class="t" text-anchor="middle" x="169.6" y="591.7">10</text><text class="t" text-anchor="middle" x="225.2" y="591.7">15</text><text class="t" text-anchor="middle" x="280.9" y="591.7">20</text>
<text class="t" text-anchor="end" x="61.8" y="575.1">0</text><text class="t" text-anchor="end" x="61.8" y="530.7">200</text><text class="t" text-anchor="end" x="61.8" y="486.3">400</text><text class="t" text-anchor="end" x="61.8" y="441.8">600</text><text class="t" text-anchor="end" x="61.8" y="397.4">800</text><text class="t" text-anchor="end" x="61.8" y="353">1000</text>
<text class="l" text-anchor="middle" x="197.4" y="613.5">Hour</text>
<text class="b" text-anchor="middle" x="195.8" y="340.1">Direct Normal Irradiance (DNI)</text>
<text class="l" text-anchor="middle" transform="translate(17.5 458.3) rotate(-90)">DNI [W/m<tspan dy="-7" style="font-size:14px">2</tspan><tspan dy="7">]</tspan></text>
<text class="p" x="40.3" y="316.7">c</text>
</g>
<g id="panel-d">
<clipPath id="c3"><rect x="412.6" y="346.6" width="258.4" height="223.1"/></clipPath>
<rect class="a" x="413.6" y="346.6" width="257" height="222.1"/>
<path class="a" d="M458.3 568.7v-2.6 M458.3 346.6v2.6 M514.2 568.7v-2.6 M514.2 346.6v2.6 M570 568.7v-2.6 M570 346.6v2.6 M625.9 568.7v-2.6 M625.9 346.6v2.6 M413.6 568.7h2.6 M670.6 568.7h-2.6 M413.6 531.7h2.6 M670.6 531.7h-2.6 M413.6 494.7h2.6 M670.6 494.7h-2.6 M413.6 457.7h2.6 M670.6 457.7h-2.6 M413.6 420.6h2.6 M670.6 420.6h-2.6 M413.6 383.6h2.6 M670.6 383.6h-2.6 M413.6 346.6h2.6 M670.6 346.6h-2.6"/>
<g clip-path="url(#c3)">
<polygon points="413.6,568.7 424.8,568.7 435.9,568.7 447.1,566.8 458.3,524.3 469.5,481.7 480.6,443.8 491.8,406.2 503,378.1 514.2,364.2 525.3,362.9 536.5,373.4 547.7,395.6 558.9,428 570,465.1 581.2,507.6 592.4,548.3 603.6,567.8 614.7,568.7 625.9,568.7 637.1,568.7 648.3,568.7 659.4,568.7 670.6,568.7 670.6,568.7 659.4,568.7 648.3,568.7 637.1,568.7 625.9,568.7 614.7,568.7 603.6,568.7 592.4,568.7 581.2,568.7 570,564.1 558.9,544.6 547.7,518.7 536.5,498.4 525.3,494.7 514.2,503.9 503,528 491.8,553.9 480.6,566.8 469.5,568.7 458.3,568.7 447.1,568.7 435.9,568.7 424.8,568.7 413.6,568.7" fill="#c0c0c0" stroke="#c0c0c0" stroke-width="1.2" stroke-linejoin="round"/>
<path class="g" d="M413.6 568.7 424.8 568.7 435.9 568.7 447.1 568.7 458.3 567.9 469.5 566.2 480.6 562.9 491.8 555.6 503 547.8 514.2 539.2 525.3 538.8 536.5 518.2 547.7 516.7 558.9 537.3 570 559.7 581.2 565 592.4 568.7 603.6 568.7 614.7 568.7 625.9 568.7 637.1 568.7 648.3 568.7 659.4 568.7 670.6 568.7M413.6 568.7 424.8 568.7 435.9 568.7 447.1 568.7 458.3 566.9 469.5 565 480.6 562.9 491.8 548 503 525.8 514.2 521.5 525.3 512.4 536.5 537.8 547.7 529.9 558.9 545.3 570 559.7 581.2 565 592.4 568.7 603.6 568.7 614.7 568.7 625.9 568.7 637.1 568.7 648.3 568.7 659.4 568.7 670.6 568.7M413.6 568.7 424.8 568.7 435.9 568.7 447.1 568.7 458.3 566.2 469.5 565 480.6 562.9 491.8 556.1 503 548.1 514.2 538.6 525.3 540 536.5 533.4 547.7 541.8 558.9 554.5 570 561.3 581.2 565 592.4 568.7 603.6 568.7 614.7 568.7 625.9 568.7 637.1 568.7 648.3 568.7 659.4 568.7 670.6 568.7M413.6 568.7 424.8 568.7 435.9 568.7 447.1 568.7 458.3 566.9 469.5 565 480.6 562.9 491.8 548 503 518.2 514.2 490.5 525.3 505.8 536.5 505.9 547.7 508.6 558.9 537.3 570 559.7 581.2 565 592.4 568.7 603.6 568.7 614.7 568.7 625.9 568.7 637.1 568.7 648.3 568.7 659.4 568.7 670.6 568.7M413.6 568.7 424.8 568.7 435.9 568.7 447.1 568.7 458.3 568.5 469.5 567.9 480.6 566.7 491.8 563.9 503 553.6 514.2 532.6 525.3 532.4 536.5 523.4 547.7 507.5 558.9 537.3 570 559.7 581.2 565 592.4 568.7 603.6 568.7 614.7 568.7 625.9 568.7 637.1 568.7 648.3 568.7 659.4 568.7 670.6 568.7M413.6 568.7 424.8 568.7 435.9 568.7 447.1 568.7 458.3 566.6 469.5 565 480.6 562.9 491.8 548 503 518.2 514.2 493.9 525.3 504.4 536.5 484.1 547.7 526.1 558.9 537.3 570 559.7 581.2 565 592.4 568.7 603.6 568.7 614.7 568.7 625.9 568.7 637.1 568.7 648.3 568.7 659.4 568.7 670.6 568.7M413.6 568.7 424.8 568.7 435.9 568.7 447.1 568.7 458.3 567.5 469.5 566.1 480.6 563.5 491.8 565.5 503 557.5 514.2 545.9 525.3 543.6 536.5 536.1 547.7 534.5 558.9 543.1 570 559.7 581.2 565 592.4 568.7 603.6 568.7 614.7 568.7 625.9 568.7 637.1 568.7 648.3 568.7 659.4 568.7 670.6 568.7M413.6 568.7 424.8 568.7 435.9 568.7 447.1 568.7 458.3 567.6 469.5 565 480.6 562.9 491.8 548 503 518.2 514.2 514.1 525.3 511.5 536.5 493.6 547.7 522 558.9 538 570 559.7 581.2 565 592.4 568.7 603.6 568.7 614.7 568.7 625.9 568.7 637.1 568.7 648.3 568.7 659.4 568.7 670.6 568.7M413.6 568.7 424.8 568.7 435.9 568.7 447.1 568.7 458.3 566.6 469.5 565 480.6 562.9 491.8 548 503 546.5 514.2 535.7 525.3 537.6 536.5 543.9 547.7 552.4 558.9 559.6 570 565.3 581.2 567.5 592.4 568.7 603.6 568.7 614.7 568.7 625.9 568.7 637.1 568.7 648.3 568.7 659.4 568.7 670.6 568.7M413.6 568.7 424.8 568.7 435.9 568.7 447.1 568.7 458.3 568.5 469.5 568.1 480.6 566.9 491.8 564.8 503 558.8 514.2 552.5 525.3 533.2 536.5 516.6 547.7 521.5 558.9 537.3 570 559.7 581.2 565 592.4 568.7 603.6 568.7 614.7 568.7 625.9 568.7 637.1 568.7 648.3 568.7 659.4 568.7 670.6 568.7M413.6 568.7 424.8 568.7 435.9 568.7 447.1 568.7 458.3 565 469.5 565 480.6 562.9 491.8 548 503 518.2 514.2 506.5 525.3 481 536.5 506.3 547.7 520 558.9 537.3 570 559.7 581.2 565 592.4 568.7 603.6 568.7 614.7 568.7 625.9 568.7 637.1 568.7 648.3 568.7 659.4 568.7 670.6 568.7M413.6 568.7 424.8 568.7 435.9 568.7 447.1 568.7 458.3 565 469.5 565 480.6 562.9 491.8 548 503 518.2 514.2 490.5 525.3 479.9 536.5 521.4 547.7 507.5 558.9 537.3 570 559.7 581.2 565 592.4 568.7 603.6 568.7 614.7 568.7 625.9 568.7 637.1 568.7 648.3 568.7 659.4 568.7 670.6 568.7M413.6 568.7 424.8 568.7 435.9 568.7 447.1 568.7 458.3 566.1 469.5 565 480.6 562.9 491.8 548 503 518.2 514.2 501 525.3 481.9 536.5 485.7 547.7 522.5 558.9 537.3 570 559.7 581.2 565 592.4 568.7 603.6 568.7 614.7 568.7 625.9 568.7 637.1 568.7 648.3 568.7 659.4 568.7 670.6 568.7M413.6 568.7 424.8 568.7 435.9 568.7 447.1 568.7 458.3 567.9 469.5 565.1 480.6 562.9 491.8 551.1 503 524.5 514.2 518.6 525.3 544.7 536.5 523.9 547.7 518.9 558.9 543 570 559.7 581.2 565 592.4 568.7 603.6 568.7 614.7 568.7 625.9 568.7 637.1 568.7 648.3 568.7 659.4 568.7 670.6 568.7M413.6 568.7 424.8 568.7 435.9 568.7 447.1 568.7 458.3 565 469.5 565 480.6 562.9 491.8 549.6 503 523.8 514.2 529.8 525.3 518.4 536.5 532 547.7 548.8 558.9 559.1 570 565.9 581.2 567.8 592.4 568.7 603.6 568.7 614.7 568.7 625.9 568.7 637.1 568.7 648.3 568.7 659.4 568.7 670.6 568.7M413.6 568.7 424.8 568.7 435.9 568.7 447.1 568.7 458.3 565 469.5 565 480.6 562.9 491.8 548 503 518.2 514.2 519.5 525.3 495 536.5 509 547.7 522.2 558.9 550 570 560.8 581.2 565.4 592.4 568.7 603.6 568.7 614.7 568.7 625.9 568.7 637.1 568.7 648.3 568.7 659.4 568.7 670.6 568.7M413.6 568.7 424.8 568.7 435.9 568.7 447.1 568.7 458.3 565 469.5 565 480.6 562.9 491.8 548 503 518.2 514.2 490.5 525.3 512 536.5 522 547.7 526.5 558.9 542.1 570 559.7 581.2 565 592.4 568.7 603.6 568.7 614.7 568.7 625.9 568.7 637.1 568.7 648.3 568.7 659.4 568.7 670.6 568.7M413.6 568.7 424.8 568.7 435.9 568.7 447.1 568.7 458.3 565 469.5 565 480.6 562.9 491.8 548 503 536.7 514.2 547.4 525.3 550.1 536.5 538.1 547.7 543.3 558.9 555.2 570 563.1 581.2 565.4 592.4 568.7 603.6 568.7 614.7 568.7 625.9 568.7 637.1 568.7 648.3 568.7 659.4 568.7 670.6 568.7M413.6 568.7 424.8 568.7 435.9 568.7 447.1 568.7 458.3 566.8 469.5 565 480.6 562.9 491.8 548 503 525 514.2 499.9 525.3 498.1 536.5 484.1 547.7 538.1 558.9 537.3 570 559.7 581.2 565 592.4 568.7 603.6 568.7 614.7 568.7 625.9 568.7 637.1 568.7 648.3 568.7 659.4 568.7 670.6 568.7M413.6 568.7 424.8 568.7 435.9 568.7 447.1 568.7 458.3 566.7 469.5 565 480.6 562.9 491.8 548 503 518.2 514.2 528.7 525.3 519.8 536.5 542.4 547.7 549.2 558.9 562.5 570 566.9 581.2 568.3 592.4 568.7 603.6 568.7 614.7 568.7 625.9 568.7 637.1 568.7 648.3 568.7 659.4 568.7 670.6 568.7M413.6 568.7 424.8 568.7 435.9 568.7 447.1 568.7 458.3 565.4 469.5 565 480.6 562.9 491.8 548 503 524 514.2 510 525.3 484.2 536.5 508.9 547.7 525.3 558.9 540.6 570 560.2 581.2 565 592.4 568.7 603.6 568.7 614.7 568.7 625.9 568.7 637.1 568.7 648.3 568.7 659.4 568.7 670.6 568.7M413.6 568.7 424.8 568.7 435.9 568.7 447.1 568.7 458.3 568.1 469.5 567.2 480.6 562.9 491.8 554.7 503 530.1 514.2 512 525.3 501.6 536.5 504.8 547.7 515 558.9 545.7 570 559.7 581.2 565 592.4 568.7 603.6 568.7 614.7 568.7 625.9 568.7 637.1 568.7 648.3 568.7 659.4 568.7 670.6 568.7M413.6 568.7 424.8 568.7 435.9 568.7 447.1 568.7 458.3 565 469.5 565 480.6 562.9 491.8 548 503 519.8 514.2 515.5 525.3 507.1 536.5 494.4 547.7 523.8 558.9 543.1 570 559.7 581.2 565 592.4 568.7 603.6 568.7 614.7 568.7 625.9 568.7 637.1 568.7 648.3 568.7 659.4 568.7 670.6 568.7M413.6 568.7 424.8 568.7 435.9 568.7 447.1 568.7 458.3 567.7 469.5 565 480.6 562.9 491.8 551.9 503 542.6 514.2 533.5 525.3 548.1 536.5 532.3 547.7 545.1 558.9 557.5 570 563.2 581.2 566.5 592.4 568.7 603.6 568.7 614.7 568.7 625.9 568.7 637.1 568.7 648.3 568.7 659.4 568.7 670.6 568.7M413.6 568.7 424.8 568.7 435.9 568.7 447.1 568.7 458.3 568.6 469.5 568.3 480.6 567.7 491.8 562.9 503 558 514.2 550 525.3 537.8 536.5 537.1 547.7 535.2 558.9 537.3 570 559.7 581.2 565 592.4 568.7 603.6 568.7 614.7 568.7 625.9 568.7 637.1 568.7 648.3 568.7 659.4 568.7 670.6 568.7M413.6 568.7 424.8 568.7 435.9 568.7 447.1 568.7 458.3 565 469.5 565 480.6 562.9 491.8 548 503 518.2 514.2 514.7 525.3 500.4 536.5 484.1 547.7 507.5 558.9 544.8 570 563.1 581.2 565 592.4 568.7 603.6 568.7 614.7 568.7 625.9 568.7 637.1 568.7 648.3 568.7 659.4 568.7 670.6 568.7M413.6 568.7 424.8 568.7 435.9 568.7 447.1 568.7 458.3 566.9 469.5 565 480.6 562.9 491.8 548 503 542.5 514.2 499.6 525.3 500.9 536.5 514.8 547.7 507.5 558.9 537.3 570 559.7 581.2 565 592.4 568.7 603.6 568.7 614.7 568.7 625.9 568.7 637.1 568.7 648.3 568.7 659.4 568.7 670.6 568.7M413.6 568.7 424.8 568.7 435.9 568.7 447.1 568.7 458.3 565 469.5 565 480.6 562.9 491.8 548 503 518.2 514.2 494.4 525.3 490.7 536.5 495.6 547.7 515.6 558.9 543.9 570 559.7 581.2 565 592.4 568.7 603.6 568.7 614.7 568.7 625.9 568.7 637.1 568.7 648.3 568.7 659.4 568.7 670.6 568.7"/>
<path class="k" d="M413.6 568.7 424.8 568.7 435.9 568.7 447.1 567.8 458.3 528.9 469.5 487.3 480.6 449.3 491.8 412.3 503 384.5 514.2 370.7 525.3 369 536.5 379.5 547.7 401.9 558.9 434.5 570 472.5 581.2 513.2 592.4 552 603.6 568.7 614.7 568.7 625.9 568.7 637.1 568.7 648.3 568.7 659.4 568.7 670.6 568.7M413.6 568.7 424.8 568.7 435.9 568.7 447.1 567.8 458.3 531.3 469.5 491.8 480.6 454.1 491.8 417 503 389.1 514.2 374 525.3 371 536.5 380.5 547.7 401.9 558.9 434.5 570 472.5 581.2 513.2 592.4 552 603.6 568.7 614.7 568.7 625.9 568.7 637.1 568.7 648.3 568.7 659.4 568.7 670.6 568.7M413.6 568.7 424.8 568.7 435.9 568.7 447.1 567.9 458.3 534.3 469.5 497.4 480.6 459.9 491.8 422.8 503 394.8 514.2 377.9 525.3 373.3 536.5 381.9 547.7 402.5 558.9 435.1 570 473 581.2 513.6 592.4 552.2 603.6 568.7 614.7 568.7 625.9 568.7 637.1 568.7 648.3 568.7 659.4 568.7 670.6 568.7M413.6 568.7 424.8 568.7 435.9 568.7 447.1 567.9 458.3 534.9 469.5 498.4 480.6 460.9 491.8 423.9 503 395.8 514.2 379.5 525.3 375.5 536.5 385.2 547.7 407 558.9 440.1 570 478 581.2 517.1 592.4 553.2 603.6 568.7 614.7 568.7 625.9 568.7 637.1 568.7 648.3 568.7 659.4 568.7 670.6 568.7M413.6 568.7 424.8 568.7 435.9 568.7 447.1 567.9 458.3 535.2 469.5 499 480.6 461.5 491.8 424.5 503 396.4 514.2 381.1 525.3 378.1 536.5 388.2 547.7 410.4 558.9 443.9 570 481.8 581.2 519.7 592.4 554 603.6 568.7 614.7 568.7 625.9 568.7 637.1 568.7 648.3 568.7 659.4 568.7 670.6 568.7M413.6 568.7 424.8 568.7 435.9 568.7 447.1 568 458.3 540.1 469.5 508.2 480.6 471.1 491.8 434 503 405.6 514.2 387.1 525.3 380.8 536.5 392.2 547.7 415.9 558.9 450 570 487.8 581.2 523.9 592.4 555.3 603.6 568.7 614.7 568.7 625.9 568.7 637.1 568.7 648.3 568.7 659.4 568.7 670.6 568.7M413.6 568.7 424.8 568.7 435.9 568.7 447.1 568 458.3 538.9 469.5 506.1 480.6 468.9 491.8 431.8 503 403.5 514.2 387.5 525.3 383.6 536.5 395.8 547.7 420.6 558.9 455.1 570 492.9 581.2 527.5 592.4 556.3 603.6 568.7 614.7 568.7 625.9 568.7 637.1 568.7 648.3 568.7 659.4 568.7 670.6 568.7M413.6 568.7 424.8 568.7 435.9 568.7 447.1 568.2 458.3 546.1 469.5 519.5 480.6 482.8 491.8 445.6 503 416.9 514.2 402.3 525.3 399.5 536.5 408.7 547.7 430.9 558.9 466.5 570 504.3 581.2 535.4 592.4 558.7 603.6 568.7 614.7 568.7 625.9 568.7 637.1 568.7 648.3 568.7 659.4 568.7 670.6 568.7M413.6 568.7 424.8 568.7 435.9 568.7 447.1 568.2 458.3 549.3 469.5 525.5 480.6 489 491.8 451.8 503 422.9 514.2 407.8 525.3 404.5 536.5 417.2 547.7 443.2 558.9 480 570 517.8 581.2 544.9 592.4 561.5 603.6 568.7 614.7 568.7 625.9 568.7 637.1 568.7 648.3 568.7 659.4 568.7 670.6 568.7M413.6 568.7 424.8 568.7 435.9 568.7 447.1 568.5 458.3 559.9 469.5 545.4 480.6 509.7 491.8 472.4 503 443 514.2 426.6 525.3 421.9 536.5 433 547.7 458.2 558.9 496.5 570 534.1 581.2 556.3 592.4 565 603.6 568.7 614.7 568.7 625.9 568.7 637.1 568.7 648.3 568.7 659.4 568.7 670.6 568.7M413.6 568.7 424.8 568.7 435.9 568.7 447.1 568.5 458.3 561.3 469.5 548 480.6 512.5 491.8 475.2 503 445.6 514.2 431.1 525.3 428.2 536.5 439.7 547.7 465.5 558.9 504.5 570 542.1 581.2 561.9 592.4 566.7 603.6 568.7 614.7 568.7 625.9 568.7 637.1 568.7 648.3 568.7 659.4 568.7 670.6 568.7M413.6 568.7 424.8 568.7 435.9 568.7 447.1 568.5 458.3 561.1 469.5 547.5 480.6 512 491.8 474.7 503 445.1 514.2 432.2 525.3 430.8 536.5 440.1 547.7 463.9 558.9 502.8 570 540.4 581.2 560.7 592.4 566.3 603.6 568.7 614.7 568.7 625.9 568.7 637.1 568.7 648.3 568.7 659.4 568.7 670.6 568.7M413.6 568.7 424.8 568.7 435.9 568.7 447.1 568.5 458.3 560.3 469.5 546.1 480.6 510.5 491.8 473.2 503 443.7 514.2 432.7 525.3 433.2 536.5 440.6 547.7 462.5 558.9 501.2 570 538.9 581.2 559.6 592.4 566 603.6 568.7 614.7 568.7 625.9 568.7 637.1 568.7 648.3 568.7 659.4 568.7 670.6 568.7M413.6 568.7 424.8 568.7 435.9 568.7 447.1 568.6 458.3 565.5 469.5 555.9 480.6 520.6 491.8 483.3 503 453.5 514.2 438.9 525.3 435.8 536.5 441.1 547.7 460.9 558.9 499.5 570 537.1 581.2 558.4 592.4 565.6 603.6 568.7 614.7 568.7 625.9 568.7 637.1 568.7 648.3 568.7 659.4 568.7 670.6 568.7M413.6 568.7 424.8 568.7 435.9 568.7 447.1 568.6 458.3 564.9 469.5 554.7 480.6 519.4 491.8 482 503 452.3 514.2 439.5 525.3 438.2 536.5 448.9 547.7 474.3 558.9 514.3 570 551.9 581.2 568.7 592.4 568.7 603.6 568.7 614.7 568.7 625.9 568.7 637.1 568.7 648.3 568.7 659.4 568.7 670.6 568.7M413.6 568.7 424.8 568.7 435.9 568.7 447.1 568.7 458.3 568.7 469.5 561.9 480.6 526.9 491.8 489.5 503 459.5 514.2 444.4 525.3 440.8 536.5 450.2 547.7 474.3 558.9 514.3 570 551.9 581.2 568.7 592.4 568.7 603.6 568.7 614.7 568.7 625.9 568.7 637.1 568.7 648.3 568.7 659.4 568.7 670.6 568.7M413.6 568.7 424.8 568.7 435.9 568.7 447.1 568.7 458.3 568.7 469.5 561.9 480.6 526.9 491.8 489.5 503 459.5 514.2 445.5 525.3 442.8 536.5 451.2 547.7 474.3 558.9 514.3 570 551.9 581.2 568.7 592.4 568.7 603.6 568.7 614.7 568.7 625.9 568.7 637.1 568.7 648.3 568.7 659.4 568.7 670.6 568.7M413.6 568.7 424.8 568.7 435.9 568.7 447.1 567.9 458.3 536.5 469.5 505.1 480.6 475.2 491.8 449.4 503 432.6 514.2 426.1 525.3 424.6 536.5 437 547.7 465.2 558.9 508.6 570 549 581.2 567.7 592.4 568.5 603.6 568.7 614.7 568.7 625.9 568.7 637.1 568.7 648.3 568.7 659.4 568.7 670.6 568.7M413.6 568.7 424.8 568.7 435.9 568.7 447.1 567.8 458.3 530.7 469.5 496.3 480.6 470.7 491.8 451.7 503 442.3 514.2 440.6 525.3 438.8 536.5 447.1 547.7 469.6 558.9 507.6 570 544.2 581.2 563 592.4 567 603.6 568.7 614.7 568.7 625.9 568.7 637.1 568.7 648.3 568.7 659.4 568.7 670.6 568.7M413.6 568.7 424.8 568.7 435.9 568.7 447.1 568 458.3 537.4 469.5 507.9 480.6 480.5 491.8 458.1 503 444.9 514.2 440.7 525.3 438.5 536.5 446.8 547.7 469.2 558.9 507 570 543.6 581.2 562.6 592.4 566.8 603.6 568.7 614.7 568.7 625.9 568.7 637.1 568.7 648.3 568.7 659.4 568.7 670.6 568.7M413.6 568.7 424.8 568.7 435.9 568.7 447.1 568 458.3 539.1 469.5 510.8 480.6 483.1 491.8 460 503 446.1 514.2 441.5 525.3 439.2 536.5 447 547.7 468.7 558.9 505.9 570 542.1 581.2 561.3 592.4 566.4 603.6 568.7 614.7 568.7 625.9 568.7 637.1 568.7 648.3 568.7 659.4 568.7 670.6 568.7M413.6 568.7 424.8 568.7 435.9 568.7 447.1 568.2 458.3 547.1 469.5 523.3 480.6 491 491.8 460.2 503 438 514.2 427.9 525.3 425.5 536.5 435.3 547.7 459.5 558.9 498.5 570 536.4 581.2 558 592.4 565.5 603.6 568.7 614.7 568.7 625.9 568.7 637.1 568.7 648.3 568.7 659.4 568.7 670.6 568.7M413.6 568.7 424.8 568.7 435.9 568.7 447.1 568 458.3 539.2 469.5 510.8 480.6 482.8 491.8 459.3 503 444.9 514.2 439.9 525.3 437.6 536.5 445.2 547.7 466.5 558.9 503 570 538.9 581.2 559.1 592.4 565.7 603.6 568.7 614.7 568.7 625.9 568.7 637.1 568.7 648.3 568.7 659.4 568.7 670.6 568.7M413.6 568.7 424.8 568.7 435.9 568.7 447.1 568.7 458.3 568.7 469.5 557.6 480.6 522.4 491.8 485.4 503 459.5 514.2 461.4 525.3 476.2 536.5 491 547.7 513.2 558.9 535.4 570 557.6 581.2 568.7 592.4 568.7 603.6 568.7 614.7 568.7 625.9 568.7 637.1 568.7 648.3 568.7 659.4 568.7 670.6 568.7"/>
<path class="r" d="M413.6 568.7 424.8 568.7 435.9 568.7 447.1 568.7 458.3 568.7 469.5 564.3 480.6 539.5 491.8 501.9 503 464.5 514.2 448.2 525.3 444.5 536.5 457.7 547.7 491 558.9 521.9 570 551.9 581.2 568.7 592.4 568.7 603.6 568.7 614.7 568.7 625.9 568.7 637.1 568.7 648.3 568.7 659.4 568.7 670.6 568.7M413.6 568.7 424.8 568.7 435.9 568.7 447.1 568.7 458.3 568.7 469.5 563.1 480.6 535.4 491.8 494.7 503 459.5 514.2 446.9 525.3 457.7 536.5 458.2 547.7 494.5 558.9 516.9 570 551.9 581.2 568.7 592.4 568.7 603.6 568.7 614.7 568.7 625.9 568.7 637.1 568.7 648.3 568.7 659.4 568.7 670.6 568.7M413.6 568.7 424.8 568.7 435.9 568.7 447.1 568.7 458.3 568.7 469.5 565 480.6 542.8 491.8 505.8 503 468.8 514.2 450.2 525.3 479.3 536.5 486.9 547.7 501.9 558.9 513.2 570 550.2 581.2 568.7 592.4 568.7 603.6 568.7 614.7 568.7 625.9 568.7 637.1 568.7 648.3 568.7 659.4 568.7 670.6 568.7M413.6 568.7 424.8 568.7 435.9 568.7 447.1 568.7 458.3 568.7 469.5 563.5 480.6 537.2 491.8 498.4 503 462.3 514.2 453.9 525.3 455.8 536.5 465.1 547.7 471.9 558.9 506.9 570 551.9 581.2 568.7 592.4 568.7 603.6 568.7 614.7 568.7 625.9 568.7 637.1 568.7 648.3 568.7 659.4 568.7 670.6 568.7"/>
</g>
<text class="t" text-anchor="middle" x="458.3" y="591.7">5</text><text class="t" text-anchor="middle" x="514.2" y="591.7">10</text><text class="t" text-anchor="middle" x="570" y="591.7">15</text><text class="t" text-anchor="middle" x="625.9" y="591.7">20</text>
<text class="t" text-anchor="end" x="406.1" y="575.1">0</text><text class="t" text-anchor="end" x="406.1" y="538.1">200</text><text class="t" text-anchor="end" x="406.1" y="501.1">400</text><text class="t" text-anchor="end" x="406.1" y="464.1">600</text><text class="t" text-anchor="end" x="406.1" y="427">800</text><text class="t" text-anchor="end" x="406.1" y="390">1000</text><text class="t" text-anchor="end" x="406.1" y="353">1200</text>
<text class="l" text-anchor="middle" x="542.1" y="613.5">Hour</text>
<text class="b" text-anchor="middle" x="541.3" y="340.1">Global Horizontal Irradiance (GHI)</text>
<text class="l" text-anchor="middle" transform="translate(361.5 458.3) rotate(-90)">GHI [W/m<tspan dy="-7" style="font-size:14px">2</tspan><tspan dy="7">]</tspan></text>
<text class="p" x="386" y="316.7">d</text>
</g>
<g id="panel-e">
<clipPath id="c4"><rect x="68.3" y="654.1" width="257.6" height="222.7"/></clipPath>
<rect class="a" x="69.3" y="654.1" width="256.2" height="221.7"/>
<path class="a" d="M113.9 875.8v-2.6 M113.9 654.1v2.6 M169.6 875.8v-2.6 M169.6 654.1v2.6 M225.2 875.8v-2.6 M225.2 654.1v2.6 M280.9 875.8v-2.6 M280.9 654.1v2.6 M69.3 875.8h2.6 M325.5 875.8h-2.6 M69.3 820.4h2.6 M325.5 820.4h-2.6 M69.3 765h2.6 M325.5 765h-2.6 M69.3 709.5h2.6 M325.5 709.5h-2.6 M69.3 654.1h2.6 M325.5 654.1h-2.6"/>
<g clip-path="url(#c4)">
<polygon points="69.3,784 80.4,735.6 91.6,725.6 102.7,723.1 113.9,689.7 125,715.6 136.1,715.6 147.3,698.7 158.4,696.2 169.6,696.2 180.7,723.1 191.8,739.1 203,766 214.1,725.6 225.2,695.7 236.4,675.7 247.5,670.7 258.7,720.6 269.8,725.6 280.9,712.1 292.1,687.7 303.2,712.1 314.4,761.5 325.5,788.5 325.5,822 314.4,822 303.2,822 292.1,822 280.9,822 269.8,822 258.7,822 247.5,822 236.4,822 225.2,822 214.1,822 203,822 191.8,822 180.7,822 169.6,822 158.4,822 147.3,822 136.1,822 125,822 113.9,822 102.7,822 91.6,822 80.4,822 69.3,822" fill="#c0c0c0" stroke="#c0c0c0" stroke-width="1.2" stroke-linejoin="round"/>
<path class="g" d="M69.3 816.1 80.4 769.7 91.6 771.9 102.7 776.4 113.9 693.3 125 774 136.1 727.9 147.3 711.1 158.4 760.4 169.6 730.7 180.7 729 191.8 774.3 203 791 214.1 735 225.2 768.8 236.4 746.3 247.5 746.4 258.7 754.6 269.8 760.1 280.9 771.3 292.1 699.3 303.2 736.1 314.4 764.2 325.5 818.9M69.3 815.4 80.4 776.4 91.6 731.7 102.7 770.9 113.9 710.1 125 752.2 136.1 754.7 147.3 754.2 158.4 704.3 169.6 731.9 180.7 772.5 191.8 788 203 806.3 214.1 726.4 225.2 753.4 236.4 689.6 247.5 714 258.7 744.3 269.8 718.7 280.9 789 292.1 693.3 303.2 761.9 314.4 798.3 325.5 814.9M69.3 814.7 80.4 778.6 91.6 730.5 102.7 744.2 113.9 693.1 125 737.8 136.1 770.5 147.3 706.9 158.4 746.2 169.6 735.1 180.7 716.2 191.8 742 203 787 214.1 758.1 225.2 740.4 236.4 659.6 247.5 654.1 258.7 731.6 269.8 759.8 280.9 759.3 292.1 672.9 303.2 745 314.4 789.1 325.5 807M69.3 812.7 80.4 742.3 91.6 768 102.7 781.5 113.9 730.4 125 766.3 136.1 721.5 147.3 708.4 158.4 736.9 169.6 707 180.7 759.9 191.8 790.4 203 789.3 214.1 768.7 225.2 697.4 236.4 752.5 247.5 710.1 258.7 711.5 269.8 717.8 280.9 775.9 292.1 672.9 303.2 740.1 314.4 793.5 325.5 814.7M69.3 781.9 80.4 739.5 91.6 746.5 102.7 775.6 113.9 675.2 125 712.8 136.1 721.9 147.3 744.8 158.4 748.9 169.6 691.1 180.7 774.8 191.8 776.5 203 792.9 214.1 752.8 225.2 686.4 236.4 733.7 247.5 656.8 258.7 738.2 269.8 763.1 280.9 720.7 292.1 712.2 303.2 729.2 314.4 799.4 325.5 817M69.3 810.7 80.4 736.6 91.6 787.8 102.7 760.4 113.9 720 125 762.7 136.1 744.3 147.3 777.8 158.4 753.2 169.6 736.8 180.7 768.8 191.8 796.7 203 801.8 214.1 750 225.2 790.6 236.4 683.8 247.5 663.2 258.7 727.9 269.8 763.4 280.9 768.3 292.1 762.6 303.2 776 314.4 761.7 325.5 810.9M69.3 801.9 80.4 763 91.6 745 102.7 752.3 113.9 698.7 125 739.9 136.1 752.3 147.3 687.5 158.4 712.4 169.6 743.9 180.7 767.6 191.8 787.1 203 785.4 214.1 721.6 225.2 777.9 236.4 737.4 247.5 733.5 258.7 736 269.8 738 280.9 768.7 292.1 682.8 303.2 700.4 314.4 774.4 325.5 805.8M69.3 785 80.4 743.1 91.6 770.8 102.7 759.5 113.9 675.2 125 739.3 136.1 780.7 147.3 713.4 158.4 701.3 169.6 713.8 180.7 758 191.8 770.8 203 791.1 214.1 742.5 225.2 735.1 236.4 670.7 247.5 734.7 258.7 752.7 269.8 739.8 280.9 746.2 292.1 702.3 303.2 741.3 314.4 773.3 325.5 786.3M69.3 810.4 80.4 739.8 91.6 756 102.7 712.3 113.9 698.4 125 742 136.1 734.2 147.3 748.6 158.4 690.6 169.6 686.6 180.7 726.4 191.8 731.5 203 775 214.1 766.4 225.2 708.5 236.4 724.8 247.5 673 258.7 721.5 269.8 745.4 280.9 770 292.1 672.9 303.2 727.3 314.4 755 325.5 804.4M69.3 812.5 80.4 747.5 91.6 773.7 102.7 752.2 113.9 708.9 125 749.1 136.1 752.4 147.3 723.8 158.4 732.3 169.6 706.3 180.7 725.1 191.8 758.4 203 760.5 214.1 732.8 225.2 691.5 236.4 667.3 247.5 655.4 258.7 733 269.8 753.8 280.9 799.5 292.1 680.1 303.2 725.6 314.4 772 325.5 807.6M69.3 810.7 80.4 752.4 91.6 778.8 102.7 751 113.9 688.9 125 704.5 136.1 749.6 147.3 711.7 158.4 682.4 169.6 694.5 180.7 756 191.8 777.8 203 769.4 214.1 723.2 225.2 736.4 236.4 706.4 247.5 672 258.7 738.7 269.8 756.3 280.9 711.2 292.1 715.2 303.2 710.8 314.4 779.2 325.5 816.2M69.3 819.6 80.4 737.3 91.6 747.5 102.7 762.7 113.9 680.6 125 764.5 136.1 718 147.3 734.7 158.4 700.9 169.6 708.4 180.7 763 191.8 775.6 203 786.6 214.1 739 225.2 681.8 236.4 674 247.5 689.9 258.7 755.3 269.8 721 280.9 703.8 292.1 742.1 303.2 717.1 314.4 761.5 325.5 812.9M69.3 812.1 80.4 743.5 91.6 718.3 102.7 765 113.9 704.8 125 749.1 136.1 727 147.3 752.4 158.4 717.3 169.6 687.4 180.7 774.4 191.8 776.4 203 785.8 214.1 768 225.2 764.5 236.4 698.7 247.5 655.4 258.7 751.9 269.8 756.8 280.9 748.6 292.1 691.2 303.2 700.1 314.4 764.3 325.5 802.5M69.3 808.9 80.4 746.2 91.6 729.2 102.7 769.7 113.9 707.5 125 760 136.1 738.4 147.3 730.7 158.4 690.2 169.6 701.8 180.7 774.7 191.8 795 203 798 214.1 758.1 225.2 753 236.4 723.9 247.5 728.3 258.7 744.1 269.8 764.5 280.9 769.6 292.1 694.4 303.2 709.8 314.4 766.2 325.5 815.4M69.3 820.6 80.4 768.2 91.6 780.5 102.7 771.9 113.9 687 125 738.7 136.1 706.7 147.3 722.4 158.4 743.9 169.6 710.7 180.7 759.6 191.8 772.3 203 794.2 214.1 740.7 225.2 732.7 236.4 677.7 247.5 656.5 258.7 709.5 269.8 759.3 280.9 715.9 292.1 710.8 303.2 741.3 314.4 799.6 325.5 818.4M69.3 808.7 80.4 751.4 91.6 780.3 102.7 761.5 113.9 705.9 125 735.5 136.1 752.4 147.3 691 158.4 704.5 169.6 694 180.7 737.6 191.8 768.4 203 762.7 214.1 753.3 225.2 731.9 236.4 736 247.5 654.1 258.7 716.4 269.8 769.8 280.9 718.5 292.1 676.6 303.2 710.7 314.4 794.6 325.5 818.1M69.3 781.6 80.4 726.2 91.6 736 102.7 760.8 113.9 675.2 125 746.5 136.1 707.6 147.3 685.1 158.4 700.2 169.6 692.5 180.7 713.2 191.8 775.4 203 781.6 214.1 733 225.2 727.8 236.4 725.5 247.5 660.9 258.7 727.2 269.8 763.3 280.9 710.3 292.1 683.8 303.2 749.9 314.4 786.8 325.5 814.6M69.3 814.1 80.4 771.9 91.6 755.5 102.7 754 113.9 718.4 125 717.6 136.1 762.2 147.3 736.1 158.4 727.8 169.6 735.3 180.7 750.5 191.8 744.8 203 804.1 214.1 764.1 225.2 726.5 236.4 663.6 247.5 709.4 258.7 722.2 269.8 769.5 280.9 713.7 292.1 727.3 303.2 701.3 314.4 767.5 325.5 809.8M69.3 810.3 80.4 742.6 91.6 746.9 102.7 756.9 113.9 722.9 125 749.6 136.1 715.3 147.3 685.5 158.4 682.4 169.6 713.1 180.7 757.6 191.8 791 203 769.3 214.1 757.4 225.2 753.7 236.4 716 247.5 727.6 258.7 761.1 269.8 756 280.9 768.6 292.1 730.7 303.2 721.1 314.4 755.6 325.5 787.8M69.3 781.1 80.4 748.5 91.6 769.4 102.7 745.7 113.9 745.7 125 751 136.1 721.9 147.3 718.8 158.4 765.3 169.6 688.4 180.7 785 191.8 743.4 203 794.4 214.1 727.1 225.2 752.6 236.4 771 247.5 767.7 258.7 771.2 269.8 725.9 280.9 791.1 292.1 766.4 303.2 745.8 314.4 755 325.5 804.8M69.3 809.1 80.4 726.2 91.6 751.1 102.7 765.8 113.9 695.6 125 711.9 136.1 717.7 147.3 692.4 158.4 727.4 169.6 682.4 180.7 731.4 191.8 735.1 203 764.8 214.1 751.1 225.2 681.8 236.4 662.7 247.5 660.7 258.7 709.5 269.8 748.7 280.9 745.4 292.1 672.9 303.2 731.2 314.4 778.3 325.5 817.8M69.3 782.7 80.4 741.1 91.6 730 102.7 738.9 113.9 680.5 125 754.5 136.1 718.2 147.3 696.9 158.4 732.9 169.6 682.4 180.7 737.3 191.8 777.6 203 768.6 214.1 751.3 225.2 722.5 236.4 710.8 247.5 664.7 258.7 709.5 269.8 743.2 280.9 760.3 292.1 747.7 303.2 700.1 314.4 760.6 325.5 814.1M69.3 781.4 80.4 754 91.6 780.4 102.7 779.8 113.9 682 125 740.1 136.1 746.4 147.3 699.3 158.4 763.7 169.6 759.2 180.7 756.6 191.8 743.9 203 800.7 214.1 748 225.2 739.9 236.4 757.1 247.5 752.6 258.7 768.4 269.8 744.5 280.9 772.2 292.1 754.7 303.2 700.6 314.4 755 325.5 803.8M69.3 797.7 80.4 744 91.6 735.8 102.7 759.6 113.9 730.5 125 704.2 136.1 761.6 147.3 713.4 158.4 717.1 169.6 684.1 180.7 768.2 191.8 772.7 203 789.3 214.1 741.6 225.2 766.1 236.4 665.9 247.5 706.8 258.7 739.1 269.8 764.8 280.9 714.3 292.1 732.6 303.2 724.8 314.4 760.9 325.5 800.1M69.3 811.8 80.4 771.1 91.6 771.6 102.7 719.8 113.9 699.8 125 766.7 136.1 724.3 147.3 763.7 158.4 764.7 169.6 721.5 180.7 762.3 191.8 737.4 203 790.5 214.1 745.1 225.2 766.7 236.4 690 247.5 709.8 258.7 727 269.8 758.7 280.9 783.1 292.1 672.9 303.2 720.4 314.4 791.3 325.5 804.9M69.3 818.1 80.4 760.5 91.6 727.4 102.7 775.3 113.9 719.9 125 756.3 136.1 780.4 147.3 735 158.4 682.9 169.6 740 180.7 766 191.8 791.1 203 784.8 214.1 769 225.2 696 236.4 728.4 247.5 700.2 258.7 714.1 269.8 783.3 280.9 748.9 292.1 694.2 303.2 727 314.4 774.5 325.5 821M69.3 780.8 80.4 726.2 91.6 757.4 102.7 768.8 113.9 711.5 125 737.1 136.1 728.7 147.3 685.1 158.4 701.5 169.6 682.4 180.7 722.8 191.8 779.6 203 781.5 214.1 750.4 225.2 688.1 236.4 684 247.5 681.5 258.7 722.6 269.8 762 280.9 731.7 292.1 693.8 303.2 700.1 314.4 772.1 325.5 790.1M69.3 804.1 80.4 751 91.6 718.3 102.7 738.9 113.9 675.2 125 705.6 136.1 741.6 147.3 688.5 158.4 712.9 169.6 706 180.7 725.8 191.8 780.3 203 786.8 214.1 719 225.2 716.8 236.4 693.5 247.5 654.1 258.7 711 269.8 749.6 280.9 754.7 292.1 718.5 303.2 718.1 314.4 782.4 325.5 819M69.3 812 80.4 730.1 91.6 762.7 102.7 782.5 113.9 696.1 125 716.3 136.1 763.5 147.3 742.6 158.4 704.9 169.6 700 180.7 763.8 191.8 785.5 203 770.3 214.1 752.1 225.2 748.8 236.4 684.9 247.5 709 258.7 760.2 269.8 752.7 280.9 776.4 292.1 708.5 303.2 721.5 314.4 779.7 325.5 810.4M69.3 809.7 80.4 730.3 91.6 780.9 102.7 778.3 113.9 709.3 125 732.6 136.1 739.6 147.3 699.4 158.4 690.6 169.6 756.9 180.7 719.1 191.8 780.4 203 774 214.1 766.7 225.2 699.2 236.4 704.6 247.5 654.1 258.7 714.6 269.8 720.8 280.9 785.1 292.1 699.7 303.2 737.8 314.4 799 325.5 815.8M69.3 781 80.4 762.9 91.6 777.7 102.7 794.2 113.9 753.7 125 767.5 136.1 776.3 147.3 734.9 158.4 744 169.6 688.3 180.7 762.7 191.8 756.8 203 788.4 214.1 748.3 225.2 768.9 236.4 681.7 247.5 654.2 258.7 724.8 269.8 721.9 280.9 781 292.1 757 303.2 751.8 314.4 798.7 325.5 819.7M69.3 815.1 80.4 752.5 91.6 736.4 102.7 761.4 113.9 675.2 125 738.4 136.1 746.4 147.3 692.9 158.4 710 169.6 691.5 180.7 773.7 191.8 733.7 203 794 214.1 749.2 225.2 726.3 236.4 734.6 247.5 732.5 258.7 762.3 269.8 718.9 280.9 763 292.1 757.9 303.2 700.1 314.4 772.4 325.5 817.1M69.3 815.9 80.4 743.8 91.6 771.3 102.7 719.5 113.9 722.2 125 706.7 136.1 756.8 147.3 714.1 158.4 767.2 169.6 687.8 180.7 756.5 191.8 789.6 203 787.5 214.1 744 225.2 754.5 236.4 714.5 247.5 717.2 258.7 724 269.8 782.8 280.9 716.1 292.1 675.5 303.2 738.4 314.4 780.3 325.5 818.8M69.3 809.3 80.4 770.6 91.6 770 102.7 774.2 113.9 760.7 125 787.1 136.1 751.1 147.3 706 158.4 760.3 169.6 705.2 180.7 717.4 191.8 789.6 203 810 214.1 778.3 225.2 767.2 236.4 758.7 247.5 673.5 258.7 768 269.8 781.6 280.9 789.4 292.1 789 303.2 713.9 314.4 776 325.5 788.7M69.3 813.2 80.4 740.4 91.6 751.8 102.7 769.7 113.9 741.1 125 764.3 136.1 763.6 147.3 718.5 158.4 759.7 169.6 697.6 180.7 748.4 191.8 785.4 203 790.4 214.1 746.1 225.2 760.2 236.4 670.1 247.5 672 258.7 770.5 269.8 728.7 280.9 781.8 292.1 701.2 303.2 705.3 314.4 761.4 325.5 803.7M69.3 804.4 80.4 746.3 91.6 762.1 102.7 715.3 113.9 714.7 125 743.8 136.1 760.5 147.3 700.9 158.4 725.7 169.6 733.7 180.7 756.2 191.8 744.1 203 764.6 214.1 731.1 225.2 751.7 236.4 681.4 247.5 658.8 258.7 763.1 269.8 715.6 280.9 788.8 292.1 743.2 303.2 700.1 314.4 755.9 325.5 815.6M69.3 780.2 80.4 742.4 91.6 767.6 102.7 762.9 113.9 720.8 125 760.4 136.1 752.4 147.3 738.9 158.4 771 169.6 703.4 180.7 760.8 191.8 737.2 203 807.3 214.1 760.6 225.2 770.9 236.4 752.6 247.5 710.7 258.7 758 269.8 774.2 280.9 781.4 292.1 719.4 303.2 739 314.4 774.6 325.5 807.5M69.3 811.4 80.4 729 91.6 725.8 102.7 764 113.9 726 125 712.8 136.1 731.9 147.3 714 158.4 743.1 169.6 684.2 180.7 751.2 191.8 778.4 203 782.4 214.1 740.2 225.2 690.4 236.4 682.1 247.5 658.6 258.7 723.1 269.8 735.5 280.9 751 292.1 711.1 303.2 738.4 314.4 777.2 325.5 808.5M69.3 803.5 80.4 726.2 91.6 752.2 102.7 784.8 113.9 730.1 125 753.3 136.1 725.5 147.3 728.6 158.4 745.8 169.6 682.4 180.7 761.3 191.8 767.2 203 762.3 214.1 743 225.2 760.3 236.4 704.3 247.5 674.2 258.7 728.8 269.8 757 280.9 708.9 292.1 690.1 303.2 754.4 314.4 790 325.5 814.8M69.3 780.6 80.4 761.8 91.6 769.4 102.7 720.3 113.9 699.1 125 767.8 136.1 756.8 147.3 729 158.4 769.2 169.6 693.7 180.7 758 191.8 736.2 203 789.9 214.1 719.3 225.2 720.5 236.4 724.8 247.5 720 258.7 761.6 269.8 764.1 280.9 756 292.1 680.4 303.2 741.6 314.4 786.7 325.5 808.4M69.3 814.1 80.4 735.8 91.6 715.4 102.7 763.1 113.9 711.3 125 771.9 136.1 766.6 147.3 707.4 158.4 700.7 169.6 732.8 180.7 748.4 191.8 766.8 203 764.9 214.1 778.2 225.2 732 236.4 688.5 247.5 742.1 258.7 763.6 269.8 770.4 280.9 761.1 292.1 701.8 303.2 700.1 314.4 783.7 325.5 786.3M69.3 780.6 80.4 763.9 91.6 778.8 102.7 777.7 113.9 696.1 125 760.2 136.1 756.3 147.3 769.7 158.4 703.4 169.6 765.6 180.7 788.4 191.8 785.6 203 797.6 214.1 756.4 225.2 764.2 236.4 775.7 247.5 764.7 258.7 784.1 269.8 763.1 280.9 780.3 292.1 758.6 303.2 763.5 314.4 759.7 325.5 796.7M69.3 814.6 80.4 737 91.6 732.8 102.7 754.7 113.9 697.6 125 704.3 136.1 749.6 147.3 724.5 158.4 721.6 169.6 706.6 180.7 752.3 191.8 795.6 203 774.2 214.1 754.8 225.2 723.1 236.4 711.9 247.5 654.1 258.7 728 269.8 755.7 280.9 747.5 292.1 682 303.2 735 314.4 800 325.5 812.7M69.3 813.5 80.4 726.2 91.6 761 102.7 758.4 113.9 675.2 125 730.2 136.1 742.9 147.3 696.1 158.4 722.3 169.6 692.6 180.7 734.3 191.8 740.7 203 778.4 214.1 753.7 225.2 715 236.4 665.2 247.5 695.5 258.7 720.1 269.8 748.3 280.9 746.7 292.1 672.9 303.2 744.5 314.4 790.8 325.5 816.3M69.3 798.8 80.4 730.8 91.6 754.4 102.7 754.3 113.9 675.2 125 756.5 136.1 724.9 147.3 750.8 158.4 701.7 169.6 714.9 180.7 772.8 191.8 744.2 203 780.4 214.1 722.3 225.2 770 236.4 766.5 247.5 745.7 258.7 752.4 269.8 728.8 280.9 708.2 292.1 727 303.2 700.1 314.4 761.6 325.5 787.8M69.3 785.7 80.4 728.7 91.6 759.1 102.7 775.5 113.9 726.1 125 747.2 136.1 761.3 147.3 750 158.4 754.6 169.6 718.6 180.7 713.8 191.8 765.7 203 782.9 214.1 727.4 225.2 754.6 236.4 765.9 247.5 714.2 258.7 720 269.8 732.9 280.9 762.1 292.1 727.3 303.2 707.5 314.4 780 325.5 810.9M69.3 780.3 80.4 726.2 91.6 765.3 102.7 725.8 113.9 744.3 125 706.4 136.1 758.5 147.3 714 158.4 732.4 169.6 724.9 180.7 761.5 191.8 787 203 775.2 214.1 741.2 225.2 705.8 236.4 722.6 247.5 669.2 258.7 729 269.8 742.2 280.9 769.2 292.1 712.8 303.2 711.6 314.4 775.5 325.5 806.7M69.3 809 80.4 761.4 91.6 770.2 102.7 780 113.9 748.4 125 771.9 136.1 758.5 147.3 760.5 158.4 770.4 169.6 732.5 180.7 782.9 191.8 804.8 203 801 214.1 770.2 225.2 763.2 236.4 684.9 247.5 681.4 258.7 759.8 269.8 726.6 280.9 778.5 292.1 737.5 303.2 708.6 314.4 761.3 325.5 807.6M69.3 785.8 80.4 733.3 91.6 768.8 102.7 735.1 113.9 688.4 125 737.9 136.1 722.4 147.3 719.8 158.4 747.9 169.6 705.3 180.7 722.2 191.8 791.8 203 784.3 214.1 748.7 225.2 741.5 236.4 704 247.5 680.9 258.7 715.5 269.8 725 280.9 768.3 292.1 672.9 303.2 700.1 314.4 786.1 325.5 809.5M69.3 808.2 80.4 731.3 91.6 730 102.7 788.4 113.9 752.4 125 759 136.1 720 147.3 759.7 158.4 756.8 169.6 761.5 180.7 719.4 191.8 778 203 787.7 214.1 725.8 225.2 753.9 236.4 757.2 247.5 738.1 258.7 754.1 269.8 747.1 280.9 702.9 292.1 766.8 303.2 760.1 314.4 778.2 325.5 818.6M69.3 810.3 80.4 733.6 91.6 748.3 102.7 725.1 113.9 680.9 125 760.2 136.1 747.8 147.3 728.9 158.4 731.3 169.6 682.4 180.7 751.9 191.8 762.1 203 780.7 214.1 730.4 225.2 749.3 236.4 660.5 247.5 689.5 258.7 747.5 269.8 736.9 280.9 704.7 292.1 697.4 303.2 718.9 314.4 755 325.5 815.2M69.3 813.6 80.4 739.1 91.6 775 102.7 789.8 113.9 781 125 712.3 136.1 744.9 147.3 727.6 158.4 705.3 169.6 759.4 180.7 765.8 191.8 782.3 203 801.1 214.1 747.6 225.2 748.4 236.4 754.2 247.5 662.8 258.7 724.6 269.8 757.8 280.9 789 292.1 771.9 303.2 766.1 314.4 762 325.5 812M69.3 816.2 80.4 731.3 91.6 737.4 102.7 752 113.9 675.2 125 718.1 136.1 740.9 147.3 717.9 158.4 727.2 169.6 691.2 180.7 750.2 191.8 768.6 203 767.8 214.1 751.2 225.2 699.9 236.4 686.6 247.5 660.3 258.7 737.8 269.8 777.6 280.9 751.4 292.1 692.7 303.2 704 314.4 757.5 325.5 810.1M69.3 820.1 80.4 755 91.6 752.3 102.7 775.3 113.9 686.7 125 756.4 136.1 735.2 147.3 733 158.4 711.2 169.6 700.4 180.7 714.6 191.8 736.9 203 786.5 214.1 745.8 225.2 717.7 236.4 698.2 247.5 656.7 258.7 718 269.8 782.9 280.9 766.9 292.1 738.2 303.2 742.5 314.4 760.1 325.5 816M69.3 811.3 80.4 733.8 91.6 726.8 102.7 727.7 113.9 687 125 710.4 136.1 728.6 147.3 722.2 158.4 729 169.6 721.3 180.7 743.1 191.8 753.7 203 767.6 214.1 715.1 225.2 701.2 236.4 747.1 247.5 654.1 258.7 762.3 269.8 753 280.9 715.6 292.1 739 303.2 744.2 314.4 758.7 325.5 807.6M69.3 807.5 80.4 744.4 91.6 762.5 102.7 750.8 113.9 680.9 125 722.5 136.1 718 147.3 742.7 158.4 699.3 169.6 732.1 180.7 785.8 191.8 776.6 203 793.6 214.1 720.3 225.2 756.7 236.4 769.6 247.5 759.7 258.7 760.6 269.8 755.8 280.9 767.4 292.1 684.6 303.2 705.6 314.4 781.1 325.5 802.6M69.3 814.6 80.4 750.6 91.6 768.5 102.7 768 113.9 678.1 125 756.2 136.1 770.6 147.3 761.4 158.4 697.6 169.6 711.2 180.7 714.9 191.8 772.3 203 789.9 214.1 734.3 225.2 697.1 236.4 672.9 247.5 673.3 258.7 733.5 269.8 750 280.9 761.8 292.1 714.3 303.2 716.5 314.4 757 325.5 815M69.3 815.4 80.4 754.7 91.6 764.3 102.7 758.8 113.9 743.2 125 724.7 136.1 763.7 147.3 686 158.4 760.4 169.6 750.1 180.7 784.9 191.8 792.4 203 798.8 214.1 758.9 225.2 760.8 236.4 766.6 247.5 679.6 258.7 723.4 269.8 794.5 280.9 720.1 292.1 765 303.2 725.9 314.4 781.3 325.5 807.6M69.3 809.6 80.4 733.4 91.6 759.1 102.7 772.4 113.9 677.2 125 706.2 136.1 752.5 147.3 740.7 158.4 696.8 169.6 685.5 180.7 790.6 191.8 783.3 203 795.9 214.1 758.4 225.2 751.7 236.4 717.4 247.5 697.7 258.7 723.6 269.8 777 280.9 767.9 292.1 697.4 303.2 760.1 314.4 764.4 325.5 789.1M69.3 782.6 80.4 726.2 91.6 758 102.7 757.7 113.9 735.3 125 747.9 136.1 748.5 147.3 707.2 158.4 706.4 169.6 727 180.7 768.9 191.8 756.2 203 766.4 214.1 764.8 225.2 736.3 236.4 716.8 247.5 671 258.7 740.2 269.8 735.9 280.9 771.8 292.1 752.6 303.2 714.6 314.4 769.1 325.5 801.4M69.3 782.9 80.4 733.2 91.6 724.7 102.7 747.9 113.9 678.1 125 734.9 136.1 708.9 147.3 728.8 158.4 734 169.6 714 180.7 764.2 191.8 760.3 203 780.4 214.1 742.1 225.2 738.6 236.4 679.4 247.5 654.1 258.7 719.3 269.8 744.4 280.9 767.8 292.1 712.8 303.2 723.7 314.4 790.7 325.5 812.8M69.3 806.2 80.4 746 91.6 764.2 102.7 720.5 113.9 701 125 709.8 136.1 723 147.3 743.3 158.4 749.5 169.6 741.9 180.7 745.9 191.8 787.4 203 766.8 214.1 715.1 225.2 758.1 236.4 747.2 247.5 732.6 258.7 712.9 269.8 748.7 280.9 760.6 292.1 764.4 303.2 700.1 314.4 768.5 325.5 805.3M69.3 811.4 80.4 732.9 91.6 772.7 102.7 727.4 113.9 695.5 125 746.8 136.1 762.8 147.3 690.8 158.4 739 169.6 682.4 180.7 713.6 191.8 773.2 203 792.4 214.1 726.3 225.2 729.1 236.4 678.6 247.5 674.9 258.7 709.5 269.8 748.1 280.9 711.3 292.1 672.9 303.2 734.2 314.4 793.9 325.5 811.2M69.3 811.5 80.4 749.9 91.6 754.5 102.7 753.6 113.9 676.8 125 727.6 136.1 758.5 147.3 713.1 158.4 699.8 169.6 682.4 180.7 742.1 191.8 781.1 203 765.6 214.1 733.7 225.2 732 236.4 706.6 247.5 715.7 258.7 748 269.8 748.2 280.9 719.3 292.1 734.8 303.2 755.1 314.4 798.1 325.5 806.2M69.3 823.4 80.4 822.8 91.6 821.9 102.7 823.2 113.9 823.7 125 824.7 136.1 824.3 147.3 823.5 158.4 823.3 169.6 823.1 180.7 822.8 191.8 823.3 203 824 214.1 823.2 225.2 822.4 236.4 823.5 247.5 818.6 258.7 824.3 269.8 824.6 280.9 824 292.1 823.8 303.2 824 314.4 823.3 325.5 823.1M69.3 823.3 80.4 821.7 91.6 823.7 102.7 823.2 113.9 822.6 125 823.1 136.1 823 147.3 822.9 158.4 823.4 169.6 824.1 180.7 824.1 191.8 823.5 203 823.1 214.1 822.4 225.2 821.6 236.4 825.1 247.5 824.4 258.7 824.3 269.8 823.3 280.9 822.9 292.1 823.1 303.2 822 314.4 823.3 325.5 823.4M69.3 823.2 80.4 823.2 91.6 821.9 102.7 822 113.9 821.2 125 822.3 136.1 822.5 147.3 823.5 158.4 825 169.6 824.7 180.7 824.7 191.8 823.6 203 824.1 214.1 823.8 225.2 824.1 236.4 823.1 247.5 823 258.7 821.8 269.8 821.9 280.9 821.1 292.1 821.9 303.2 824.4 314.4 823 325.5 822.8M69.3 823 80.4 823 91.6 823 102.7 823.2 113.9 823.7 125 823.7 136.1 824.9 147.3 823.5 158.4 823 169.6 822.3 180.7 823 191.8 822.9 203 822.2 214.1 821.8 225.2 822.6 236.4 822.5 247.5 822.7 258.7 822 269.8 823.3 280.9 822.1 292.1 822.1 303.2 825.4 314.4 823.5 325.5 823.7M69.3 823.2 80.4 822.4 91.6 820.4 102.7 821.8 113.9 822.8 125 822.7 136.1 822 147.3 823.1 158.4 822.7 169.6 824 180.7 824 191.8 823.4 203 822.8 214.1 823.2 225.2 823.3 236.4 822.4 247.5 823.3 258.7 823.2 269.8 823.5 280.9 821.1 292.1 822.1 303.2 821.1 314.4 822.7 325.5 822.7M69.3 823.1 80.4 824.3 91.6 821.9 102.7 821.7 113.9 822.1 125 820.5 136.1 819.1 147.3 819.4 158.4 819.5 169.6 821.2 180.7 822.9 191.8 823.8 203 822.7 214.1 823.8 225.2 822.8 236.4 819.9 247.5 820.7 258.7 823.2 269.8 823.4 280.9 821.4 292.1 822.8 303.2 822.9 314.4 823.7 325.5 823.4M69.3 823 80.4 823.5 91.6 823.4 102.7 825.1 113.9 822 125 821.6 136.1 822.7 147.3 822.5 158.4 822.1 169.6 821.3 180.7 824 191.8 823.9 203 822.3 214.1 821.5 225.2 821.4 236.4 822 247.5 821.2 258.7 821.8 269.8 821.9 280.9 823.4 292.1 822.8 303.2 822.5 314.4 823 325.5 823.7M69.3 823.9 80.4 824 91.6 823.4 102.7 822.9 113.9 822.4 125 822.2 136.1 822.9 147.3 824.5 158.4 823.6 169.6 823.9 180.7 825 191.8 824.3 203 823.5 214.1 822.5 225.2 823.1 236.4 824.9 247.5 823.8 258.7 824.2 269.8 822.6 280.9 824.3 292.1 822.6 303.2 823.4 314.4 823.3 325.5 823.8M69.3 823.4 80.4 823.2 91.6 823.9 102.7 823.7 113.9 825.2 125 823 136.1 823.2 147.3 821.3 158.4 824 169.6 821.4 180.7 822.3 191.8 823.2 203 823.1 214.1 823.9 225.2 824.6 236.4 821.7 247.5 824.9 258.7 823.4 269.8 822 280.9 822.4 292.1 821 303.2 822.7 314.4 823.6 325.5 823.1M69.3 823.2 80.4 821.6 91.6 823.1 102.7 821.8 113.9 822.2 125 822.2 136.1 822.2 147.3 821.9 158.4 821.5 169.6 820.4 180.7 820.8 191.8 822.2 203 822.8 214.1 823.2 225.2 820.6 236.4 820.1 247.5 822.1 258.7 822.3 269.8 821.2 280.9 822.5 292.1 821.7 303.2 822.2 314.4 823.1 325.5 823.3M69.3 822.3 80.4 821.5 91.6 821 102.7 822.2 113.9 818 125 819.8 136.1 822.3 147.3 821.5 158.4 821 169.6 821.6 180.7 822.5 191.8 822.8 203 822.9 214.1 821.3 225.2 820.2 236.4 818.1 247.5 819.4 258.7 822.9 269.8 821.8 280.9 820 292.1 821.2 303.2 820.9 314.4 821.9 325.5 823.1M69.3 824 80.4 822.6 91.6 822.6 102.7 823.1 113.9 822.4 125 822.6 136.1 823.9 147.3 824.9 158.4 825.4 169.6 825.3 180.7 823.2 191.8 822.6 203 822.6 214.1 824.1 225.2 823.6 236.4 821.8 247.5 820.5 258.7 823.1 269.8 823.7 280.9 823.8 292.1 823 303.2 822.5 314.4 822.9 325.5 823.6M69.3 823.3 80.4 821.7 91.6 820.5 102.7 820.4 113.9 820 125 821.6 136.1 821.6 147.3 822 158.4 822.1 169.6 822.5 180.7 821.1 191.8 822.7 203 823 214.1 820.9 225.2 820.4 236.4 818.3 247.5 817.8 258.7 820.7 269.8 820.5 280.9 822.1 292.1 820.9 303.2 819.8 314.4 821.9 325.5 822.8M69.3 821.9 80.4 821.3 91.6 819.3 102.7 821.8 113.9 818.8 125 819.3 136.1 819.9 147.3 819.9 158.4 819.6 169.6 816.1 180.7 820.2 191.8 821.1 203 821.7 214.1 820.4 225.2 817.1 236.4 817.1 247.5 817.8 258.7 819.1 269.8 819.5 280.9 819.5 292.1 818.9 303.2 819.7 314.4 821.4 325.5 822.5M69.3 792.9 80.4 720.6 91.6 663.5 102.7 748 113.9 725.6 125 740.6 136.1 740.6 147.3 725.6 158.4 723.1 169.6 723.1 180.7 745.6 191.8 763 203 778 214.1 750.5 225.2 730.6 236.4 710.6 247.5 695.7 258.7 740.6 269.8 745.6 280.9 740.6 292.1 720.6 303.2 735.6 314.4 773 325.5 795.4M69.3 794.5 80.4 766.2 91.6 670.7 102.7 696.2 113.9 730.9 125 745 136.1 745 147.3 730.9 158.4 728.5 169.6 728.5 180.7 749.7 191.8 766.2 203 780.3 214.1 754.4 225.2 735.6 236.4 716.7 247.5 702.6 258.7 745 269.8 749.7 280.9 745 292.1 726.2 303.2 740.3 314.4 775.6 325.5 796.8M69.3 796 80.4 769.4 91.6 760.5 102.7 756.1 113.9 736.1 125 749.4 136.1 749.4 147.3 655.2 158.4 733.9 169.6 733.9 180.7 753.9 191.8 769.4 203 782.7 214.1 758.3 225.2 740.6 236.4 722.8 247.5 709.5 258.7 749.4 269.8 753.9 280.9 749.4 292.1 731.7 303.2 745 314.4 778.3 325.5 798.2M69.3 794.5 80.4 766.2 91.6 756.8 102.7 696.2 113.9 730.9 125 745 136.1 745 147.3 730.9 158.4 728.5 169.6 728.5 180.7 749.7 191.8 766.2 203 780.3 214.1 754.4 225.2 735.6 236.4 716.7 247.5 702.6 258.7 745 269.8 749.7 280.9 745 292.1 726.2 303.2 740.3 314.4 775.6 325.5 796.8M69.3 796 80.4 723.4 91.6 760.5 102.7 701.2 113.9 736.1 125 749.4 136.1 749.4 147.3 736.1 158.4 733.9 169.6 733.9 180.7 753.9 191.8 769.4 203 782.7 214.1 758.3 225.2 740.6 236.4 722.8 247.5 709.5 258.7 749.4 269.8 753.9 280.9 749.4 292.1 731.7 303.2 745 314.4 778.3 325.5 798.2M69.3 794.5 80.4 766.2 91.6 756.8 102.7 752.1 113.9 730.9 125 745 136.1 745 147.3 730.9 158.4 728.5 169.6 728.5 180.7 749.7 191.8 766.2 203 780.3 214.1 754.4 225.2 735.6 236.4 716.7 247.5 702.6 258.7 745 269.8 654.1 280.9 745 292.1 726.2 303.2 740.3 314.4 775.6 325.5 796.8M69.3 803.7 80.4 792.7 91.6 798.2 102.7 798.2 113.9 787.1 125 792.7 136.1 798.2 147.3 792.7 158.4 798.2 169.6 820.4 180.7 859.7 191.8 859.7 203 859.7 214.1 859.7 225.2 859.7 236.4 859.7 247.5 859.7 258.7 825.9 269.8 803.7 280.9 798.2 292.1 792.7 303.2 798.2 314.4 809.3 325.5 814.8M69.3 803.7 80.4 787.1 91.6 792.7 102.7 792.7 113.9 781.6 125 792.7 136.1 798.2 147.3 787.1 158.4 792.7 169.6 798.2 180.7 814.8 191.8 842.5 203 859.7 214.1 825.9 225.2 803.7 236.4 792.7 247.5 787.1 258.7 798.2 269.8 798.2 280.9 798.2 292.1 792.7 303.2 798.2 314.4 809.3 325.5 814.8"/>
<path class="k" d="M69.3 812.9 80.4 756.4 91.6 780.2 102.7 778 113.9 717.8 125 759.6 136.1 777.3 147.3 745.5 158.4 756.3 169.6 728.2 180.7 772.2 191.8 788.3 203 790.9 214.1 775 225.2 743 236.4 739 247.5 698.3 258.7 757.2 269.8 778.1 280.9 776.9 292.1 718.1 303.2 769.2 314.4 798.1 325.5 817.2M69.3 813.6 80.4 765.5 91.6 773 102.7 779.5 113.9 729 125 757.5 136.1 778.6 147.3 760.8 158.4 756.7 169.6 734 180.7 773.1 191.8 791.1 203 794.5 214.1 766.2 225.2 738.2 236.4 736.6 247.5 696.2 258.7 735.6 269.8 776.9 280.9 775.1 292.1 720.7 303.2 762.5 314.4 796.9 325.5 814.5M69.3 814.7 80.4 742.9 91.6 779.3 102.7 780.3 113.9 709.2 125 757 136.1 773 147.3 750.9 158.4 752.1 169.6 727.6 180.7 766.5 191.8 782.3 203 789.7 214.1 763.2 225.2 747.8 236.4 724.1 247.5 701.1 258.7 739.9 269.8 764.5 280.9 784 292.1 723 303.2 761.3 314.4 786.7 325.5 807.9M69.3 814.4 80.4 758.1 91.6 768 102.7 773.3 113.9 706.7 125 758.4 136.1 769.2 147.3 754.6 158.4 747.8 169.6 721.4 180.7 764.4 191.8 779.6 203 787.7 214.1 768.4 225.2 740 236.4 726.8 247.5 702 258.7 744.1 269.8 771.2 280.9 772.3 292.1 705.1 303.2 748.6 314.4 789.8 325.5 819.3M69.3 811.3 80.4 756.2 91.6 762.1 102.7 765.9 113.9 701.3 125 743.9 136.1 778.7 147.3 749.4 158.4 747.9 169.6 713.2 180.7 764.9 191.8 768.9 203 791.2 214.1 756.4 225.2 741.7 236.4 714.5 247.5 679.4 258.7 722.3 269.8 771.7 280.9 769.3 292.1 703.3 303.2 743.6 314.4 797.5 325.5 812.1M69.3 813 80.4 754.6 91.6 770.1 102.7 770.7 113.9 692.8 125 745.5 136.1 763.2 147.3 736.6 158.4 733.4 169.6 709.4 180.7 760.8 191.8 776.1 203 778.4 214.1 771.5 225.2 738.9 236.4 707 247.5 676.8 258.7 725.7 269.8 750.3 280.9 762.9 292.1 710.4 303.2 737.9 314.4 788.1 325.5 810.8M69.3 818.4 80.4 747.1 91.6 775.5 102.7 771 113.9 683.8 125 733.2 136.1 762.3 147.3 747 158.4 736.7 169.6 693.9 180.7 750 191.8 787.2 203 786 214.1 759 225.2 737.1 236.4 704.4 247.5 663.8 258.7 742.2 269.8 766.7 280.9 767.1 292.1 694.1 303.2 749.6 314.4 790.2 325.5 819.3M69.3 819.3 80.4 746.6 91.6 770.5 102.7 765.6 113.9 683.5 125 741.3 136.1 754.6 147.3 726.2 158.4 729.6 169.6 697.4 180.7 764 191.8 770.6 203 777.8 214.1 741.9 225.2 731.2 236.4 692.6 247.5 661.9 258.7 709.5 269.8 755.7 280.9 767 292.1 696.3 303.2 741.9 314.4 788.7 325.5 811.7M69.3 808.4 80.4 762.2 91.6 775.8 102.7 772.2 113.9 741.4 125 766.2 136.1 752.3 147.3 752 158.4 747.8 169.6 746.6 180.7 780.8 191.8 797.2 203 806.5 214.1 761.1 225.2 771.4 236.4 760.8 247.5 767.4 258.7 772.5 269.8 769.2 280.9 764.6 292.1 778.9 303.2 728.5 314.4 763.9 325.5 806.8M69.3 809.5 80.4 756.3 91.6 766.7 102.7 776.1 113.9 743 125 756.6 136.1 753.1 147.3 728.5 158.4 750.4 169.6 729.1 180.7 769.1 191.8 781.4 203 791.2 214.1 762.5 225.2 763.7 236.4 716 247.5 731.6 258.7 750.4 269.8 758.3 280.9 780.7 292.1 735.7 303.2 750.8 314.4 793.6 325.5 801.8M69.3 809.9 80.4 748.3 91.6 780.2 102.7 765.3 113.9 736.6 125 762.6 136.1 764 147.3 735.8 158.4 741.2 169.6 732.3 180.7 773.4 191.8 783.4 203 788.8 214.1 761.9 225.2 773.4 236.4 757.5 247.5 767.6 258.7 768.3 269.8 778.9 280.9 775.5 292.1 770.4 303.2 749.7 314.4 784.5 325.5 819M69.3 819.3 80.4 761.1 91.6 771.7 102.7 771.3 113.9 742.2 125 757.5 136.1 759.7 147.3 732.8 158.4 747.4 169.6 725.3 180.7 776 191.8 771.4 203 788.5 214.1 776.3 225.2 750.3 236.4 745.3 247.5 694.1 258.7 765.5 269.8 768.1 280.9 781.3 292.1 724.5 303.2 734.1 314.4 805.8 325.5 819.3M69.3 819.3 80.4 750.7 91.6 771.6 102.7 783.3 113.9 725.7 125 760.3 136.1 766.6 147.3 730.4 158.4 731.2 169.6 739.2 180.7 773.3 191.8 780.9 203 783.3 214.1 768 225.2 739.4 236.4 740.4 247.5 762.7 258.7 753.4 269.8 758.2 280.9 759.8 292.1 756 303.2 725.6 314.4 787.7 325.5 817.1M69.3 817.2 80.4 744.8 91.6 767.5 102.7 773.5 113.9 755.4 125 763.3 136.1 766.6 147.3 750.1 158.4 760.6 169.6 724.4 180.7 779.9 191.8 769 203 805 214.1 770.1 225.2 764.4 236.4 735.5 247.5 739.4 258.7 770.7 269.8 763.5 280.9 778 292.1 776.3 303.2 735.4 314.4 782.4 325.5 811.4M69.3 809.9 80.4 753.5 91.6 768.2 102.7 780.3 113.9 726.6 125 772.1 136.1 760 147.3 753 158.4 760.6 169.6 737.1 180.7 790.6 191.8 787.4 203 786.7 214.1 752.5 225.2 778.1 236.4 752.5 247.5 720.8 258.7 751.9 269.8 754.4 280.9 778.8 292.1 729.5 303.2 762.9 314.4 783.8 325.5 814.3M69.3 814.8 80.4 813.7 91.6 815.9 102.7 813.7 113.9 808.2 125 803.7 136.1 789.9 147.3 787.1 158.4 778.8 169.6 778.8 180.7 784.3 191.8 789.9 203 792.7 214.1 789.9 225.2 783.2 236.4 784.3 247.5 789.9 258.7 795.4 269.8 792.7 280.9 803.7 292.1 808.2 303.2 812.1 314.4 815.9 325.5 814.8M69.3 817.6 80.4 817 91.6 817.6 102.7 817 113.9 815.9 125 815.9 136.1 795.4 147.3 795.4 158.4 781.6 169.6 780.5 180.7 787.1 191.8 792.7 203 795.4 214.1 792.7 225.2 787.1 236.4 787.1 247.5 792.7 258.7 798.2 269.8 795.4 280.9 803.7 292.1 809.3 303.2 814.8 314.4 817.6 325.5 817.6M69.3 814.8 80.4 770.5 91.6 776 102.7 808.2 113.9 726.2 125 770.5 136.1 781.6 147.3 748.3 158.4 737.2 169.6 709.5 180.7 765 191.8 781.6 203 787.1 214.1 765 225.2 748.3 236.4 715.1 247.5 709.5 258.7 753.9 269.8 770.5 280.9 770.5 292.1 742.8 303.2 765 314.4 798.2 325.5 817.6M69.3 809.3 80.4 792.7 91.6 787.1 102.7 770.5 113.9 753.9 125 789.9 136.1 776 147.3 715.1 158.4 709.5 169.6 704 180.7 759.4 191.8 781.6 203 787.1 214.1 715.1 225.2 753.9 236.4 742.8 247.5 704 258.7 748.3 269.8 798.2 280.9 801 292.1 759.4 303.2 748.3 314.4 803.7 325.5 814.8"/>
<path class="r" d="M69.3 812.1 80.4 748.3 91.6 765 102.7 765 113.9 695.7 125 742.8 136.1 773.3 147.3 734.5 158.4 737.2 169.6 701.2 180.7 765 191.8 787.1 203 798.2 214.1 759.4 225.2 737.2 236.4 698.4 247.5 671.8 258.7 731.7 269.8 765 280.9 753.9 292.1 727.3 303.2 737.2 314.4 770.5 325.5 806.5M69.3 809.3 80.4 756.6 91.6 770.5 102.7 770.5 113.9 748.3 125 773.3 136.1 753.9 147.3 740 158.4 753.9 169.6 742.8 180.7 776 191.8 789.9 203 801 214.1 759.4 225.2 773.3 236.4 759.4 247.5 767.7 258.7 773.3 269.8 765 280.9 778.8 292.1 777.7 303.2 737.2 314.4 776 325.5 809.3M69.3 803.7 80.4 792.7 91.6 787.1 102.7 773.3 113.9 745.6 125 770.5 136.1 751.1 147.3 737.2 158.4 756.6 169.6 748.3 180.7 781.6 191.8 795.4 203 798.2 214.1 762.2 225.2 770.5 236.4 762.2 247.5 770.5 258.7 770.5 269.8 765 280.9 740 292.1 725 303.2 740 314.4 781.6 325.5 809.3M69.3 806.5 80.4 753.9 91.6 767.7 102.7 771.6 113.9 751.1 125 776 136.1 756.6 147.3 742.8 158.4 751.1 169.6 740 180.7 778.8 191.8 792.7 203 795.4 214.1 758.3 225.2 771.6 236.4 758.3 247.5 765 258.7 776 269.8 767.7 280.9 776 292.1 773.3 303.2 734.5 314.4 773.3 325.5 808.2"/>
</g>
<text class="t" text-anchor="middle" x="113.9" y="898.8">5</text><text class="t" text-anchor="middle" x="169.6" y="898.8">10</text><text class="t" text-anchor="middle" x="225.2" y="898.8">15</text><text class="t" text-anchor="middle" x="280.9" y="898.8">20</text>
<text class="t" text-anchor="end" x="61.8" y="882.2">-1</text><text class="t" text-anchor="end" x="61.8" y="826.8">0</text><text class="t" text-anchor="end" x="61.8" y="771.4">1</text><text class="t" text-anchor="end" x="61.8" y="715.9">2</text><text class="t" text-anchor="end" x="61.8" y="660.5">3</text>
<text class="l" text-anchor="middle" x="197.4" y="920.6">Hour</text>
<text class="b" text-anchor="middle" x="197.4" y="647.6">Water Demand</text>
<text class="l" text-anchor="middle" transform="translate(39.5 765) rotate(-90)">Normalized Water Demand</text>
<text class="p" x="40.3" y="632.5">e</text>
</g>
<g id="panel-f">
<clipPath id="c5"><rect x="412.6" y="654.1" width="258.4" height="222.7"/></clipPath>
<rect class="a" x="413.6" y="654.1" width="257" height="221.7"/>
<path class="a" d="M458.3 875.8v-2.6 M458.3 654.1v2.6 M514.2 875.8v-2.6 M514.2 654.1v2.6 M570 875.8v-2.6 M570 654.1v2.6 M625.9 875.8v-2.6 M625.9 654.1v2.6 M413.6 875.8h2.6 M670.6 875.8h-2.6 M413.6 820.4h2.6 M670.6 820.4h-2.6 M413.6 765h2.6 M670.6 765h-2.6 M413.6 709.5h2.6 M670.6 709.5h-2.6 M413.6 654.1h2.6 M670.6 654.1h-2.6"/>
<g clip-path="url(#c5)">
<polygon points="413.6,715.7 424.8,718.2 435.9,720.6 447.1,721.7 458.3,722.8 469.5,721.7 480.6,715.1 491.8,699.5 503,689.6 514.2,684 525.3,679.6 536.5,677.4 547.7,675.2 558.9,672.4 570,669.6 581.2,667.4 592.4,666.3 603.6,669.6 614.7,679.6 625.9,686.2 637.1,692.3 648.3,697.8 659.4,704.3 670.6,710.9 670.6,820.4 659.4,815.9 648.3,811.5 637.1,808.2 625.9,806 614.7,803.7 603.6,804.9 592.4,808.2 581.2,811.5 570,813.7 558.9,813.7 547.7,814.8 536.5,815.9 525.3,818.2 514.2,820.4 503,823.7 491.8,827 480.6,830.4 469.5,829.2 458.3,830.8 447.1,830.3 435.9,829.8 424.8,828.4 413.6,827" fill="#c0c0c0" stroke="#c0c0c0" stroke-width="1.2" stroke-linejoin="round"/>
<path class="g" d="M413.6 724.3 424.8 726.9 435.9 730.1 447.1 730.4 458.3 731.8 469.5 731.7 480.6 725.2 491.8 709.1 503 697.2 514.2 695 525.3 689 536.5 688.5 547.7 686.2 558.9 682.7 570 681.9 581.2 678.7 592.4 677.4 603.6 679.8 614.7 690.2 625.9 696.3 637.1 702 648.3 707.4 659.4 714.2 670.6 719.5M413.6 716.1 424.8 718.5 435.9 720.3 447.1 720 458.3 722.6 469.5 723.2 480.6 713.5 491.8 699.4 503 690.9 514.2 684.6 525.3 679.7 536.5 677.5 547.7 675.2 558.9 674.3 570 672.1 581.2 671.2 592.4 666.7 603.6 669.2 614.7 682.2 625.9 688.1 637.1 693.8 648.3 697 659.4 703.5 670.6 707.6M413.6 715.7 424.8 717.4 435.9 721.5 447.1 723 458.3 723.3 469.5 721.3 480.6 716.1 491.8 703.5 503 693 514.2 684 525.3 678.2 536.5 677.6 547.7 673.3 558.9 672.4 570 669.6 581.2 666.7 592.4 661.5 603.6 665.4 614.7 676.7 625.9 685.2 637.1 690.5 648.3 696.2 659.4 703.6 670.6 710.1M413.6 717.3 424.8 720.9 435.9 722.9 447.1 723.2 458.3 722.7 469.5 722.6 480.6 717.2 491.8 703.9 503 693.8 514.2 687.4 525.3 684.1 536.5 679.5 547.7 676.8 558.9 675.6 570 674.3 581.2 674.6 592.4 673.8 603.6 675.8 614.7 684.1 625.9 688.9 637.1 693.7 648.3 697.7 659.4 704.6 670.6 707.8M413.6 714.9 424.8 716.4 435.9 718.7 447.1 719.3 458.3 720.8 469.5 721.1 480.6 713.8 491.8 699.4 503 688.9 514.2 683.1 525.3 678.7 536.5 677.4 547.7 676.2 558.9 674.2 570 670.7 581.2 670.8 592.4 669.1 603.6 671.2 614.7 680.5 625.9 685.1 637.1 691.5 648.3 698.7 659.4 706.3 670.6 711.3M413.6 716.5 424.8 719.7 435.9 721.1 447.1 722.3 458.3 722.9 469.5 721.9 480.6 715.5 491.8 700 503 690 514.2 685.5 525.3 682.4 536.5 678.8 547.7 676.2 558.9 672.2 570 667.7 581.2 667.1 592.4 668 603.6 670.3 614.7 678.5 625.9 686 637.1 692 648.3 698.1 659.4 704.7 670.6 711.8M413.6 718.1 424.8 721.6 435.9 721.7 447.1 722.9 458.3 726.1 469.5 725.2 480.6 718.1 491.8 701.6 503 691.1 514.2 686.6 525.3 682.8 536.5 678.7 547.7 678.5 558.9 675.9 570 673.6 581.2 669.5 592.4 666.5 603.6 670.2 614.7 680.2 625.9 688.6 637.1 694.2 648.3 698.3 659.4 704.5 670.6 712.9M413.6 715.6 424.8 719.4 435.9 722.6 447.1 724.5 458.3 725.4 469.5 723.5 480.6 715.6 491.8 701.5 503 690.2 514.2 684.3 525.3 678.4 536.5 676.2 547.7 674.4 558.9 671.9 570 671.6 581.2 668.6 592.4 665.9 603.6 671 614.7 681 625.9 685.4 637.1 691.5 648.3 697.1 659.4 704.3 670.6 711.5M413.6 717.4 424.8 717.4 435.9 721.6 447.1 721 458.3 723.2 469.5 723.8 480.6 717 491.8 703.1 503 692.4 514.2 687 525.3 683.4 536.5 679.6 547.7 677.1 558.9 676.3 570 675.1 581.2 670.3 592.4 668.3 603.6 673.5 614.7 680.7 625.9 686.9 637.1 694.4 648.3 698.4 659.4 706.1 670.6 712.6M413.6 714.5 424.8 717.7 435.9 719.7 447.1 720.3 458.3 721.4 469.5 721.9 480.6 713.4 491.8 700.4 503 690.2 514.2 683.6 525.3 680 536.5 676.7 547.7 673.1 558.9 671.7 570 669.6 581.2 665.4 592.4 663.1 603.6 665.9 614.7 677.6 625.9 685.2 637.1 691.4 648.3 698.6 659.4 705.6 670.6 711.9M413.6 725.2 424.8 725.5 435.9 727.6 447.1 729.4 458.3 728 469.5 728.8 480.6 722.7 491.8 707.8 503 698.8 514.2 692.6 525.3 688.3 536.5 686.8 547.7 685.1 558.9 680.5 570 676.3 581.2 673.4 592.4 674 603.6 676.3 614.7 685.6 625.9 690.6 637.1 699.3 648.3 703.1 659.4 709 670.6 715.6M413.6 717.4 424.8 720 435.9 722.5 447.1 722 458.3 725 469.5 724.6 480.6 719.3 491.8 703.2 503 692.5 514.2 685.8 525.3 683.3 536.5 681.1 547.7 677.6 558.9 674.8 570 672.2 581.2 671.2 592.4 669 603.6 675 614.7 681.9 625.9 690.1 637.1 695.7 648.3 701.2 659.4 708.4 670.6 712.7M413.6 721.4 424.8 722.7 435.9 724.2 447.1 726.4 458.3 727.4 469.5 726.4 480.6 720.6 491.8 706.1 503 697.2 514.2 692.6 525.3 686 536.5 684.8 547.7 681.4 558.9 676.6 570 674.3 581.2 674.8 592.4 672.3 603.6 674.6 614.7 684.1 625.9 692.7 637.1 699.3 648.3 703.3 659.4 709.6 670.6 715.4M413.6 716.7 424.8 717.6 435.9 719.7 447.1 721.4 458.3 722.4 469.5 721.2 480.6 714.4 491.8 698.7 503 689.3 514.2 684.9 525.3 681.5 536.5 678.5 547.7 675.6 558.9 671.5 570 671.9 581.2 668.3 592.4 665.6 603.6 669.5 614.7 681.8 625.9 688 637.1 692.1 648.3 695.4 659.4 703.1 670.6 710.8M413.6 713.1 424.8 718.1 435.9 719.7 447.1 719.5 458.3 720.2 469.5 718 480.6 712 491.8 695.3 503 686.9 514.2 680.9 525.3 676.8 536.5 675.8 547.7 671 558.9 668.7 570 669.3 581.2 665.1 592.4 665.4 603.6 667.3 614.7 678 625.9 686.5 637.1 693 648.3 697.4 659.4 702.4 670.6 709.6M413.6 722.1 424.8 725.4 435.9 726.2 447.1 728 458.3 728.1 469.5 725.7 480.6 719.7 491.8 704.6 503 692.4 514.2 687.8 525.3 683.3 536.5 681 547.7 678 558.9 676 570 672.6 581.2 670.4 592.4 670.6 603.6 675.5 614.7 686 625.9 689.8 637.1 695.9 648.3 703 659.4 708.6 670.6 714.3M413.6 717.6 424.8 720.6 435.9 722.4 447.1 722.6 458.3 724.1 469.5 724.2 480.6 716.4 491.8 701.4 503 690.6 514.2 684.1 525.3 679.5 536.5 676.4 547.7 674.4 558.9 671.9 570 669.7 581.2 668.2 592.4 663.8 603.6 668 614.7 678.1 625.9 686.4 637.1 690.4 648.3 697 659.4 704.5 670.6 712M413.6 713.9 424.8 717.5 435.9 718.9 447.1 722.3 458.3 720.9 469.5 719.1 480.6 714.6 491.8 699.7 503 688.9 514.2 684.5 525.3 679.6 536.5 678.5 547.7 675.1 558.9 672.5 570 670.8 581.2 669.6 592.4 668.2 603.6 669.4 614.7 679.3 625.9 686.3 637.1 691.2 648.3 696.9 659.4 704 670.6 711.1M413.6 714.1 424.8 717.7 435.9 721.8 447.1 722.8 458.3 723.9 469.5 723.8 480.6 718.9 491.8 701.1 503 692.4 514.2 685.1 525.3 680 536.5 679.1 547.7 676.2 558.9 674.5 570 671.1 581.2 669.4 592.4 666.9 603.6 670.9 614.7 678.3 625.9 685.7 637.1 691.2 648.3 696.7 659.4 705.4 670.6 711.6M413.6 720.7 424.8 721.7 435.9 722.3 447.1 723.7 458.3 725.3 469.5 723.7 480.6 716.1 491.8 701.9 503 691.4 514.2 685.7 525.3 681.2 536.5 679.7 547.7 678.5 558.9 674.1 570 670.9 581.2 670.4 592.4 669.8 603.6 669.8 614.7 680.1 625.9 686.9 637.1 695.6 648.3 701.4 659.4 706.9 670.6 713.9M413.6 716.1 424.8 719.1 435.9 719.7 447.1 721.3 458.3 723.8 469.5 723.5 480.6 714.2 491.8 698.9 503 687.7 514.2 683.3 525.3 680.5 536.5 682.2 547.7 679.8 558.9 677.4 570 671.5 581.2 671.3 592.4 667.2 603.6 672.5 614.7 683.4 625.9 689.8 637.1 694.4 648.3 700.6 659.4 705.6 670.6 710.5M413.6 718.3 424.8 721.7 435.9 724.3 447.1 724.9 458.3 725.6 469.5 725.4 480.6 718.4 491.8 700.5 503 691.4 514.2 685.8 525.3 682.6 536.5 677.2 547.7 678.8 558.9 678 570 673.7 581.2 673.4 592.4 673.5 603.6 676.2 614.7 683.5 625.9 688.6 637.1 694.1 648.3 698.7 659.4 704.5 670.6 712.7M413.6 824.7 424.8 824.8 435.9 826.9 447.1 831.3 458.3 831.5 469.5 830.4 480.6 829.8 491.8 826.9 503 822.7 514.2 818.2 525.3 813.5 536.5 809.6 547.7 809.7 558.9 812.1 570 810.5 581.2 808.3 592.4 808 603.6 805.7 614.7 803.3 625.9 804.2 637.1 805.5 648.3 809.2 659.4 816.7 670.6 822.5M413.6 827.7 424.8 827.4 435.9 831.4 447.1 830.9 458.3 829.3 469.5 824.5 480.6 827.9 491.8 824.7 503 824.6 514.2 823.6 525.3 818.8 536.5 814.3 547.7 812.1 558.9 811.7 570 811.6 581.2 812.8 592.4 809.9 603.6 807 614.7 806.4 625.9 807.4 637.1 809.1 648.3 811.8 659.4 813.3 670.6 816.6M413.6 825.1 424.8 825.6 435.9 827.4 447.1 826.1 458.3 827.4 469.5 824.8 480.6 826.7 491.8 822.7 503 822.3 514.2 815.8 525.3 812.4 536.5 811.7 547.7 815.5 558.9 813.8 570 814.1 581.2 810.2 592.4 807.6 603.6 803.2 614.7 802.5 625.9 802.7 637.1 804.1 648.3 805.7 659.4 811.3 670.6 818.1M413.6 827.3 424.8 830 435.9 828.8 447.1 829.9 458.3 829.8 469.5 831.5 480.6 832.8 491.8 830.3 503 825.7 514.2 821.7 525.3 819.8 536.5 818.1 547.7 815.8 558.9 812.3 570 813.4 581.2 807.2 592.4 803.4 603.6 803 614.7 799.6 625.9 801.4 637.1 801.5 648.3 805.8 659.4 813 670.6 819.4M413.6 828.4 424.8 829.1 435.9 831.2 447.1 831.7 458.3 832.4 469.5 832.7 480.6 831.6 491.8 829.3 503 825.8 514.2 821.9 525.3 816.4 536.5 817.3 547.7 817.3 558.9 819.1 570 818 581.2 811.6 592.4 806.8 603.6 803.4 614.7 804.4 625.9 807.3 637.1 810 648.3 812.9 659.4 815.1 670.6 818.5M413.6 822.9 424.8 826.5 435.9 828.1 447.1 830.7 458.3 829.9 469.5 829.4 480.6 828.6 491.8 827.9 503 825 514.2 820.3 525.3 814.9 536.5 813.5 547.7 813.5 558.9 812.8 570 815 581.2 811.6 592.4 809.1 603.6 805.4 614.7 800.9 625.9 801.4 637.1 806.2 648.3 808.3 659.4 814.9 670.6 819.9M413.6 820.8 424.8 822.1 435.9 824.4 447.1 825.1 458.3 827.4 469.5 826.9 480.6 826.7 491.8 822.9 503 817.8 514.2 812.8 525.3 812.3 536.5 808.9 547.7 806.7 558.9 805.2 570 805.2 581.2 802.7 592.4 799.5 603.6 794.4 614.7 794.4 625.9 800.8 637.1 803.9 648.3 808.2 659.4 811.9 670.6 816M413.6 824.3 424.8 826.4 435.9 829.1 447.1 830.3 458.3 831.9 469.5 829.8 480.6 830.2 491.8 826.5 503 823 514.2 815.8 525.3 815.8 536.5 816.3 547.7 813.4 558.9 813.3 570 816.6 581.2 812.1 592.4 811.2 603.6 804.2 614.7 800.7 625.9 803.4 637.1 806.4 648.3 811.2 659.4 816 670.6 819.3M413.6 822.3 424.8 824.4 435.9 826.3 447.1 827.4 458.3 827.1 469.5 824.1 480.6 825.1 491.8 820.8 503 818.5 514.2 812.5 525.3 808.2 536.5 809.2 547.7 808 558.9 808.4 570 809.8 581.2 807.8 592.4 804.3 603.6 797.3 614.7 796 625.9 799.2 637.1 802.6 648.3 804.3 659.4 810.9 670.6 816.3M413.6 825.9 424.8 828.9 435.9 828.9 447.1 828.1 458.3 829.8 469.5 828.5 480.6 832.5 491.8 829.1 503 826.1 514.2 821.4 525.3 821 536.5 817.6 547.7 815.7 558.9 812.9 570 813.4 581.2 813.5 592.4 810.2 603.6 806.6 614.7 801.1 625.9 805.8 637.1 808.4 648.3 812.3 659.4 815.9 670.6 821.4M413.6 824.8 424.8 825.1 435.9 825.1 447.1 825.7 458.3 826 469.5 826.4 480.6 825.5 491.8 823.8 503 823.3 514.2 818.6 525.3 814.8 536.5 810.9 547.7 812 558.9 812.7 570 812.7 581.2 812.3 592.4 809.5 603.6 801.8 614.7 799.5 625.9 800.2 637.1 803.4 648.3 808.8 659.4 813.6 670.6 817.4M413.6 820.7 424.8 823.5 435.9 824.3 447.1 827.2 458.3 829.3 469.5 826.1 480.6 826.7 491.8 819.3 503 815.9 514.2 812.4 525.3 811.2 536.5 810.1 547.7 809.5 558.9 809.3 570 810.4 581.2 806.2 592.4 803.8 603.6 800.4 614.7 798.3 625.9 800.6 637.1 804.1 648.3 806.4 659.4 811.2 670.6 814.4M413.6 827.5 424.8 827.8 435.9 830.1 447.1 829.2 458.3 830 469.5 832.3 480.6 831.3 491.8 829.3 503 826 514.2 822.8 525.3 821.8 536.5 814.3 547.7 813.5 558.9 811.5 570 811.5 581.2 809.7 592.4 807.9 603.6 806.7 614.7 802.3 625.9 805.9 637.1 807.1 648.3 807 659.4 814.6 670.6 819.9M413.6 828.1 424.8 828.9 435.9 830.1 447.1 829.9 458.3 831.6 469.5 828.3 480.6 828 491.8 825 503 819.3 514.2 817.9 525.3 817.3 536.5 814.2 547.7 811.4 558.9 808.7 570 812.6 581.2 812.5 592.4 807.8 603.6 807.2 614.7 805 625.9 805.5 637.1 807.3 648.3 808.8 659.4 817.9 670.6 819.9M413.6 827.2 424.8 826.9 435.9 830.1 447.1 830.1 458.3 829.4 469.5 828.6 480.6 828.4 491.8 824 503 818.7 514.2 816.2 525.3 812.5 536.5 812.6 547.7 808.7 558.9 807.8 570 811.2 581.2 806.6 592.4 803.8 603.6 802.3 614.7 799.9 625.9 802.7 637.1 804.4 648.3 807.7 659.4 815.7 670.6 818.8M413.6 825 424.8 826.9 435.9 828.7 447.1 829.5 458.3 830.6 469.5 828.2 480.6 829.6 491.8 824.6 503 820.3 514.2 818.3 525.3 819.4 536.5 818.4 547.7 816.5 558.9 816 570 814.9 581.2 813.1 592.4 807.9 603.6 807.5 614.7 802.9 625.9 804 637.1 807.1 648.3 811.8 659.4 815.6 670.6 818.8M413.6 826.6 424.8 828.6 435.9 831.3 447.1 830.4 458.3 829.8 469.5 826.2 480.6 826.7 491.8 826.5 503 823.3 514.2 820.3 525.3 816.9 536.5 816.5 547.7 816 558.9 813.8 570 816.6 581.2 810.5 592.4 812 603.6 809.3 614.7 806.1 625.9 808.9 637.1 811 648.3 812.5 659.4 816.9 670.6 820.9M413.6 822.6 424.8 826.3 435.9 827.8 447.1 827.3 458.3 830.5 469.5 828.6 480.6 829.3 491.8 823.6 503 822.3 514.2 820.6 525.3 822.2 536.5 817.7 547.7 815.5 558.9 814 570 816.9 581.2 813.2 592.4 809.9 603.6 808.4 614.7 805.8 625.9 806.2 637.1 808.1 648.3 809.6 659.4 815.6 670.6 820.5M413.6 820.1 424.8 820.3 435.9 824 447.1 824.6 458.3 825.9 469.5 822.6 480.6 821.8 491.8 822.9 503 819.9 514.2 815.2 525.3 816.2 536.5 809.8 547.7 810.5 558.9 811.1 570 809.4 581.2 806.4 592.4 804.9 603.6 799.7 614.7 798.8 625.9 801.5 637.1 805.2 648.3 806.7 659.4 811.3 670.6 816.2M413.6 827.2 424.8 828.3 435.9 829.5 447.1 829.8 458.3 830.3 469.5 828.1 480.6 829.4 491.8 829 503 824.1 514.2 819.6 525.3 818.3 536.5 814.4 547.7 814.7 558.9 816 570 816.2 581.2 812.1 592.4 806.7 603.6 807.5 614.7 804.9 625.9 807.7 637.1 810.8 648.3 813.6 659.4 816 670.6 821.7M413.6 824.1 424.8 826.2 435.9 827.5 447.1 826.1 458.3 827 469.5 826.8 480.6 826.8 491.8 825.8 503 823.2 514.2 820.3 525.3 816.1 536.5 815.8 547.7 816.8 558.9 814.2 570 815.1 581.2 812.8 592.4 807.6 603.6 799.8 614.7 802.1 625.9 805.4 637.1 807.1 648.3 813.2 659.4 815.3 670.6 817.3M413.6 818.8 424.8 820.4 435.9 822.2 447.1 820.9 458.3 823.3 469.5 821.9 480.6 821.5 491.8 818.8 503 815.1 514.2 814.3 525.3 810 536.5 807.4 547.7 805.3 558.9 803.8 570 802.8 581.2 801.5 592.4 797.5 603.6 795.4 614.7 792.6 625.9 796.6 637.1 800.7 648.3 802.5 659.4 807.2 670.6 812.8M413.6 829.4 424.8 830.2 435.9 833.1 447.1 831.8 458.3 834.9 469.5 833.9 480.6 836.7 491.8 837.2 503 837.4 514.2 835 525.3 831.2 536.5 829.3 547.7 825.5 558.9 824.3 570 820.6 581.2 817.4 592.4 812.8 603.6 808.2 614.7 807.4 625.9 808 637.1 809.1 648.3 811.7 659.4 817.3 670.6 822.7M413.6 830 424.8 830.8 435.9 832.3 447.1 833.4 458.3 836.1 469.5 837.3 480.6 838.2 491.8 838.4 503 837.6 514.2 836.3 525.3 835.7 536.5 830.6 547.7 827.5 558.9 822.5 570 818.7 581.2 813.7 592.4 810.9 603.6 809.3 614.7 803 625.9 807 637.1 809.4 648.3 813.6 659.4 817.2 670.6 821.3M413.6 830.1 424.8 829.3 435.9 828.4 447.1 831 458.3 832.8 469.5 833 480.6 835.6 491.8 837.8 503 835.8 514.2 835.3 525.3 833 536.5 828.6 547.7 824.2 558.9 820.8 570 818.1 581.2 813.4 592.4 809.8 603.6 805.2 614.7 805.2 625.9 810 637.1 811.5 648.3 814.3 659.4 818.5 670.6 824.6M413.6 829.8 424.8 831.3 435.9 829.9 447.1 832.4 458.3 834.1 469.5 833.2 480.6 835.9 491.8 833.3 503 832.1 514.2 831.3 525.3 829.2 536.5 827.3 547.7 824 558.9 818.2 570 818.5 581.2 814.3 592.4 811.9 603.6 809.2 614.7 806 625.9 808.2 637.1 811.4 648.3 814.8 659.4 818.8 670.6 822.8M413.6 828.3 424.8 829.8 435.9 830.8 447.1 831.3 458.3 832.7 469.5 831.8 480.6 834.7 491.8 832.5 503 828.3 514.2 827.7 525.3 823.9 536.5 820.7 547.7 821 558.9 820.2 570 818.8 581.2 814.8 592.4 811.3 603.6 806.7 614.7 806 625.9 809.8 637.1 810.6 648.3 813 659.4 818.1 670.6 822.9M413.6 829.2 424.8 832.7 435.9 834 447.1 832.4 458.3 835.3 469.5 835.2 480.6 839.8 491.8 838.3 503 836.2 514.2 834.9 525.3 833 536.5 828.5 547.7 823.7 558.9 820.3 570 817.8 581.2 813.6 592.4 811.9 603.6 806 614.7 803.7 625.9 805.2 637.1 808.2 648.3 811.9 659.4 817.7 670.6 821.2M413.6 830.1 424.8 829.9 435.9 832 447.1 833.5 458.3 834 469.5 834.4 480.6 839.2 491.8 840 503 842.7 514.2 842 525.3 839 536.5 833.4 547.7 827.8 558.9 824.3 570 821.1 581.2 816 592.4 810.4 603.6 807.9 614.7 807.3 625.9 810.4 637.1 811.6 648.3 814 659.4 817.2 670.6 822.4M413.6 831.3 424.8 828.8 435.9 830.3 447.1 830.6 458.3 834.1 469.5 834.8 480.6 838.1 491.8 835.8 503 834.1 514.2 833.5 525.3 830.7 536.5 827.5 547.7 823.9 558.9 819.3 570 817.3 581.2 813 592.4 809 603.6 808.3 614.7 805.8 625.9 808 637.1 811.7 648.3 815.1 659.4 820.6 670.6 824.9M413.6 829 424.8 828.8 435.9 831.8 447.1 831.7 458.3 831.2 469.5 832.5 480.6 835.3 491.8 833.9 503 831.5 514.2 830.3 525.3 829.7 536.5 826.9 547.7 824.5 558.9 820.8 570 817.8 581.2 814 592.4 811 603.6 806.7 614.7 807.7 625.9 809.2 637.1 809.4 648.3 813.4 659.4 818.5 670.6 821.4M413.6 829.2 424.8 829 435.9 831.3 447.1 832.6 458.3 834.4 469.5 834.5 480.6 840 491.8 842.1 503 841.8 514.2 839.3 525.3 836.9 536.5 833.5 547.7 826.9 558.9 822 570 818.9 581.2 815.9 592.4 812.5 603.6 807 614.7 806.7 625.9 807.5 637.1 811.3 648.3 813.7 659.4 820.4 670.6 823.4"/>
<path class="k" d="M413.6 723.8 424.8 728.9 435.9 731.1 447.1 732.6 458.3 733.9 469.5 733.2 480.6 726.3 491.8 715.5 503 705.9 514.2 698.4 525.3 691.1 536.5 684.8 547.7 680.7 558.9 676 570 673.9 581.2 673.6 592.4 674.9 603.6 677.6 614.7 683.5 625.9 689 637.1 694.7 648.3 703 659.4 711.1 670.6 719.6M413.6 727.4 424.8 729 435.9 730.9 447.1 732.7 458.3 734.1 469.5 733.9 480.6 731.6 491.8 725.8 503 720.1 514.2 714.8 525.3 708.9 536.5 704.9 547.7 702.1 558.9 700 570 697.8 581.2 696.6 592.4 697.4 603.6 699.7 614.7 702.5 625.9 705.4 637.1 709 648.3 714.9 659.4 719.8 670.6 726.1M413.6 733.4 424.8 736.6 435.9 737.9 447.1 739.2 458.3 737.7 469.5 732.6 480.6 725.8 491.8 718.9 503 714.2 514.2 709.8 525.3 705.9 536.5 703.4 547.7 699.7 558.9 698.9 570 697.6 581.2 699.3 592.4 702.2 603.6 706.2 614.7 710.2 625.9 714.9 637.1 720.4 648.3 726.6 659.4 733.2 670.6 734.7M413.6 734.8 424.8 735 435.9 737.9 447.1 740 458.3 740.4 469.5 742.2 480.6 740.6 491.8 735.6 503 729 514.2 722.6 525.3 717.3 536.5 712.6 547.7 709.8 558.9 707.7 570 703.9 581.2 701.8 592.4 701.5 603.6 703.1 614.7 706 625.9 708.2 637.1 712.9 648.3 717.2 659.4 721 670.6 727.6M413.6 742.5 424.8 744.7 435.9 747.1 447.1 747.6 458.3 747.7 469.5 745.1 480.6 739.6 491.8 731.2 503 724 514.2 720 525.3 715.3 536.5 711 547.7 707.7 558.9 705.2 570 704.2 581.2 705.9 592.4 706.8 603.6 709.7 614.7 712.3 625.9 716.1 637.1 720.9 648.3 726.8 659.4 733.3 670.6 738.7M413.6 747 424.8 749.8 435.9 752.7 447.1 754.1 458.3 754.8 469.5 753.7 480.6 750 491.8 741.8 503 734.2 514.2 727.5 525.3 722.4 536.5 718 547.7 714.8 558.9 712.2 570 711 581.2 708.9 592.4 710.1 603.6 712 614.7 714.2 625.9 717.2 637.1 722.7 648.3 729.1 659.4 732.6 670.6 738.7M413.6 756.3 424.8 756.8 435.9 758.6 447.1 761.5 458.3 762.6 469.5 764.1 480.6 762.1 491.8 755.8 503 746.8 514.2 740.1 525.3 733.9 536.5 728.2 547.7 724.4 558.9 720.8 570 717.8 581.2 716.5 592.4 714.5 603.6 716.2 614.7 718.2 625.9 722.3 637.1 726 648.3 732.1 659.4 737.4 670.6 743M413.6 763 424.8 765.2 435.9 767.9 447.1 768.8 458.3 769.7 469.5 766.5 480.6 758.8 491.8 749.5 503 743.1 514.2 736.6 525.3 731 536.5 727.1 547.7 723.1 558.9 721 570 720 581.2 720.6 592.4 722.6 603.6 725.1 614.7 728.9 625.9 733.4 637.1 738.5 648.3 746.2 659.4 752.5 670.6 756.5M413.6 774.1 424.8 777.7 435.9 778 447.1 779.8 458.3 781.2 469.5 780 480.6 776.5 491.8 769.1 503 762.7 514.2 756 525.3 750.9 536.5 747.5 547.7 744.8 558.9 741.2 570 739.9 581.2 740.2 592.4 739.9 603.6 741.3 614.7 743 625.9 744.3 637.1 747.2 648.3 752.4 659.4 756.6 670.6 761.6M413.6 778.3 424.8 777.5 435.9 780.7 447.1 782.4 458.3 783.6 469.5 785.2 480.6 784.4 491.8 779.7 503 772.8 514.2 767.4 525.3 761.3 536.5 756.6 547.7 752.5 558.9 750.8 570 748 581.2 747 592.4 746.2 603.6 746.7 614.7 748.3 625.9 749.6 637.1 753.7 648.3 758.1 659.4 762.3 670.6 768.1M413.6 782.1 424.8 783.7 435.9 785 447.1 786.8 458.3 787.6 469.5 787.3 480.6 785.1 491.8 778.7 503 772.5 514.2 768.9 525.3 764.9 536.5 762.4 547.7 760.1 558.9 756.6 570 754.3 581.2 753.4 592.4 753.7 603.6 755.5 614.7 756.6 625.9 758 637.1 760.8 648.3 763.7 659.4 767.2 670.6 771.9M413.6 788.3 424.8 789.5 435.9 790.9 447.1 791.1 458.3 790.7 469.5 788.1 480.6 781.6 491.8 776.4 503 772.1 514.2 767.9 525.3 764.2 536.5 762.4 547.7 759.8 558.9 758.2 570 758.1 581.2 757.3 592.4 759.5 603.6 761.2 614.7 762.3 625.9 764.6 637.1 768.4 648.3 772.8 659.4 776.7 670.6 776.6M413.6 787.7 424.8 787.8 435.9 790.2 447.1 792 458.3 792.9 469.5 793.2 480.6 790.8 491.8 785.8 503 781.1 514.2 775.3 525.3 770.3 536.5 766.9 547.7 764.2 558.9 761.4 570 759 581.2 759.2 592.4 759.8 603.6 761.6 614.7 762.9 625.9 764.9 637.1 767.5 648.3 771 659.4 775.1 670.6 779.9M413.6 792.8 424.8 795 435.9 796.5 447.1 797.6 458.3 798.1 469.5 798.2 480.6 794.6 491.8 788.1 503 782.9 514.2 777.4 525.3 772.5 536.5 770.4 547.7 767.7 558.9 765.1 570 763.2 581.2 762.5 592.4 762.2 603.6 762.5 614.7 764.3 625.9 765.7 637.1 769.1 648.3 773.6 659.4 777.6 670.6 781.3M413.6 797.8 424.8 799.4 435.9 801.3 447.1 801.3 458.3 802.4 469.5 799.1 480.6 794.8 491.8 789.8 503 784.6 514.2 780.2 525.3 777.2 536.5 773.9 547.7 771.2 558.9 769.6 570 767.8 581.2 768.6 592.4 769.6 603.6 772.2 614.7 774.4 625.9 776 637.1 778.8 648.3 782.4 659.4 787.5 670.6 789.8M413.6 799.7 424.8 800.5 435.9 803.8 447.1 804.8 458.3 805.2 469.5 805.8 480.6 803.3 491.8 798.2 503 791.1 514.2 786.1 525.3 781.9 536.5 779.1 547.7 777.5 558.9 774.5 570 771.5 581.2 770.5 592.4 769.8 603.6 770.9 614.7 773.7 625.9 776 637.1 780.1 648.3 783.8 659.4 789 670.6 793.5M413.6 804 424.8 806.3 435.9 809.1 447.1 808.4 458.3 808.6 469.5 809.4 480.6 804.5 491.8 798.5 503 792.8 514.2 788.1 525.3 784.2 536.5 779.8 547.7 776.7 558.9 773.8 570 773.2 581.2 772.5 592.4 770.6 603.6 771 614.7 771.5 625.9 774.7 637.1 777.5 648.3 780.8 659.4 783.9 670.6 787.7M413.6 806.3 424.8 808.4 435.9 810.9 447.1 811 458.3 812.6 469.5 811.5 480.6 807.5 491.8 800.5 503 794.1 514.2 789.2 525.3 784.7 536.5 782.5 547.7 780.7 558.9 778.3 570 777.2 581.2 775.9 592.4 774.1 603.6 774.6 614.7 776.3 625.9 777.4 637.1 780 648.3 783.6 659.4 787.2 670.6 791.2M413.6 818.9 424.8 822.1 435.9 823.7 447.1 825.3 458.3 826.4 469.5 824.7 480.6 820.1 491.8 814.4 503 808.1 514.2 801.6 525.3 796.8 536.5 792 547.7 789.9 558.9 788.2 570 787.2 581.2 786.3 592.4 787.7 603.6 790.3 614.7 792.1 625.9 794.9 637.1 797.6 648.3 803.8 659.4 809.1 670.6 814"/>
<path class="r" d="M413.6 791.6 424.8 790.8 435.9 794.5 447.1 797.2 458.3 798.6 469.5 797.1 480.6 793.1 491.8 785 503 777.2 514.2 769.6 525.3 764.8 536.5 761.1 547.7 755.6 558.9 752.4 570 752.2 581.2 750.9 592.4 749 603.6 753.2 614.7 755.2 625.9 758.4 637.1 763.6 648.3 769 659.4 774.3 670.6 779.9M413.6 792.5 424.8 792.5 435.9 796 447.1 798.5 458.3 798.4 469.5 798.1 480.6 797 491.8 792.6 503 784.3 514.2 779.2 525.3 772.6 536.5 769 547.7 764.3 558.9 761.7 570 760.2 581.2 759.9 592.4 758.5 603.6 760.2 614.7 761.8 625.9 763.9 637.1 768.6 648.3 772.1 659.4 776.8 670.6 782.3M413.6 804.7 424.8 806.2 435.9 807.6 447.1 810.4 458.3 812 469.5 810.5 480.6 806.6 491.8 799.1 503 789.7 514.2 783.4 525.3 775.6 536.5 775 547.7 769.5 558.9 766 570 765 581.2 763 592.4 761.8 603.6 764.5 614.7 765.3 625.9 768.2 637.1 773.4 648.3 778.9 659.4 782.5 670.6 790.1M413.6 809.7 424.8 811.2 435.9 810.4 447.1 815.1 458.3 815.8 469.5 816.2 480.6 811.3 491.8 804.4 503 798.8 514.2 791.8 525.3 787.1 536.5 781 547.7 778.1 558.9 778.6 570 777.5 581.2 777.1 592.4 776.6 603.6 778.8 614.7 779.9 625.9 783.8 637.1 790.1 648.3 793.9 659.4 797.9 670.6 803.7"/>
</g>
<text class="t" text-anchor="middle" x="458.3" y="898.8">5</text><text class="t" text-anchor="middle" x="514.2" y="898.8">10</text><text class="t" text-anchor="middle" x="570" y="898.8">15</text><text class="t" text-anchor="middle" x="625.9" y="898.8">20</text>
<text class="t" text-anchor="end" x="406.1" y="882.2">0</text><text class="t" text-anchor="end" x="406.1" y="826.8">0.5</text><text class="t" text-anchor="end" x="406.1" y="771.4">1</text><text class="t" text-anchor="end" x="406.1" y="715.9">1.5</text><text class="t" text-anchor="end" x="406.1" y="660.5">2</text>
<text class="l" text-anchor="middle" x="542.1" y="920.6">Hour</text>
<text class="b" text-anchor="middle" x="542.1" y="647.6">Power Demand</text>
<text class="l" text-anchor="middle" transform="translate(376 765) rotate(-90)">Normalized Power Demand</text>
<text class="p" x="387.9" y="632.5">f</text>
</g>
</svg>
</body></html>
